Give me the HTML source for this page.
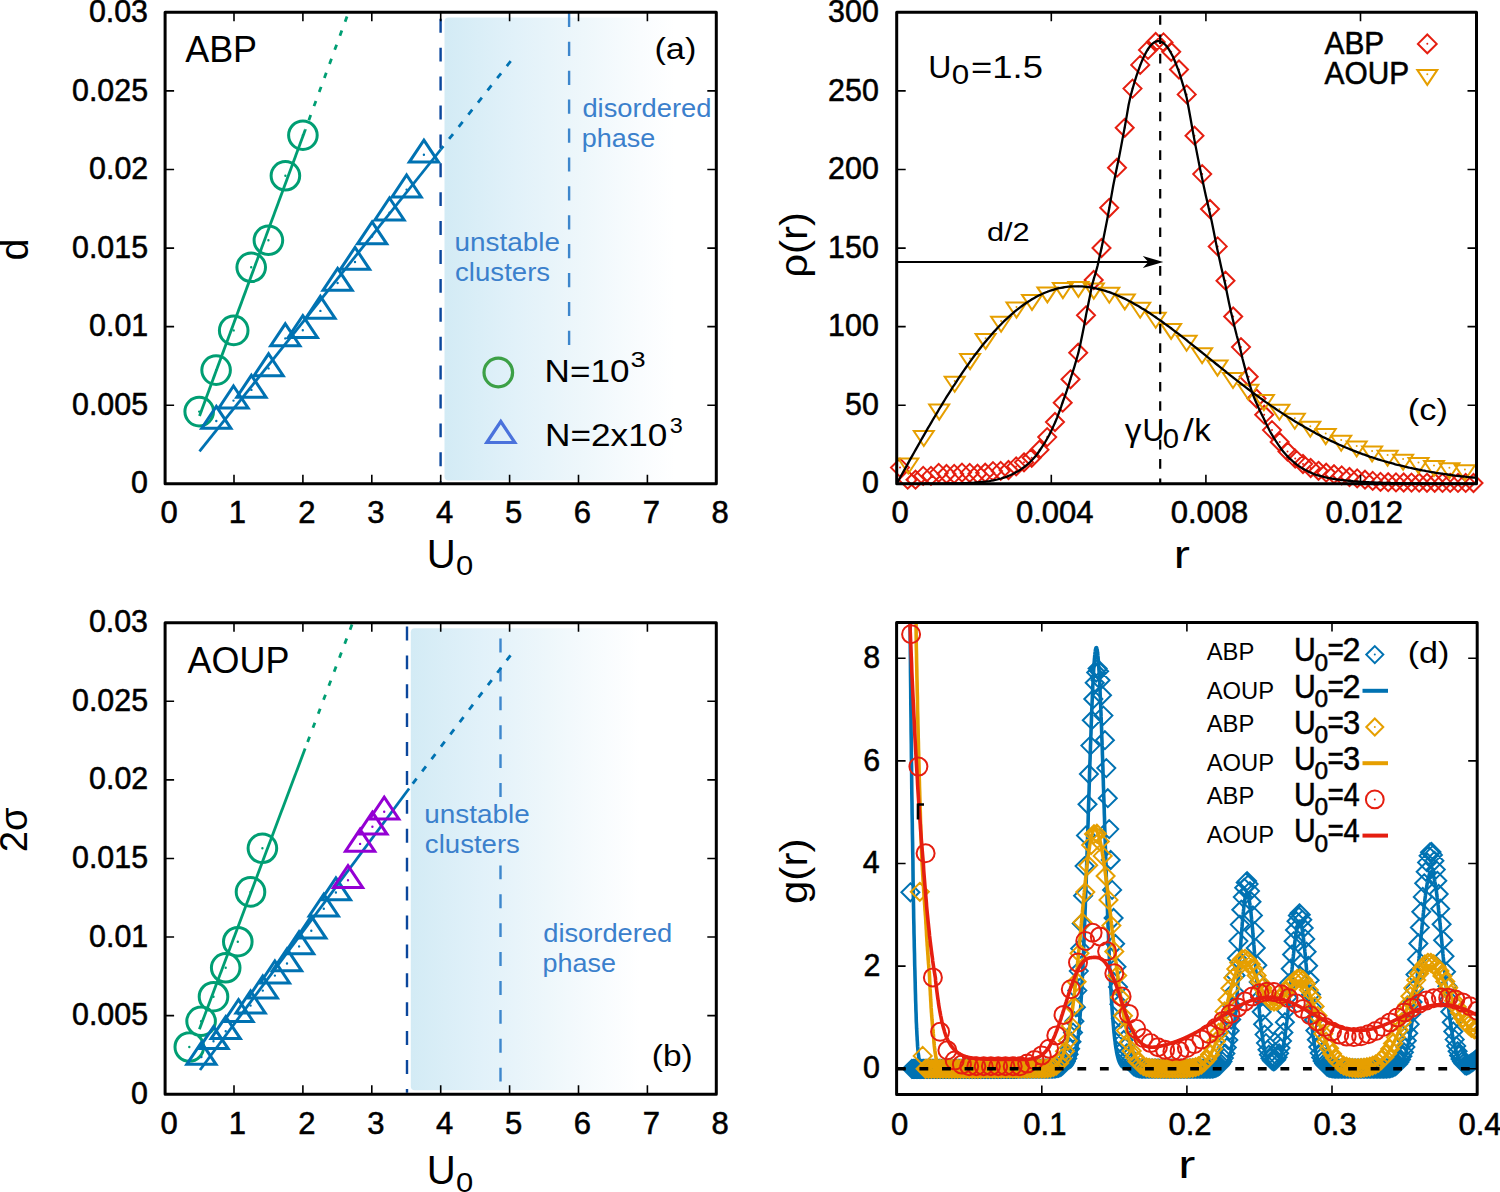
<!DOCTYPE html><html><head><meta charset="utf-8"><style>html,body{margin:0;padding:0;background:#fff;overflow:hidden;width:1500px;height:1192px;}svg{display:block;}</style></head><body><svg width="1500" height="1192" viewBox="0 0 1500 1192" font-family="'Liberation Sans', sans-serif"><defs><linearGradient id="ga" gradientUnits="userSpaceOnUse" x1="444.5" x2="675" y1="0" y2="0"><stop offset="0" stop-color="#d3ebf5"/><stop offset="0.3" stop-color="#e1f1f9"/><stop offset="0.6" stop-color="#eef7fb"/><stop offset="0.85" stop-color="#f9fcfe"/><stop offset="1" stop-color="#ffffff"/></linearGradient><linearGradient id="gb" gradientUnits="userSpaceOnUse" x1="410.8" x2="640" y1="0" y2="0"><stop offset="0" stop-color="#d3ebf5"/><stop offset="0.3" stop-color="#e1f1f9"/><stop offset="0.6" stop-color="#eef7fb"/><stop offset="0.85" stop-color="#f9fcfe"/><stop offset="1" stop-color="#ffffff"/></linearGradient><clipPath id="clipC"><rect x="896.7" y="12.2" width="579.8" height="471.6"/></clipPath><clipPath id="clipD"><rect x="896.6" y="622.4" width="580.6" height="472.0000000000001"/></clipPath><clipPath id="clipA"><rect x="165.1" y="12.3" width="551.1999999999999" height="471.5"/></clipPath><clipPath id="clipB"><rect x="165.1" y="622.7" width="551.1999999999999" height="471.5"/></clipPath></defs><rect width="1500" height="1192" fill="#fff"/><rect x="444.5" y="17.4" width="270.3" height="463.2" rx="4" fill="url(#ga)"/><path d="M440.6,18.8V482.3" stroke="#0b479c" stroke-width="2.4" stroke-dasharray="13.9 15" fill="none"/><path d="M569.1,12.9V346" stroke="#3d86cc" stroke-width="2.4" stroke-dasharray="14.2 14.7" fill="none"/><text x="454.52" y="251.30" font-size="25" font-weight="normal" fill="#3b80cc" textLength="105.43" lengthAdjust="spacingAndGlyphs" >unstable</text><text x="455.09" y="281.10" font-size="25" font-weight="normal" fill="#3b80cc" textLength="95.04" lengthAdjust="spacingAndGlyphs" >clusters</text><text x="582.41" y="117.20" font-size="25" font-weight="normal" fill="#3b80cc" textLength="129.07" lengthAdjust="spacingAndGlyphs" >disordered</text><text x="581.78" y="147.40" font-size="25" font-weight="normal" fill="#3b80cc" textLength="73.42" lengthAdjust="spacingAndGlyphs" >phase</text><path d="M199.5,416.0L305.3,129.8" stroke="#009e73" stroke-width="2.8" fill="none"/><path d="M347.0,16.5L305.3,129.8" stroke="#009e73" stroke-width="2.8" stroke-dasharray="5.5 9.5" fill="none"/><path d="M199.5,451.3L440.8,149.5" stroke="#0072b2" stroke-width="2.8" fill="none"/><path d="M510.7,61.1L440.8,149.5" stroke="#0072b2" stroke-width="2.8" stroke-dasharray="6.3 9.2" fill="none"/><path d="M184.9,411.6a14.3,14.3 0 1,0 28.6,0a14.3,14.3 0 1,0 -28.6,0ZM201.8,370.1a14.3,14.3 0 1,0 28.6,0a14.3,14.3 0 1,0 -28.6,0ZM219.4,330.4a14.3,14.3 0 1,0 28.6,0a14.3,14.3 0 1,0 -28.6,0ZM236.9,267.3a14.3,14.3 0 1,0 28.6,0a14.3,14.3 0 1,0 -28.6,0ZM254.1,240.3a14.3,14.3 0 1,0 28.6,0a14.3,14.3 0 1,0 -28.6,0ZM271.1,175.8a14.3,14.3 0 1,0 28.6,0a14.3,14.3 0 1,0 -28.6,0ZM288.6,135.2a14.3,14.3 0 1,0 28.6,0a14.3,14.3 0 1,0 -28.6,0Z" fill="none" stroke="#009e73" stroke-width="3"/><path d="M198,411.6a1.2,1.2 0 1,0 2.4,0a1.2,1.2 0 1,0 -2.4,0ZM214.9,370.1a1.2,1.2 0 1,0 2.4,0a1.2,1.2 0 1,0 -2.4,0ZM232.5,330.4a1.2,1.2 0 1,0 2.4,0a1.2,1.2 0 1,0 -2.4,0ZM250,267.3a1.2,1.2 0 1,0 2.4,0a1.2,1.2 0 1,0 -2.4,0ZM267.2,240.3a1.2,1.2 0 1,0 2.4,0a1.2,1.2 0 1,0 -2.4,0ZM284.2,175.8a1.2,1.2 0 1,0 2.4,0a1.2,1.2 0 1,0 -2.4,0ZM301.7,135.2a1.2,1.2 0 1,0 2.4,0a1.2,1.2 0 1,0 -2.4,0Z" fill="#009e73"/><path d="M216.3,406.4L230.9,428.3L201.7,428.3ZM233.5,386L248.1,407.9L218.9,407.9ZM251.4,375.3L266,397.2L236.8,397.2ZM268.6,353.8L283.2,375.7L254,375.7ZM285.3,323.8L299.9,345.7L270.7,345.7ZM302.8,315.6L317.4,337.5L288.2,337.5ZM320.4,296.3L335,318.2L305.8,318.2ZM337.6,268.4L352.2,290.3L323,290.3ZM355,247.4L369.6,269.3L340.4,269.3ZM372.1,221.9L386.7,243.8L357.5,243.8ZM389.5,198L404.1,219.9L374.9,219.9ZM406.6,175L421.2,196.9L392,196.9ZM423.9,140.2L438.5,162.1L409.3,162.1Z" fill="none" stroke="#0072b2" stroke-width="3" stroke-linejoin="miter"/><path d="M215.1,421a1.2,1.2 0 1,0 2.4,0a1.2,1.2 0 1,0 -2.4,0ZM232.3,400.6a1.2,1.2 0 1,0 2.4,0a1.2,1.2 0 1,0 -2.4,0ZM250.2,389.9a1.2,1.2 0 1,0 2.4,0a1.2,1.2 0 1,0 -2.4,0ZM267.4,368.4a1.2,1.2 0 1,0 2.4,0a1.2,1.2 0 1,0 -2.4,0ZM284.1,338.4a1.2,1.2 0 1,0 2.4,0a1.2,1.2 0 1,0 -2.4,0ZM301.6,330.2a1.2,1.2 0 1,0 2.4,0a1.2,1.2 0 1,0 -2.4,0ZM319.2,310.9a1.2,1.2 0 1,0 2.4,0a1.2,1.2 0 1,0 -2.4,0ZM336.4,283a1.2,1.2 0 1,0 2.4,0a1.2,1.2 0 1,0 -2.4,0ZM353.8,262a1.2,1.2 0 1,0 2.4,0a1.2,1.2 0 1,0 -2.4,0ZM370.9,236.5a1.2,1.2 0 1,0 2.4,0a1.2,1.2 0 1,0 -2.4,0ZM388.3,212.6a1.2,1.2 0 1,0 2.4,0a1.2,1.2 0 1,0 -2.4,0ZM405.4,189.6a1.2,1.2 0 1,0 2.4,0a1.2,1.2 0 1,0 -2.4,0ZM422.7,154.8a1.2,1.2 0 1,0 2.4,0a1.2,1.2 0 1,0 -2.4,0Z" fill="#0072b2"/><rect x="165.1" y="12.3" width="551.2" height="471.5" fill="none" stroke="#000" stroke-width="3" stroke-linejoin="round"/><path d="M234,483.8v-9M234,12.3v9M302.9,483.8v-9M302.9,12.3v9M371.8,483.8v-9M371.8,12.3v9M440.7,483.8v-9M440.7,12.3v9M509.6,483.8v-9M509.6,12.3v9M578.5,483.8v-9M578.5,12.3v9M647.4,483.8v-9M647.4,12.3v9M165.1,405.2h9M716.3,405.2h-9M165.1,326.6h9M716.3,326.6h-9M165.1,248.1h9M716.3,248.1h-9M165.1,169.5h9M716.3,169.5h-9M165.1,90.9h9M716.3,90.9h-9" stroke="#000" stroke-width="1.6" fill="none"/><text x="131.02" y="493.40" font-size="31" textLength="16.90" lengthAdjust="spacingAndGlyphs" stroke="#000" stroke-width="0.55">0</text><text x="72.02" y="414.82" font-size="31" textLength="76.02" lengthAdjust="spacingAndGlyphs" stroke="#000" stroke-width="0.55">0.005</text><text x="89.08" y="336.24" font-size="31" textLength="59.13" lengthAdjust="spacingAndGlyphs" stroke="#000" stroke-width="0.55">0.01</text><text x="72.02" y="257.66" font-size="31" textLength="76.02" lengthAdjust="spacingAndGlyphs" stroke="#000" stroke-width="0.55">0.015</text><text x="89.08" y="179.08" font-size="31" textLength="59.13" lengthAdjust="spacingAndGlyphs" stroke="#000" stroke-width="0.55">0.02</text><text x="72.02" y="100.50" font-size="31" textLength="76.02" lengthAdjust="spacingAndGlyphs" stroke="#000" stroke-width="0.55">0.025</text><text x="88.88" y="21.92" font-size="31" textLength="59.13" lengthAdjust="spacingAndGlyphs" stroke="#000" stroke-width="0.55">0.03</text><text x="160.40" y="523.30" font-size="31" font-weight="normal" fill="#000" stroke="#000" stroke-width="0.55">0</text><text x="228.85" y="523.30" font-size="31" font-weight="normal" fill="#000" stroke="#000" stroke-width="0.55">1</text><text x="298.20" y="523.30" font-size="31" font-weight="normal" fill="#000" stroke="#000" stroke-width="0.55">2</text><text x="367.15" y="523.30" font-size="31" font-weight="normal" fill="#000" stroke="#000" stroke-width="0.55">3</text><text x="436.10" y="523.30" font-size="31" font-weight="normal" fill="#000" stroke="#000" stroke-width="0.55">4</text><text x="504.90" y="523.30" font-size="31" font-weight="normal" fill="#000" stroke="#000" stroke-width="0.55">5</text><text x="573.65" y="523.30" font-size="31" font-weight="normal" fill="#000" stroke="#000" stroke-width="0.55">6</text><text x="642.65" y="523.30" font-size="31" font-weight="normal" fill="#000" stroke="#000" stroke-width="0.55">7</text><text x="711.60" y="523.30" font-size="31" font-weight="normal" fill="#000" stroke="#000" stroke-width="0.55">8</text><text x="185.20" y="61.50" font-size="36.7" font-weight="normal" fill="#000" textLength="71.89" lengthAdjust="spacingAndGlyphs" >ABP</text><text x="654.43" y="59.10" font-size="30" font-weight="normal" fill="#000" textLength="41.90" lengthAdjust="spacingAndGlyphs" >(a)</text><rect x="410.8" y="628.2" width="304" height="462" rx="4" fill="url(#gb)"/><path d="M407.0,626.5V1092.7" stroke="#0b479c" stroke-width="2.4" stroke-dasharray="13.9 15" fill="none"/><path d="M500.5,638.6V797M500.5,865.4V1082" stroke="#3d86cc" stroke-width="2.4" stroke-dasharray="13.9 15" fill="none"/><text x="424.32" y="823.10" font-size="25" font-weight="normal" fill="#3b80cc" textLength="105.43" lengthAdjust="spacingAndGlyphs" >unstable</text><text x="424.89" y="853.00" font-size="25" font-weight="normal" fill="#3b80cc" textLength="95.04" lengthAdjust="spacingAndGlyphs" >clusters</text><text x="543.21" y="942.30" font-size="25" font-weight="normal" fill="#3b80cc" textLength="129.07" lengthAdjust="spacingAndGlyphs" >disordered</text><text x="542.58" y="971.90" font-size="25" font-weight="normal" fill="#3b80cc" textLength="73.42" lengthAdjust="spacingAndGlyphs" >phase</text><path d="M199.4,1029.3L305.1,748.6" stroke="#009e73" stroke-width="2.8" fill="none"/><path d="M352.0,624.5L305.1,748.6" stroke="#009e73" stroke-width="2.8" stroke-dasharray="5.5 9.5" fill="none"/><path d="M200.0,1070.0L409.1,788.5" stroke="#0072b2" stroke-width="2.8" fill="none"/><path d="M510.5,655.4L409.1,788.5" stroke="#0072b2" stroke-width="2.8" stroke-dasharray="6.3 9.2" fill="none"/><path d="M175,1047a14.3,14.3 0 1,0 28.6,0a14.3,14.3 0 1,0 -28.6,0ZM186.8,1021.3a14.3,14.3 0 1,0 28.6,0a14.3,14.3 0 1,0 -28.6,0ZM199.2,996.7a14.3,14.3 0 1,0 28.6,0a14.3,14.3 0 1,0 -28.6,0ZM211.4,967.8a14.3,14.3 0 1,0 28.6,0a14.3,14.3 0 1,0 -28.6,0ZM223.5,941.7a14.3,14.3 0 1,0 28.6,0a14.3,14.3 0 1,0 -28.6,0ZM236.2,891.9a14.3,14.3 0 1,0 28.6,0a14.3,14.3 0 1,0 -28.6,0ZM248.1,848.3a14.3,14.3 0 1,0 28.6,0a14.3,14.3 0 1,0 -28.6,0Z" fill="none" stroke="#009e73" stroke-width="3"/><path d="M188.1,1047a1.2,1.2 0 1,0 2.4,0a1.2,1.2 0 1,0 -2.4,0ZM199.9,1021.3a1.2,1.2 0 1,0 2.4,0a1.2,1.2 0 1,0 -2.4,0ZM212.3,996.7a1.2,1.2 0 1,0 2.4,0a1.2,1.2 0 1,0 -2.4,0ZM224.5,967.8a1.2,1.2 0 1,0 2.4,0a1.2,1.2 0 1,0 -2.4,0ZM236.6,941.7a1.2,1.2 0 1,0 2.4,0a1.2,1.2 0 1,0 -2.4,0ZM249.3,891.9a1.2,1.2 0 1,0 2.4,0a1.2,1.2 0 1,0 -2.4,0ZM261.2,848.3a1.2,1.2 0 1,0 2.4,0a1.2,1.2 0 1,0 -2.4,0Z" fill="#009e73"/><path d="M201.4,1042.4L216,1064.3L186.8,1064.3ZM213.5,1026.7L228.1,1048.6L198.9,1048.6ZM225.7,1016.7L240.3,1038.6L211.1,1038.6ZM238.5,999.6L253.1,1021.5L223.9,1021.5ZM250.6,991L265.2,1012.9L236,1012.9ZM262.8,976L277.4,997.9L248.2,997.9ZM274.9,961L289.5,982.9L260.3,982.9ZM287,948.9L301.6,970.8L272.4,970.8ZM299.1,931.8L313.7,953.7L284.5,953.7ZM311.3,916.2L325.9,938.1L296.7,938.1ZM323.8,894.1L338.4,916L309.2,916ZM335.9,877.9L350.5,899.8L321.3,899.8Z" fill="none" stroke="#0072b2" stroke-width="3" stroke-linejoin="miter"/><path d="M200.2,1057a1.2,1.2 0 1,0 2.4,0a1.2,1.2 0 1,0 -2.4,0ZM212.3,1041.3a1.2,1.2 0 1,0 2.4,0a1.2,1.2 0 1,0 -2.4,0ZM224.5,1031.3a1.2,1.2 0 1,0 2.4,0a1.2,1.2 0 1,0 -2.4,0ZM237.3,1014.2a1.2,1.2 0 1,0 2.4,0a1.2,1.2 0 1,0 -2.4,0ZM249.4,1005.6a1.2,1.2 0 1,0 2.4,0a1.2,1.2 0 1,0 -2.4,0ZM261.6,990.6a1.2,1.2 0 1,0 2.4,0a1.2,1.2 0 1,0 -2.4,0ZM273.7,975.6a1.2,1.2 0 1,0 2.4,0a1.2,1.2 0 1,0 -2.4,0ZM285.8,963.5a1.2,1.2 0 1,0 2.4,0a1.2,1.2 0 1,0 -2.4,0ZM297.9,946.4a1.2,1.2 0 1,0 2.4,0a1.2,1.2 0 1,0 -2.4,0ZM310.1,930.8a1.2,1.2 0 1,0 2.4,0a1.2,1.2 0 1,0 -2.4,0ZM322.6,908.7a1.2,1.2 0 1,0 2.4,0a1.2,1.2 0 1,0 -2.4,0ZM334.7,892.5a1.2,1.2 0 1,0 2.4,0a1.2,1.2 0 1,0 -2.4,0Z" fill="#0072b2"/><path d="M348,865.6L362.6,887.5L333.4,887.5ZM360.1,829.3L374.7,851.2L345.5,851.2ZM372.4,812.2L387,834.1L357.8,834.1ZM384.2,797.1L398.8,819L369.6,819Z" fill="none" stroke="#9400d3" stroke-width="3" stroke-linejoin="miter"/><path d="M346.8,880.2a1.2,1.2 0 1,0 2.4,0a1.2,1.2 0 1,0 -2.4,0ZM358.9,843.9a1.2,1.2 0 1,0 2.4,0a1.2,1.2 0 1,0 -2.4,0ZM371.2,826.8a1.2,1.2 0 1,0 2.4,0a1.2,1.2 0 1,0 -2.4,0ZM383,811.7a1.2,1.2 0 1,0 2.4,0a1.2,1.2 0 1,0 -2.4,0Z" fill="#9400d3"/><rect x="165.1" y="622.7" width="551.2" height="471.5" fill="none" stroke="#000" stroke-width="3" stroke-linejoin="round"/><path d="M234,1094.2v-9M234,622.7v9M302.9,1094.2v-9M302.9,622.7v9M371.8,1094.2v-9M371.8,622.7v9M440.7,1094.2v-9M440.7,622.7v9M509.6,1094.2v-9M509.6,622.7v9M578.5,1094.2v-9M578.5,622.7v9M647.4,1094.2v-9M647.4,622.7v9M165.1,1015.6h9M716.3,1015.6h-9M165.1,937h9M716.3,937h-9M165.1,858.5h9M716.3,858.5h-9M165.1,779.9h9M716.3,779.9h-9M165.1,701.3h9M716.3,701.3h-9" stroke="#000" stroke-width="1.6" fill="none"/><text x="131.02" y="1103.80" font-size="31" textLength="16.90" lengthAdjust="spacingAndGlyphs" stroke="#000" stroke-width="0.55">0</text><text x="72.02" y="1025.22" font-size="31" textLength="76.02" lengthAdjust="spacingAndGlyphs" stroke="#000" stroke-width="0.55">0.005</text><text x="89.08" y="946.64" font-size="31" textLength="59.13" lengthAdjust="spacingAndGlyphs" stroke="#000" stroke-width="0.55">0.01</text><text x="72.02" y="868.06" font-size="31" textLength="76.02" lengthAdjust="spacingAndGlyphs" stroke="#000" stroke-width="0.55">0.015</text><text x="89.08" y="789.48" font-size="31" textLength="59.13" lengthAdjust="spacingAndGlyphs" stroke="#000" stroke-width="0.55">0.02</text><text x="72.02" y="710.90" font-size="31" textLength="76.02" lengthAdjust="spacingAndGlyphs" stroke="#000" stroke-width="0.55">0.025</text><text x="88.88" y="632.32" font-size="31" textLength="59.13" lengthAdjust="spacingAndGlyphs" stroke="#000" stroke-width="0.55">0.03</text><text x="160.40" y="1133.70" font-size="31" font-weight="normal" fill="#000" stroke="#000" stroke-width="0.55">0</text><text x="228.85" y="1133.70" font-size="31" font-weight="normal" fill="#000" stroke="#000" stroke-width="0.55">1</text><text x="298.20" y="1133.70" font-size="31" font-weight="normal" fill="#000" stroke="#000" stroke-width="0.55">2</text><text x="367.15" y="1133.70" font-size="31" font-weight="normal" fill="#000" stroke="#000" stroke-width="0.55">3</text><text x="436.10" y="1133.70" font-size="31" font-weight="normal" fill="#000" stroke="#000" stroke-width="0.55">4</text><text x="504.90" y="1133.70" font-size="31" font-weight="normal" fill="#000" stroke="#000" stroke-width="0.55">5</text><text x="573.65" y="1133.70" font-size="31" font-weight="normal" fill="#000" stroke="#000" stroke-width="0.55">6</text><text x="642.65" y="1133.70" font-size="31" font-weight="normal" fill="#000" stroke="#000" stroke-width="0.55">7</text><text x="711.60" y="1133.70" font-size="31" font-weight="normal" fill="#000" stroke="#000" stroke-width="0.55">8</text><text x="187.60" y="672.60" font-size="36.7" font-weight="normal" fill="#000" textLength="101.76" lengthAdjust="spacingAndGlyphs" >AOUP</text><text x="651.88" y="1066.40" font-size="30" font-weight="normal" fill="#000" textLength="40.90" lengthAdjust="spacingAndGlyphs" >(b)</text><path d="M484,372.5a14.3,14.3 0 1,0 28.6,0a14.3,14.3 0 1,0 -28.6,0Z" fill="none" stroke="#3ca046" stroke-width="3.2"/><path d="M500.8,421.5L514.8,442.5L486.8,442.5Z" fill="none" stroke="#4a72dc" stroke-width="3.2"/><text x="544.63" y="382.30" font-size="30.5" font-weight="normal" fill="#000" textLength="84.81" lengthAdjust="spacingAndGlyphs" >N=10</text><text x="630.61" y="367.30" font-size="22" font-weight="normal" fill="#000" textLength="15.15" lengthAdjust="spacingAndGlyphs" >3</text><text x="545.12" y="445.60" font-size="30.5" font-weight="normal" fill="#000" textLength="122.24" lengthAdjust="spacingAndGlyphs" >N=2x10</text><text x="669.75" y="433.20" font-size="22" font-weight="normal" fill="#000" textLength="13.05" lengthAdjust="spacingAndGlyphs" >3</text><text x="426.89" y="568.40" font-size="40" font-weight="normal" fill="#000" textLength="29.01" lengthAdjust="spacingAndGlyphs" >U</text><text x="456.00" y="575.20" font-size="28.5" font-weight="normal" fill="#000" textLength="17.25" lengthAdjust="spacingAndGlyphs" >0</text><text x="426.89" y="1184.40" font-size="40" font-weight="normal" fill="#000" textLength="29.01" lengthAdjust="spacingAndGlyphs" >U</text><text x="456.00" y="1191.50" font-size="28.5" font-weight="normal" fill="#000" textLength="17.25" lengthAdjust="spacingAndGlyphs" >0</text><text transform="translate(27.60,260.48) rotate(-90)" x="0" y="0" font-size="40" textLength="22.00" lengthAdjust="spacingAndGlyphs" >d</text><text transform="translate(27.20,852.31) rotate(-90)" x="0" y="0" font-size="38" textLength="44.80" lengthAdjust="spacingAndGlyphs" >2σ</text><path d="M900,458.6L909,467.6L900,476.6L891,467.6ZM907.7,470.7L916.7,479.7L907.7,488.7L898.7,479.7ZM915.5,470.7L924.5,479.7L915.5,488.7L906.5,479.7ZM923.2,466.9L932.2,475.9L923.2,484.9L914.2,475.9ZM931,466.9L940,475.9L931,484.9L922,475.9ZM938.7,463.9L947.7,472.9L938.7,481.9L929.7,472.9ZM946.5,465L955.5,474L946.5,483L937.5,474ZM954.2,464.9L963.2,473.9L954.2,482.9L945.2,473.9ZM962,463.6L971,472.6L962,481.6L953,472.6ZM969.7,463.9L978.7,472.9L969.7,481.9L960.7,472.9ZM977.5,464.7L986.5,473.7L977.5,482.7L968.5,473.7ZM985.2,463.7L994.2,472.7L985.2,481.7L976.2,472.7ZM993,462.1L1002,471.1L993,480.1L984,471.1ZM1000.7,461.9L1009.7,470.9L1000.7,479.9L991.7,470.9ZM1008.5,461L1017.5,470L1008.5,479L999.5,470ZM1016.2,457.4L1025.2,466.4L1016.2,475.4L1007.2,466.4ZM1024,453.3L1033,462.3L1024,471.3L1015,462.3ZM1031.7,448.8L1040.7,457.8L1031.7,466.8L1022.7,457.8ZM1039.5,440.7L1048.5,449.7L1039.5,458.7L1030.5,449.7ZM1047.2,428.1L1056.2,437.1L1047.2,446.1L1038.2,437.1ZM1055,413L1064,422L1055,431L1046,422ZM1062.7,393.7L1071.7,402.7L1062.7,411.7L1053.7,402.7ZM1070.5,370.3L1079.5,379.3L1070.5,388.3L1061.5,379.3ZM1078.2,343.7L1087.2,352.7L1078.2,361.7L1069.2,352.7ZM1086,306.3L1095,315.3L1086,324.3L1077,315.3ZM1093.7,271L1102.7,280L1093.7,289L1084.7,280ZM1101.5,239L1110.5,248L1101.5,257L1092.5,248ZM1109.2,198.8L1118.2,207.8L1109.2,216.8L1100.2,207.8ZM1117,158.7L1126,167.7L1117,176.7L1108,167.7ZM1124.7,118.8L1133.7,127.8L1124.7,136.8L1115.7,127.8ZM1132.5,79.6L1141.5,88.6L1132.5,97.6L1123.5,88.6ZM1140.2,55.9L1149.2,64.9L1140.2,73.9L1131.2,64.9ZM1148,40.9L1157,49.9L1148,58.9L1139,49.9ZM1155.7,33L1164.7,42L1155.7,51L1146.7,42ZM1163.5,33.4L1172.5,42.4L1163.5,51.4L1154.5,42.4ZM1171.2,42.8L1180.2,51.8L1171.2,60.8L1162.2,51.8ZM1179,60.5L1188,69.5L1179,78.5L1170,69.5ZM1186.7,85.4L1195.7,94.4L1186.7,103.4L1177.7,94.4ZM1194.5,126.7L1203.5,135.7L1194.5,144.7L1185.5,135.7ZM1202.2,165.1L1211.2,174.1L1202.2,183.1L1193.2,174.1ZM1210,200L1219,209L1210,218L1201,209ZM1217.7,237.4L1226.7,246.4L1217.7,255.4L1208.7,246.4ZM1225.5,271.7L1234.5,280.7L1225.5,289.7L1216.5,280.7ZM1233.2,307.5L1242.2,316.5L1233.2,325.5L1224.2,316.5ZM1241,338.1L1250,347.1L1241,356.1L1232,347.1ZM1248.7,367.7L1257.7,376.7L1248.7,385.7L1239.7,376.7ZM1256.5,389.5L1265.5,398.5L1256.5,407.5L1247.5,398.5ZM1264.2,405.7L1273.2,414.7L1264.2,423.7L1255.2,414.7ZM1272,421.1L1281,430.1L1272,439.1L1263,430.1ZM1279.7,433L1288.7,442L1279.7,451L1270.7,442ZM1287.5,442.5L1296.5,451.5L1287.5,460.5L1278.5,451.5ZM1295.2,449.6L1304.2,458.6L1295.2,467.6L1286.2,458.6ZM1303,455L1312,464L1303,473L1294,464ZM1310.7,459L1319.7,468L1310.7,477L1301.7,468ZM1318.5,461.8L1327.5,470.8L1318.5,479.8L1309.5,470.8ZM1326.2,463.7L1335.2,472.7L1326.2,481.7L1317.2,472.7ZM1334,465.2L1343,474.2L1334,483.2L1325,474.2ZM1341.7,466.4L1350.7,475.4L1341.7,484.4L1332.7,475.4ZM1349.5,468L1358.5,477L1349.5,486L1340.5,477ZM1357.2,469.4L1366.2,478.4L1357.2,487.4L1348.2,478.4ZM1365,470.7L1374,479.7L1365,488.7L1356,479.7ZM1372.7,471.9L1381.7,480.9L1372.7,489.9L1363.7,480.9ZM1380.5,472.9L1389.5,481.9L1380.5,490.9L1371.5,481.9ZM1388.2,473.2L1397.2,482.2L1388.2,491.2L1379.2,482.2ZM1396,473.4L1405,482.4L1396,491.4L1387,482.4ZM1403.7,473.5L1412.7,482.5L1403.7,491.5L1394.7,482.5ZM1411.5,473.6L1420.5,482.6L1411.5,491.6L1402.5,482.6ZM1419.2,473.7L1428.2,482.7L1419.2,491.7L1410.2,482.7ZM1427,473.8L1436,482.8L1427,491.8L1418,482.8ZM1434.7,473.8L1443.7,482.8L1434.7,491.8L1425.7,482.8ZM1442.5,473.9L1451.5,482.9L1442.5,491.9L1433.5,482.9ZM1450.2,473.9L1459.2,482.9L1450.2,491.9L1441.2,482.9ZM1458,473.9L1467,482.9L1458,491.9L1449,482.9ZM1465.7,473.9L1474.7,482.9L1465.7,491.9L1456.7,482.9ZM1473.5,474L1482.5,483L1473.5,492L1464.5,483Z" fill="none" stroke="#e51e10" stroke-width="2"/><path d="M899,467.6a1.0,1.0 0 1,0 2.0,0a1.0,1.0 0 1,0 -2.0,0ZM906.7,479.7a1.0,1.0 0 1,0 2.0,0a1.0,1.0 0 1,0 -2.0,0ZM914.5,479.7a1.0,1.0 0 1,0 2.0,0a1.0,1.0 0 1,0 -2.0,0ZM922.2,475.9a1.0,1.0 0 1,0 2.0,0a1.0,1.0 0 1,0 -2.0,0ZM930,475.9a1.0,1.0 0 1,0 2.0,0a1.0,1.0 0 1,0 -2.0,0ZM937.7,472.9a1.0,1.0 0 1,0 2.0,0a1.0,1.0 0 1,0 -2.0,0ZM945.5,474a1.0,1.0 0 1,0 2.0,0a1.0,1.0 0 1,0 -2.0,0ZM953.2,473.9a1.0,1.0 0 1,0 2.0,0a1.0,1.0 0 1,0 -2.0,0ZM961,472.6a1.0,1.0 0 1,0 2.0,0a1.0,1.0 0 1,0 -2.0,0ZM968.7,472.9a1.0,1.0 0 1,0 2.0,0a1.0,1.0 0 1,0 -2.0,0ZM976.5,473.7a1.0,1.0 0 1,0 2.0,0a1.0,1.0 0 1,0 -2.0,0ZM984.2,472.7a1.0,1.0 0 1,0 2.0,0a1.0,1.0 0 1,0 -2.0,0ZM992,471.1a1.0,1.0 0 1,0 2.0,0a1.0,1.0 0 1,0 -2.0,0ZM999.7,470.9a1.0,1.0 0 1,0 2.0,0a1.0,1.0 0 1,0 -2.0,0ZM1007.5,470a1.0,1.0 0 1,0 2.0,0a1.0,1.0 0 1,0 -2.0,0ZM1015.2,466.4a1.0,1.0 0 1,0 2.0,0a1.0,1.0 0 1,0 -2.0,0ZM1023,462.3a1.0,1.0 0 1,0 2.0,0a1.0,1.0 0 1,0 -2.0,0ZM1030.7,457.8a1.0,1.0 0 1,0 2.0,0a1.0,1.0 0 1,0 -2.0,0ZM1038.5,449.7a1.0,1.0 0 1,0 2.0,0a1.0,1.0 0 1,0 -2.0,0ZM1046.2,437.1a1.0,1.0 0 1,0 2.0,0a1.0,1.0 0 1,0 -2.0,0ZM1054,422a1.0,1.0 0 1,0 2.0,0a1.0,1.0 0 1,0 -2.0,0ZM1061.7,402.7a1.0,1.0 0 1,0 2.0,0a1.0,1.0 0 1,0 -2.0,0ZM1069.5,379.3a1.0,1.0 0 1,0 2.0,0a1.0,1.0 0 1,0 -2.0,0ZM1077.2,352.7a1.0,1.0 0 1,0 2.0,0a1.0,1.0 0 1,0 -2.0,0ZM1085,315.3a1.0,1.0 0 1,0 2.0,0a1.0,1.0 0 1,0 -2.0,0ZM1092.7,280a1.0,1.0 0 1,0 2.0,0a1.0,1.0 0 1,0 -2.0,0ZM1100.5,248a1.0,1.0 0 1,0 2.0,0a1.0,1.0 0 1,0 -2.0,0ZM1108.2,207.8a1.0,1.0 0 1,0 2.0,0a1.0,1.0 0 1,0 -2.0,0ZM1116,167.7a1.0,1.0 0 1,0 2.0,0a1.0,1.0 0 1,0 -2.0,0ZM1123.7,127.8a1.0,1.0 0 1,0 2.0,0a1.0,1.0 0 1,0 -2.0,0ZM1131.5,88.6a1.0,1.0 0 1,0 2.0,0a1.0,1.0 0 1,0 -2.0,0ZM1139.2,64.9a1.0,1.0 0 1,0 2.0,0a1.0,1.0 0 1,0 -2.0,0ZM1147,49.9a1.0,1.0 0 1,0 2.0,0a1.0,1.0 0 1,0 -2.0,0ZM1154.7,42a1.0,1.0 0 1,0 2.0,0a1.0,1.0 0 1,0 -2.0,0ZM1162.5,42.4a1.0,1.0 0 1,0 2.0,0a1.0,1.0 0 1,0 -2.0,0ZM1170.2,51.8a1.0,1.0 0 1,0 2.0,0a1.0,1.0 0 1,0 -2.0,0ZM1178,69.5a1.0,1.0 0 1,0 2.0,0a1.0,1.0 0 1,0 -2.0,0ZM1185.7,94.4a1.0,1.0 0 1,0 2.0,0a1.0,1.0 0 1,0 -2.0,0ZM1193.5,135.7a1.0,1.0 0 1,0 2.0,0a1.0,1.0 0 1,0 -2.0,0ZM1201.2,174.1a1.0,1.0 0 1,0 2.0,0a1.0,1.0 0 1,0 -2.0,0ZM1209,209a1.0,1.0 0 1,0 2.0,0a1.0,1.0 0 1,0 -2.0,0ZM1216.7,246.4a1.0,1.0 0 1,0 2.0,0a1.0,1.0 0 1,0 -2.0,0ZM1224.5,280.7a1.0,1.0 0 1,0 2.0,0a1.0,1.0 0 1,0 -2.0,0ZM1232.2,316.5a1.0,1.0 0 1,0 2.0,0a1.0,1.0 0 1,0 -2.0,0ZM1240,347.1a1.0,1.0 0 1,0 2.0,0a1.0,1.0 0 1,0 -2.0,0ZM1247.7,376.7a1.0,1.0 0 1,0 2.0,0a1.0,1.0 0 1,0 -2.0,0ZM1255.5,398.5a1.0,1.0 0 1,0 2.0,0a1.0,1.0 0 1,0 -2.0,0ZM1263.2,414.7a1.0,1.0 0 1,0 2.0,0a1.0,1.0 0 1,0 -2.0,0ZM1271,430.1a1.0,1.0 0 1,0 2.0,0a1.0,1.0 0 1,0 -2.0,0ZM1278.7,442a1.0,1.0 0 1,0 2.0,0a1.0,1.0 0 1,0 -2.0,0ZM1286.5,451.5a1.0,1.0 0 1,0 2.0,0a1.0,1.0 0 1,0 -2.0,0ZM1294.2,458.6a1.0,1.0 0 1,0 2.0,0a1.0,1.0 0 1,0 -2.0,0ZM1302,464a1.0,1.0 0 1,0 2.0,0a1.0,1.0 0 1,0 -2.0,0ZM1309.7,468a1.0,1.0 0 1,0 2.0,0a1.0,1.0 0 1,0 -2.0,0ZM1317.5,470.8a1.0,1.0 0 1,0 2.0,0a1.0,1.0 0 1,0 -2.0,0ZM1325.2,472.7a1.0,1.0 0 1,0 2.0,0a1.0,1.0 0 1,0 -2.0,0ZM1333,474.2a1.0,1.0 0 1,0 2.0,0a1.0,1.0 0 1,0 -2.0,0ZM1340.7,475.4a1.0,1.0 0 1,0 2.0,0a1.0,1.0 0 1,0 -2.0,0ZM1348.5,477a1.0,1.0 0 1,0 2.0,0a1.0,1.0 0 1,0 -2.0,0ZM1356.2,478.4a1.0,1.0 0 1,0 2.0,0a1.0,1.0 0 1,0 -2.0,0ZM1364,479.7a1.0,1.0 0 1,0 2.0,0a1.0,1.0 0 1,0 -2.0,0ZM1371.7,480.9a1.0,1.0 0 1,0 2.0,0a1.0,1.0 0 1,0 -2.0,0ZM1379.5,481.9a1.0,1.0 0 1,0 2.0,0a1.0,1.0 0 1,0 -2.0,0ZM1387.2,482.2a1.0,1.0 0 1,0 2.0,0a1.0,1.0 0 1,0 -2.0,0ZM1395,482.4a1.0,1.0 0 1,0 2.0,0a1.0,1.0 0 1,0 -2.0,0ZM1402.7,482.5a1.0,1.0 0 1,0 2.0,0a1.0,1.0 0 1,0 -2.0,0ZM1410.5,482.6a1.0,1.0 0 1,0 2.0,0a1.0,1.0 0 1,0 -2.0,0ZM1418.2,482.7a1.0,1.0 0 1,0 2.0,0a1.0,1.0 0 1,0 -2.0,0ZM1426,482.8a1.0,1.0 0 1,0 2.0,0a1.0,1.0 0 1,0 -2.0,0ZM1433.7,482.8a1.0,1.0 0 1,0 2.0,0a1.0,1.0 0 1,0 -2.0,0ZM1441.5,482.9a1.0,1.0 0 1,0 2.0,0a1.0,1.0 0 1,0 -2.0,0ZM1449.2,482.9a1.0,1.0 0 1,0 2.0,0a1.0,1.0 0 1,0 -2.0,0ZM1457,482.9a1.0,1.0 0 1,0 2.0,0a1.0,1.0 0 1,0 -2.0,0ZM1464.7,482.9a1.0,1.0 0 1,0 2.0,0a1.0,1.0 0 1,0 -2.0,0ZM1472.5,483a1.0,1.0 0 1,0 2.0,0a1.0,1.0 0 1,0 -2.0,0Z" fill="#e51e10"/><path d="M898.3,458.5L918.3,458.5L908.3,473.5ZM913.8,431L933.8,431L923.8,446ZM929.2,404.6L949.2,404.6L939.2,419.6ZM944.7,376.7L964.7,376.7L954.7,391.7ZM960.1,354.1L980.1,354.1L970.1,369.1ZM975.6,333.9L995.6,333.9L985.6,348.9ZM991.1,316.7L1011.1,316.7L1001.1,331.7ZM1006.5,302.6L1026.5,302.6L1016.5,317.6ZM1022,294.9L1042,294.9L1032,309.9ZM1037.4,287.4L1057.4,287.4L1047.4,302.4ZM1052.9,283.1L1072.9,283.1L1062.9,298.1ZM1068.4,281.9L1088.4,281.9L1078.4,296.9ZM1083.8,283.6L1103.8,283.6L1093.8,298.6ZM1099.3,287.8L1119.3,287.8L1109.3,302.8ZM1114.8,294.4L1134.8,294.4L1124.8,309.4ZM1130.2,302.8L1150.2,302.8L1140.2,317.8ZM1145.7,312.8L1165.7,312.8L1155.7,327.8ZM1161.1,323.9L1181.1,323.9L1171.1,338.9ZM1176.6,335.8L1196.6,335.8L1186.6,350.8ZM1192.1,348.2L1212.1,348.2L1202.1,363.2ZM1207.5,360.6L1227.5,360.6L1217.5,375.6ZM1223,373L1243,373L1233,388ZM1238.4,384.7L1258.4,384.7L1248.4,399.7ZM1253.9,395.1L1273.9,395.1L1263.9,410.1ZM1269.4,404.8L1289.4,404.8L1279.4,419.8ZM1284.8,413.8L1304.8,413.8L1294.8,428.8ZM1300.3,421.8L1320.3,421.8L1310.3,436.8ZM1315.7,429.1L1335.7,429.1L1325.7,444.1ZM1331.2,435.7L1351.2,435.7L1341.2,450.7ZM1346.7,441.5L1366.7,441.5L1356.7,456.5ZM1362.1,446.5L1382.1,446.5L1372.1,461.5ZM1377.6,450.7L1397.6,450.7L1387.6,465.7ZM1393.1,454.7L1413.1,454.7L1403.1,469.7ZM1408.5,458.1L1428.5,458.1L1418.5,473.1ZM1424,461L1444,461L1434,476ZM1439.4,463.3L1459.4,463.3L1449.4,478.3ZM1454.9,465.2L1474.9,465.2L1464.9,480.2Z" fill="none" stroke="#e69f00" stroke-width="2" stroke-linejoin="miter"/><path d="M907.3,462.9a1.0,1.0 0 1,0 2.0,0a1.0,1.0 0 1,0 -2.0,0ZM922.8,435.4a1.0,1.0 0 1,0 2.0,0a1.0,1.0 0 1,0 -2.0,0ZM938.2,409a1.0,1.0 0 1,0 2.0,0a1.0,1.0 0 1,0 -2.0,0ZM953.7,381.1a1.0,1.0 0 1,0 2.0,0a1.0,1.0 0 1,0 -2.0,0ZM969.1,358.5a1.0,1.0 0 1,0 2.0,0a1.0,1.0 0 1,0 -2.0,0ZM984.6,338.3a1.0,1.0 0 1,0 2.0,0a1.0,1.0 0 1,0 -2.0,0ZM1000.1,321.1a1.0,1.0 0 1,0 2.0,0a1.0,1.0 0 1,0 -2.0,0ZM1015.5,307a1.0,1.0 0 1,0 2.0,0a1.0,1.0 0 1,0 -2.0,0ZM1031,299.3a1.0,1.0 0 1,0 2.0,0a1.0,1.0 0 1,0 -2.0,0ZM1046.4,291.8a1.0,1.0 0 1,0 2.0,0a1.0,1.0 0 1,0 -2.0,0ZM1061.9,287.5a1.0,1.0 0 1,0 2.0,0a1.0,1.0 0 1,0 -2.0,0ZM1077.4,286.3a1.0,1.0 0 1,0 2.0,0a1.0,1.0 0 1,0 -2.0,0ZM1092.8,288a1.0,1.0 0 1,0 2.0,0a1.0,1.0 0 1,0 -2.0,0ZM1108.3,292.2a1.0,1.0 0 1,0 2.0,0a1.0,1.0 0 1,0 -2.0,0ZM1123.8,298.8a1.0,1.0 0 1,0 2.0,0a1.0,1.0 0 1,0 -2.0,0ZM1139.2,307.2a1.0,1.0 0 1,0 2.0,0a1.0,1.0 0 1,0 -2.0,0ZM1154.7,317.2a1.0,1.0 0 1,0 2.0,0a1.0,1.0 0 1,0 -2.0,0ZM1170.1,328.3a1.0,1.0 0 1,0 2.0,0a1.0,1.0 0 1,0 -2.0,0ZM1185.6,340.2a1.0,1.0 0 1,0 2.0,0a1.0,1.0 0 1,0 -2.0,0ZM1201.1,352.6a1.0,1.0 0 1,0 2.0,0a1.0,1.0 0 1,0 -2.0,0ZM1216.5,365a1.0,1.0 0 1,0 2.0,0a1.0,1.0 0 1,0 -2.0,0ZM1232,377.4a1.0,1.0 0 1,0 2.0,0a1.0,1.0 0 1,0 -2.0,0ZM1247.4,389.1a1.0,1.0 0 1,0 2.0,0a1.0,1.0 0 1,0 -2.0,0ZM1262.9,399.5a1.0,1.0 0 1,0 2.0,0a1.0,1.0 0 1,0 -2.0,0ZM1278.4,409.2a1.0,1.0 0 1,0 2.0,0a1.0,1.0 0 1,0 -2.0,0ZM1293.8,418.2a1.0,1.0 0 1,0 2.0,0a1.0,1.0 0 1,0 -2.0,0ZM1309.3,426.2a1.0,1.0 0 1,0 2.0,0a1.0,1.0 0 1,0 -2.0,0ZM1324.7,433.5a1.0,1.0 0 1,0 2.0,0a1.0,1.0 0 1,0 -2.0,0ZM1340.2,440.1a1.0,1.0 0 1,0 2.0,0a1.0,1.0 0 1,0 -2.0,0ZM1355.7,445.9a1.0,1.0 0 1,0 2.0,0a1.0,1.0 0 1,0 -2.0,0ZM1371.1,450.9a1.0,1.0 0 1,0 2.0,0a1.0,1.0 0 1,0 -2.0,0ZM1386.6,455.1a1.0,1.0 0 1,0 2.0,0a1.0,1.0 0 1,0 -2.0,0ZM1402.1,459.1a1.0,1.0 0 1,0 2.0,0a1.0,1.0 0 1,0 -2.0,0ZM1417.5,462.5a1.0,1.0 0 1,0 2.0,0a1.0,1.0 0 1,0 -2.0,0ZM1433,465.4a1.0,1.0 0 1,0 2.0,0a1.0,1.0 0 1,0 -2.0,0ZM1448.4,467.7a1.0,1.0 0 1,0 2.0,0a1.0,1.0 0 1,0 -2.0,0ZM1463.9,469.6a1.0,1.0 0 1,0 2.0,0a1.0,1.0 0 1,0 -2.0,0Z" fill="#e69f00"/><g clip-path="url(#clipC)"><path d="M896.7,483.8L898.6,483.8L900.6,483.8L902.5,483.8L904.4,483.8L906.4,483.8L908.3,483.8L910.2,483.8L912.2,483.8L914.1,483.8L916,483.8L918,483.8L919.9,483.8L921.8,483.7L923.8,483.7L925.7,483.7L927.6,483.7L929.6,483.7L931.5,483.7L933.4,483.7L935.4,483.7L937.3,483.7L939.2,483.6L941.2,483.6L943.1,483.6L945,483.6L946.9,483.6L948.9,483.5L950.8,483.5L952.7,483.5L954.7,483.4L956.6,483.4L958.5,483.3L960.5,483.3L962.4,483.2L964.3,483.2L966.3,483.1L968.2,483L970.1,482.9L972.1,482.8L974,482.7L975.9,482.5L977.9,482.4L979.8,482.2L981.7,482L983.7,481.8L985.6,481.6L987.5,481.3L989.5,481.1L991.4,480.7L993.3,480.4L995.3,480L997.2,479.5L999.1,479L1001.1,478.5L1003,477.9L1004.9,477.3L1006.9,476.6L1008.8,475.8L1010.7,475L1012.7,474.1L1014.6,473L1016.5,472L1018.5,470.9L1020.4,469.7L1022.3,468.4L1024.3,467L1026.2,465.5L1028.1,463.8L1030.1,462L1032,460L1033.9,457.9L1035.9,455.7L1037.8,453.2L1039.7,450.5L1041.6,447.6L1043.6,444.5L1045.5,441.5L1047.4,438.2L1049.4,434.6L1051.3,430.8L1053.2,426.6L1055.2,422.3L1057.1,417.6L1059,412.5L1061,407.1L1062.9,401.5L1064.8,396.3L1066.8,390.7L1068.7,384.8L1070.6,378.5L1072.6,372.4L1074.5,366.3L1076.4,359.7L1078.4,352.8L1080.3,344.5L1082.2,335.2L1084.2,325.2L1086.1,314.6L1088,305.5L1090,295.8L1091.9,285.7L1093.8,278.8L1095.8,272.4L1097.7,265.3L1099.6,256.6L1101.6,247.7L1103.5,238.3L1105.4,228.6L1107.4,218.5L1109.3,208L1111.2,197.1L1113.2,185.8L1115.1,176.3L1117,167L1119,157.4L1120.9,147.6L1122.8,137.4L1124.8,126.9L1126.7,116.1L1128.6,105L1130.6,96L1132.5,89L1134.4,82.5L1136.3,76.3L1138.3,70.6L1140.2,65.4L1142.1,60.6L1144.1,56.3L1146,52.5L1147.9,49.2L1149.9,46.5L1151.8,44.3L1153.7,42.7L1155.7,41.6L1157.6,41.1L1159.5,41.2L1161.5,41.8L1163.4,43L1165.3,44.7L1167.3,47L1169.2,49.9L1171.1,53.2L1173.1,57.1L1175,61.5L1176.9,66.4L1178.9,71.7L1180.8,77.5L1182.7,83.8L1184.7,90.4L1186.6,97.4L1188.5,107.2L1190.5,118.3L1192.4,129L1194.3,139.4L1196.3,149.6L1198.2,159.4L1200.1,168.9L1202.1,178.2L1204,187.2L1205.9,196L1207.9,204.6L1209.8,213L1211.7,221.2L1213.7,231.3L1215.6,241L1217.5,250.3L1219.5,259.2L1221.4,267.9L1223.3,276.1L1225.3,284.4L1227.2,294L1229.1,303.2L1231,312L1233,320.3L1234.9,328.2L1236.8,335.8L1238.8,342.9L1240.7,350.8L1242.6,359L1244.6,366.6L1246.5,373.8L1248.4,380.5L1250.4,386.9L1252.3,392.8L1254.2,397.9L1256.2,402.5L1258.1,406.9L1260,411.1L1262,415L1263.9,418.7L1265.8,423L1267.8,427L1269.7,430.7L1271.6,434.2L1273.6,437.5L1275.5,440.5L1277.4,443.4L1279.4,446.3L1281.3,449L1283.2,451.4L1285.2,453.7L1287.1,455.9L1289,457.9L1291,459.7L1292.9,461.4L1294.8,463L1296.8,464.6L1298.7,466L1300.6,467.3L1302.6,468.5L1304.5,469.6L1306.4,470.6L1308.4,471.6L1310.3,472.5L1312.2,473.3L1314.2,474.1L1316.1,474.8L1318,475.4L1320,475.9L1321.9,476.4L1323.8,476.9L1325.7,477.3L1327.7,477.8L1329.6,478.1L1331.5,478.5L1333.5,478.8L1335.4,479.2L1337.3,479.5L1339.3,479.7L1341.2,480L1343.1,480.2L1345.1,480.4L1347,480.6L1348.9,480.8L1350.9,481L1352.8,481.2L1354.7,481.3L1356.7,481.5L1358.6,481.6L1360.5,481.8L1362.5,481.9L1364.4,482L1366.3,482.1L1368.3,482.2L1370.2,482.3L1372.1,482.4L1374.1,482.5L1376,482.6L1377.9,482.6L1379.9,482.7L1381.8,482.8L1383.7,482.8L1385.7,482.9L1387.6,483L1389.5,483L1391.5,483.1L1393.4,483.1L1395.3,483.1L1397.3,483.2L1399.2,483.2L1401.1,483.3L1403.1,483.3L1405,483.3L1406.9,483.4L1408.9,483.4L1410.8,483.4L1412.7,483.4L1414.7,483.5L1416.6,483.5L1418.5,483.5L1420.4,483.5L1422.4,483.5L1424.3,483.5L1426.2,483.6L1428.2,483.6L1430.1,483.6L1432,483.6L1434,483.6L1435.9,483.6L1437.8,483.6L1439.8,483.6L1441.7,483.7L1443.6,483.7L1445.6,483.7L1447.5,483.7L1449.4,483.7L1451.4,483.7L1453.3,483.7L1455.2,483.7L1457.2,483.7L1459.1,483.7L1461,483.7L1463,483.7L1464.9,483.7L1466.8,483.7L1468.8,483.7L1470.7,483.7L1472.6,483.7L1474.6,483.8L1476.5,483.8" fill="none" stroke="#000" stroke-width="2.3"/><path d="M896.7,483.8L898.6,480.3L900.6,476.8L902.5,473.3L904.4,469.8L906.4,466.4L908.3,462.9L910.2,459.4L912.2,455.9L914.1,452.5L916,449.1L918,445.6L919.9,442.2L921.8,438.8L923.8,435.4L925.7,432.1L927.6,428.7L929.6,425.4L931.5,422.1L933.4,418.8L935.4,415.5L937.3,412.3L939.2,409L941.2,405.8L943.1,402.7L945,399.5L946.9,396.4L948.9,393.3L950.8,390.3L952.7,387.2L954.7,384.3L956.6,381.3L958.5,378.4L960.5,375.5L962.4,372.6L964.3,369.8L966.3,367L968.2,364.3L970.1,361.6L972.1,358.9L974,356.3L975.9,353.7L977.9,351.2L979.8,348.7L981.7,346.2L983.7,343.8L985.6,341.5L987.5,339.2L989.5,336.9L991.4,334.7L993.3,332.5L995.3,330.4L997.2,328.3L999.1,326.2L1001.1,324.2L1003,322.3L1004.9,320.4L1006.9,318.6L1008.8,316.8L1010.7,315.1L1012.7,313.4L1014.6,311.7L1016.5,310.1L1018.5,308.6L1020.4,307.1L1022.3,305.7L1024.3,304.3L1026.2,303L1028.1,301.7L1030.1,300.5L1032,299.3L1033.9,298.2L1035.9,297.1L1037.8,296.1L1039.7,295.1L1041.6,294.2L1043.6,293.3L1045.5,292.5L1047.4,291.8L1049.4,291L1051.3,290.4L1053.2,289.8L1055.2,289.2L1057.1,288.7L1059,288.2L1061,287.8L1062.9,287.5L1064.8,287.1L1066.8,286.9L1068.7,286.7L1070.6,286.5L1072.6,286.4L1074.5,286.3L1076.4,286.3L1078.4,286.3L1080.3,286.3L1082.2,286.4L1084.2,286.6L1086.1,286.8L1088,287L1090,287.3L1091.9,287.6L1093.8,288L1095.8,288.4L1097.7,288.8L1099.6,289.3L1101.6,289.8L1103.5,290.3L1105.4,290.9L1107.4,291.6L1109.3,292.2L1111.2,292.9L1113.2,293.7L1115.1,294.4L1117,295.2L1119,296.1L1120.9,297L1122.8,297.9L1124.8,298.8L1126.7,299.7L1128.6,300.7L1130.6,301.8L1132.5,302.8L1134.4,303.9L1136.3,305L1138.3,306.1L1140.2,307.2L1142.1,308.4L1144.1,309.6L1146,310.8L1147.9,312.1L1149.9,313.3L1151.8,314.6L1153.7,315.9L1155.7,317.2L1157.6,318.6L1159.5,319.9L1161.5,321.3L1163.4,322.7L1165.3,324.1L1167.3,325.5L1169.2,326.9L1171.1,328.3L1173.1,329.8L1175,331.3L1176.9,332.7L1178.9,334.2L1180.8,335.7L1182.7,337.2L1184.7,338.7L1186.6,340.2L1188.5,341.8L1190.5,343.3L1192.4,344.8L1194.3,346.4L1196.3,347.9L1198.2,349.5L1200.1,351L1202.1,352.6L1204,354.1L1205.9,355.7L1207.9,357.3L1209.8,358.8L1211.7,360.4L1213.7,361.9L1215.6,363.5L1217.5,365L1219.5,366.6L1221.4,368.1L1223.3,369.7L1225.3,371.2L1227.2,372.8L1229.1,374.3L1231,375.8L1233,377.4L1234.9,378.9L1236.8,380.4L1238.8,381.9L1240.7,383.4L1242.6,384.9L1244.6,386.4L1246.5,387.8L1248.4,389.3L1250.4,390.8L1252.3,392.2L1254.2,393.6L1256.2,395.1L1258.1,396.5L1260,397.9L1262,399.3L1263.9,400.7L1265.8,402.1L1267.8,403.4L1269.7,404.8L1271.6,406.1L1273.6,407.4L1275.5,408.8L1277.4,410.1L1279.4,411.4L1281.3,412.6L1283.2,413.9L1285.2,415.2L1287.1,416.4L1289,417.6L1291,418.8L1292.9,420L1294.8,421.2L1296.8,422.4L1298.7,423.6L1300.6,424.7L1302.6,425.8L1304.5,427L1306.4,428.1L1308.4,429.1L1310.3,430.2L1312.2,431.3L1314.2,432.3L1316.1,433.4L1318,434.4L1320,435.4L1321.9,436.4L1323.8,437.4L1325.7,438.3L1327.7,439.3L1329.6,440.2L1331.5,441.1L1333.5,442L1335.4,442.9L1337.3,443.8L1339.3,444.7L1341.2,445.5L1343.1,446.4L1345.1,447.2L1347,448L1348.9,448.8L1350.9,449.6L1352.8,450.4L1354.7,451.1L1356.7,451.9L1358.6,452.6L1360.5,453.3L1362.5,454.1L1364.4,454.7L1366.3,455.4L1368.3,456.1L1370.2,456.8L1372.1,457.4L1374.1,458L1376,458.7L1377.9,459.3L1379.9,459.9L1381.8,460.5L1383.7,461L1385.7,461.6L1387.6,462.2L1389.5,462.7L1391.5,463.2L1393.4,463.7L1395.3,464.3L1397.3,464.8L1399.2,465.2L1401.1,465.7L1403.1,466.2L1405,466.7L1406.9,467.1L1408.9,467.5L1410.8,468L1412.7,468.4L1414.7,468.8L1416.6,469.2L1418.5,469.6L1420.4,470L1422.4,470.4L1424.3,470.7L1426.2,471.1L1428.2,471.4L1430.1,471.8L1432,472.1L1434,472.4L1435.9,472.8L1437.8,473.1L1439.8,473.4L1441.7,473.7L1443.6,474L1445.6,474.2L1447.5,474.5L1449.4,474.8L1451.4,475L1453.3,475.3L1455.2,475.6L1457.2,475.8L1459.1,476L1461,476.3L1463,476.5L1464.9,476.7L1466.8,476.9L1468.8,477.1L1470.7,477.3L1472.6,477.5L1474.6,477.7L1476.5,477.9" fill="none" stroke="#000" stroke-width="2.3"/></g><path d="M1160.2,15.2V483" stroke="#000" stroke-width="2.2" stroke-dasharray="9.6 9.7" fill="none"/><path d="M897,261.9H1150" stroke="#000" stroke-width="2"/><path d="M1163.3,261.9L1142.8,255.9L1148.3,261.9L1142.8,267.9Z" fill="#000"/><rect x="896.7" y="12.2" width="579.8" height="471.6" fill="none" stroke="#000" stroke-width="3" stroke-linejoin="round"/><path d="M1051.3,483.8v-9M1051.3,12.2v9M1205.9,483.8v-9M1205.9,12.2v9M1360.5,483.8v-9M1360.5,12.2v9M896.7,405.2h9M1476.5,405.2h-9M896.7,326.6h9M1476.5,326.6h-9M896.7,248.1h9M1476.5,248.1h-9M896.7,169.5h9M1476.5,169.5h-9M896.7,90.9h9M1476.5,90.9h-9" stroke="#000" stroke-width="1.6" fill="none"/><text x="861.92" y="493.40" font-size="31" textLength="16.90" lengthAdjust="spacingAndGlyphs" stroke="#000" stroke-width="0.55">0</text><text x="845.06" y="414.82" font-size="31" textLength="33.79" lengthAdjust="spacingAndGlyphs" stroke="#000" stroke-width="0.55">50</text><text x="828.11" y="336.24" font-size="31" textLength="50.69" lengthAdjust="spacingAndGlyphs" stroke="#000" stroke-width="0.55">100</text><text x="828.11" y="257.66" font-size="31" textLength="50.69" lengthAdjust="spacingAndGlyphs" stroke="#000" stroke-width="0.55">150</text><text x="828.11" y="179.08" font-size="31" textLength="50.69" lengthAdjust="spacingAndGlyphs" stroke="#000" stroke-width="0.55">200</text><text x="828.11" y="100.50" font-size="31" textLength="50.69" lengthAdjust="spacingAndGlyphs" stroke="#000" stroke-width="0.55">250</text><text x="828.11" y="21.92" font-size="31" textLength="50.69" lengthAdjust="spacingAndGlyphs" stroke="#000" stroke-width="0.55">300</text><text x="891.60" y="523.20" font-size="31" font-weight="normal" fill="#000" stroke="#000" stroke-width="0.55">0</text><text x="1015.91" y="523.20" font-size="31" font-weight="normal" fill="#000" stroke="#000" stroke-width="0.55">0.004</text><text x="1170.72" y="523.20" font-size="31" font-weight="normal" fill="#000" stroke="#000" stroke-width="0.55">0.008</text><text x="1325.44" y="523.20" font-size="31" font-weight="normal" fill="#000" stroke="#000" stroke-width="0.55">0.012</text><text x="928.26" y="78.30" font-size="31.5" font-weight="normal" fill="#000" textLength="23.13" lengthAdjust="spacingAndGlyphs" >U</text><text x="951.87" y="84.40" font-size="28" font-weight="normal" fill="#000" textLength="17.43" lengthAdjust="spacingAndGlyphs" >0</text><text x="971.07" y="78.30" font-size="31.5" font-weight="normal" fill="#000" textLength="71.82" lengthAdjust="spacingAndGlyphs" >=1.5</text><text x="986.90" y="240.80" font-size="26" font-weight="normal" fill="#000" textLength="42.77" lengthAdjust="spacingAndGlyphs" >d/2</text><text x="1124.69" y="441.00" font-size="31.5" font-weight="normal" fill="#000" textLength="16.66" lengthAdjust="spacingAndGlyphs" >γ</text><text x="1142.49" y="441.20" font-size="31.5" font-weight="normal" fill="#000" textLength="21.86" lengthAdjust="spacingAndGlyphs" >U</text><text x="1162.85" y="447.60" font-size="28" font-weight="normal" fill="#000" textLength="16.27" lengthAdjust="spacingAndGlyphs" >0</text><text x="1183.20" y="441.20" font-size="31.5" font-weight="normal" fill="#000" textLength="10.46" lengthAdjust="spacingAndGlyphs" >/</text><text x="1194.19" y="441.20" font-size="31.5" font-weight="normal" fill="#000" textLength="16.55" lengthAdjust="spacingAndGlyphs" >k</text><text x="1407.83" y="419.70" font-size="30" font-weight="normal" fill="#000" textLength="40.03" lengthAdjust="spacingAndGlyphs" >(c)</text><text x="1324.61" y="53.80" font-size="31.5" font-weight="normal" fill="#000" textLength="59.64" lengthAdjust="spacingAndGlyphs" stroke="#000" stroke-width="0.55">ABP</text><text x="1324.61" y="83.90" font-size="31.5" font-weight="normal" fill="#000" textLength="84.58" lengthAdjust="spacingAndGlyphs" stroke="#000" stroke-width="0.55">AOUP</text><path d="M1427.3,34.5L1436.7,43.9L1427.3,53.3L1417.9,43.9Z" fill="none" stroke="#e51e10" stroke-width="2"/><path d="M1417.3,69.9L1437.3,69.9L1427.3,84.9Z" fill="none" stroke="#e69f00" stroke-width="2"/><path d="M1426.3,43.7a1.0,1.0 0 1,0 2.0,0a1.0,1.0 0 1,0 -2.0,0Z" fill="#e51e10"/><path d="M1426.3,74.3a1.0,1.0 0 1,0 2.0,0a1.0,1.0 0 1,0 -2.0,0Z" fill="#e69f00"/><text transform="translate(806.80,277.85) rotate(-90)" x="0" y="0" font-size="38" textLength="65.78" lengthAdjust="spacingAndGlyphs" >ρ(r)</text><text x="1173.82" y="567.60" font-size="38" font-weight="normal" fill="#000" textLength="16.12" lengthAdjust="spacingAndGlyphs" >r</text><g clip-path="url(#clipD)"><path d="M910.4,883.3L919.4,892.3L910.4,901.3L901.4,892.3ZM911.8,1059.8L920.8,1068.8L911.8,1077.8L902.8,1068.8ZM913.3,1059.8L922.3,1068.8L913.3,1077.8L904.3,1068.8ZM914.7,1059.8L923.7,1068.8L914.7,1077.8L905.7,1068.8ZM916.2,1059.8L925.2,1068.8L916.2,1077.8L907.2,1068.8ZM917.6,1059.8L926.6,1068.8L917.6,1077.8L908.6,1068.8ZM919.1,1059.8L928.1,1068.8L919.1,1077.8L910.1,1068.8ZM920.5,1059.8L929.5,1068.8L920.5,1077.8L911.5,1068.8ZM922,1059.8L931,1068.8L922,1077.8L913,1068.8ZM923.5,1059.8L932.5,1068.8L923.5,1077.8L914.5,1068.8ZM924.9,1059.8L933.9,1068.8L924.9,1077.8L915.9,1068.8ZM926.4,1059.8L935.4,1068.8L926.4,1077.8L917.4,1068.8ZM927.8,1059.8L936.8,1068.8L927.8,1077.8L918.8,1068.8ZM929.3,1059.8L938.3,1068.8L929.3,1077.8L920.3,1068.8ZM930.7,1059.8L939.7,1068.8L930.7,1077.8L921.7,1068.8ZM932.2,1059.8L941.2,1068.8L932.2,1077.8L923.2,1068.8ZM933.6,1059.8L942.6,1068.8L933.6,1077.8L924.6,1068.8ZM935.1,1059.8L944.1,1068.8L935.1,1077.8L926.1,1068.8ZM936.5,1059.8L945.5,1068.8L936.5,1077.8L927.5,1068.8ZM938,1059.8L947,1068.8L938,1077.8L929,1068.8ZM939.4,1059.8L948.4,1068.8L939.4,1077.8L930.4,1068.8ZM940.9,1059.8L949.9,1068.8L940.9,1077.8L931.9,1068.8ZM942.3,1059.8L951.3,1068.8L942.3,1077.8L933.3,1068.8ZM943.8,1059.8L952.8,1068.8L943.8,1077.8L934.8,1068.8ZM945.2,1059.8L954.2,1068.8L945.2,1077.8L936.2,1068.8ZM946.7,1059.8L955.7,1068.8L946.7,1077.8L937.7,1068.8ZM948.1,1059.8L957.1,1068.8L948.1,1077.8L939.1,1068.8ZM949.6,1059.8L958.6,1068.8L949.6,1077.8L940.6,1068.8ZM951,1059.8L960,1068.8L951,1077.8L942,1068.8ZM952.5,1059.8L961.5,1068.8L952.5,1077.8L943.5,1068.8ZM953.9,1059.8L962.9,1068.8L953.9,1077.8L944.9,1068.8ZM955.4,1059.8L964.4,1068.8L955.4,1077.8L946.4,1068.8ZM956.8,1059.8L965.8,1068.8L956.8,1077.8L947.8,1068.8ZM958.3,1059.8L967.3,1068.8L958.3,1077.8L949.3,1068.8ZM959.7,1059.8L968.7,1068.8L959.7,1077.8L950.7,1068.8ZM961.2,1059.8L970.2,1068.8L961.2,1077.8L952.2,1068.8ZM962.6,1059.8L971.6,1068.8L962.6,1077.8L953.6,1068.8ZM964.1,1059.8L973.1,1068.8L964.1,1077.8L955.1,1068.8ZM965.5,1059.8L974.5,1068.8L965.5,1077.8L956.5,1068.8ZM967,1059.8L976,1068.8L967,1077.8L958,1068.8ZM968.4,1059.8L977.4,1068.8L968.4,1077.8L959.4,1068.8ZM969.9,1059.8L978.9,1068.8L969.9,1077.8L960.9,1068.8ZM971.4,1059.8L980.4,1068.8L971.4,1077.8L962.4,1068.8ZM972.8,1059.8L981.8,1068.8L972.8,1077.8L963.8,1068.8ZM974.3,1059.8L983.3,1068.8L974.3,1077.8L965.3,1068.8ZM975.7,1059.8L984.7,1068.8L975.7,1077.8L966.7,1068.8ZM977.2,1059.8L986.2,1068.8L977.2,1077.8L968.2,1068.8ZM978.6,1059.8L987.6,1068.8L978.6,1077.8L969.6,1068.8ZM980.1,1059.8L989.1,1068.8L980.1,1077.8L971.1,1068.8ZM981.5,1059.8L990.5,1068.8L981.5,1077.8L972.5,1068.8ZM983,1059.8L992,1068.8L983,1077.8L974,1068.8ZM984.4,1059.8L993.4,1068.8L984.4,1077.8L975.4,1068.8ZM985.9,1059.8L994.9,1068.8L985.9,1077.8L976.9,1068.8ZM987.3,1059.8L996.3,1068.8L987.3,1077.8L978.3,1068.8ZM988.8,1059.8L997.8,1068.8L988.8,1077.8L979.8,1068.8ZM990.2,1059.8L999.2,1068.8L990.2,1077.8L981.2,1068.8ZM991.7,1059.8L1000.7,1068.8L991.7,1077.8L982.7,1068.8ZM993.1,1059.8L1002.1,1068.8L993.1,1077.8L984.1,1068.8ZM994.6,1059.8L1003.6,1068.8L994.6,1077.8L985.6,1068.8ZM996,1059.8L1005,1068.8L996,1077.8L987,1068.8ZM997.5,1059.8L1006.5,1068.8L997.5,1077.8L988.5,1068.8ZM998.9,1059.8L1007.9,1068.8L998.9,1077.8L989.9,1068.8ZM1000.4,1059.8L1009.4,1068.8L1000.4,1077.8L991.4,1068.8ZM1001.8,1059.8L1010.8,1068.8L1001.8,1077.8L992.8,1068.8ZM1003.3,1059.7L1012.3,1068.7L1003.3,1077.7L994.3,1068.7ZM1004.7,1059.7L1013.7,1068.7L1004.7,1077.7L995.7,1068.7ZM1006.2,1059.7L1015.2,1068.7L1006.2,1077.7L997.2,1068.7ZM1007.6,1059.7L1016.6,1068.7L1007.6,1077.7L998.6,1068.7ZM1009.1,1059.7L1018.1,1068.7L1009.1,1077.7L1000.1,1068.7ZM1010.5,1059.7L1019.5,1068.7L1010.5,1077.7L1001.5,1068.7ZM1012,1059.7L1021,1068.7L1012,1077.7L1003,1068.7ZM1013.4,1059.7L1022.4,1068.7L1013.4,1077.7L1004.4,1068.7ZM1014.9,1059.7L1023.9,1068.7L1014.9,1077.7L1005.9,1068.7ZM1016.3,1059.7L1025.3,1068.7L1016.3,1077.7L1007.3,1068.7ZM1017.8,1059.7L1026.8,1068.7L1017.8,1077.7L1008.8,1068.7ZM1019.3,1059.7L1028.3,1068.7L1019.3,1077.7L1010.3,1068.7ZM1020.7,1059.7L1029.7,1068.7L1020.7,1077.7L1011.7,1068.7ZM1022.2,1059.7L1031.2,1068.7L1022.2,1077.7L1013.2,1068.7ZM1023.6,1059.7L1032.6,1068.7L1023.6,1077.7L1014.6,1068.7ZM1025.1,1059.7L1034.1,1068.7L1025.1,1077.7L1016.1,1068.7ZM1026.5,1059.7L1035.5,1068.7L1026.5,1077.7L1017.5,1068.7ZM1028,1059.7L1037,1068.7L1028,1077.7L1019,1068.7ZM1029.4,1059.7L1038.4,1068.7L1029.4,1077.7L1020.4,1068.7ZM1030.9,1059.7L1039.9,1068.7L1030.9,1077.7L1021.9,1068.7ZM1032.3,1059.7L1041.3,1068.7L1032.3,1077.7L1023.3,1068.7ZM1033.8,1059.7L1042.8,1068.7L1033.8,1077.7L1024.8,1068.7ZM1035.2,1059.7L1044.2,1068.7L1035.2,1077.7L1026.2,1068.7ZM1036.7,1059.7L1045.7,1068.7L1036.7,1077.7L1027.7,1068.7ZM1038.1,1059.7L1047.1,1068.7L1038.1,1077.7L1029.1,1068.7ZM1039.6,1059.7L1048.6,1068.7L1039.6,1077.7L1030.6,1068.7ZM1041,1059.7L1050,1068.7L1041,1077.7L1032,1068.7ZM1042.5,1059.7L1051.5,1068.7L1042.5,1077.7L1033.5,1068.7ZM1043.9,1059.7L1052.9,1068.7L1043.9,1077.7L1034.9,1068.7ZM1045.4,1059.7L1054.4,1068.7L1045.4,1077.7L1036.4,1068.7ZM1046.8,1059.7L1055.8,1068.7L1046.8,1077.7L1037.8,1068.7ZM1048.3,1059.7L1057.3,1068.7L1048.3,1077.7L1039.3,1068.7ZM1049.7,1059.7L1058.7,1068.7L1049.7,1077.7L1040.7,1068.7ZM1051.2,1059.7L1060.2,1068.7L1051.2,1077.7L1042.2,1068.7ZM1052.6,1059.6L1061.6,1068.6L1052.6,1077.6L1043.6,1068.6ZM1054.1,1059.5L1063.1,1068.5L1054.1,1077.5L1045.1,1068.5ZM1055.5,1059.4L1064.5,1068.4L1055.5,1077.4L1046.5,1068.4ZM1057,1059.1L1066,1068.1L1057,1077.1L1048,1068.1ZM1058.4,1058.8L1067.4,1067.8L1058.4,1076.8L1049.4,1067.8ZM1059.9,1058.3L1068.9,1067.3L1059.9,1076.3L1050.9,1067.3ZM1061.3,1057.5L1070.3,1066.5L1061.3,1075.5L1052.3,1066.5ZM1062.8,1056.4L1071.8,1065.4L1062.8,1074.4L1053.8,1065.4ZM1064.2,1054.8L1073.2,1063.8L1064.2,1072.8L1055.2,1063.8ZM1065.7,1052.5L1074.7,1061.5L1065.7,1070.5L1056.7,1061.5ZM1067.2,1049.4L1076.2,1058.4L1067.2,1067.4L1058.2,1058.4ZM1068.6,1045.3L1077.6,1054.3L1068.6,1063.3L1059.6,1054.3ZM1070.1,1039.8L1079.1,1048.8L1070.1,1057.8L1061.1,1048.8ZM1071.5,1032.7L1080.5,1041.7L1071.5,1050.7L1062.5,1041.7ZM1073,1023.6L1082,1032.6L1073,1041.6L1064,1032.6ZM1074.4,1012.2L1083.4,1021.2L1074.4,1030.2L1065.4,1021.2ZM1075.9,998.3L1084.9,1007.3L1075.9,1016.3L1066.9,1007.3ZM1077.3,981.6L1086.3,990.6L1077.3,999.6L1068.3,990.6ZM1078.8,962.1L1087.8,971.1L1078.8,980.1L1069.8,971.1ZM1080.2,939.6L1089.2,948.6L1080.2,957.6L1071.2,948.6ZM1081.7,914.4L1090.7,923.4L1081.7,932.4L1072.7,923.4ZM1083.1,886.7L1092.1,895.7L1083.1,904.7L1074.1,895.7ZM1084.6,857.1L1093.6,866.1L1084.6,875.1L1075.6,866.1ZM1086,826.4L1095,835.4L1086,844.4L1077,835.4ZM1087.5,795.3L1096.5,804.3L1087.5,813.3L1078.5,804.3ZM1088.9,765L1097.9,774L1088.9,783L1079.9,774ZM1090.4,736.6L1099.4,745.6L1090.4,754.6L1081.4,745.6ZM1091.8,711.2L1100.8,720.2L1091.8,729.2L1082.8,720.2ZM1093.3,690L1102.3,699L1093.3,708L1084.3,699ZM1094.7,673.8L1103.7,682.8L1094.7,691.8L1085.7,682.8ZM1096.2,663.5L1105.2,672.5L1096.2,681.5L1087.2,672.5ZM1097.6,659.6L1106.6,668.6L1097.6,677.6L1088.6,668.6ZM1099.1,662.2L1108.1,671.2L1099.1,680.2L1090.1,671.2ZM1100.5,671.3L1109.5,680.3L1100.5,689.3L1091.5,680.3ZM1102,686.3L1111,695.3L1102,704.3L1093,695.3ZM1103.4,706.6L1112.4,715.6L1103.4,724.6L1094.4,715.6ZM1104.9,731.2L1113.9,740.2L1104.9,749.2L1095.9,740.2ZM1106.3,759.1L1115.3,768.1L1106.3,777.1L1097.3,768.1ZM1107.8,789.2L1116.8,798.2L1107.8,807.2L1098.8,798.2ZM1109.2,820.1L1118.2,829.1L1109.2,838.1L1100.2,829.1ZM1110.7,851L1119.7,860L1110.7,869L1101.7,860ZM1112.1,880.9L1121.1,889.9L1112.1,898.9L1103.1,889.9ZM1113.6,909L1122.6,918L1113.6,927L1104.6,918ZM1115.1,934.8L1124.1,943.8L1115.1,952.8L1106.1,943.8ZM1116.5,957.8L1125.5,966.8L1116.5,975.8L1107.5,966.8ZM1118,978L1127,987L1118,996L1109,987ZM1119.4,995.2L1128.4,1004.2L1119.4,1013.2L1110.4,1004.2ZM1120.9,1009.6L1129.9,1018.6L1120.9,1027.6L1111.9,1018.6ZM1122.3,1021.5L1131.3,1030.5L1122.3,1039.5L1113.3,1030.5ZM1123.8,1031L1132.8,1040L1123.8,1049L1114.8,1040ZM1125.2,1038.5L1134.2,1047.5L1125.2,1056.5L1116.2,1047.5ZM1126.7,1044.3L1135.7,1053.3L1126.7,1062.3L1117.7,1053.3ZM1128.1,1048.7L1137.1,1057.7L1128.1,1066.7L1119.1,1057.7ZM1129.6,1052L1138.6,1061L1129.6,1070L1120.6,1061ZM1131,1054.4L1140,1063.4L1131,1072.4L1122,1063.4ZM1132.5,1056.1L1141.5,1065.1L1132.5,1074.1L1123.5,1065.1ZM1133.9,1057.3L1142.9,1066.3L1133.9,1075.3L1124.9,1066.3ZM1135.4,1058.1L1144.4,1067.1L1135.4,1076.1L1126.4,1067.1ZM1136.8,1058.7L1145.8,1067.7L1136.8,1076.7L1127.8,1067.7ZM1138.3,1059.1L1147.3,1068.1L1138.3,1077.1L1129.3,1068.1ZM1139.7,1059.3L1148.7,1068.3L1139.7,1077.3L1130.7,1068.3ZM1141.2,1059.5L1150.2,1068.5L1141.2,1077.5L1132.2,1068.5ZM1142.6,1059.6L1151.6,1068.6L1142.6,1077.6L1133.6,1068.6ZM1144.1,1059.7L1153.1,1068.7L1144.1,1077.7L1135.1,1068.7ZM1145.5,1059.7L1154.5,1068.7L1145.5,1077.7L1136.5,1068.7ZM1147,1059.7L1156,1068.7L1147,1077.7L1138,1068.7ZM1148.4,1059.7L1157.4,1068.7L1148.4,1077.7L1139.4,1068.7ZM1149.9,1059.7L1158.9,1068.7L1149.9,1077.7L1140.9,1068.7ZM1151.3,1059.7L1160.3,1068.7L1151.3,1077.7L1142.3,1068.7ZM1152.8,1059.7L1161.8,1068.7L1152.8,1077.7L1143.8,1068.7ZM1154.2,1059.7L1163.2,1068.7L1154.2,1077.7L1145.2,1068.7ZM1155.7,1059.7L1164.7,1068.7L1155.7,1077.7L1146.7,1068.7ZM1157.1,1059.7L1166.1,1068.7L1157.1,1077.7L1148.1,1068.7ZM1158.6,1059.7L1167.6,1068.7L1158.6,1077.7L1149.6,1068.7ZM1160,1059.7L1169,1068.7L1160,1077.7L1151,1068.7ZM1161.5,1059.7L1170.5,1068.7L1161.5,1077.7L1152.5,1068.7ZM1163,1059.7L1172,1068.7L1163,1077.7L1154,1068.7ZM1164.4,1059.7L1173.4,1068.7L1164.4,1077.7L1155.4,1068.7ZM1165.9,1059.7L1174.9,1068.7L1165.9,1077.7L1156.9,1068.7ZM1167.3,1059.7L1176.3,1068.7L1167.3,1077.7L1158.3,1068.7ZM1168.8,1059.7L1177.8,1068.7L1168.8,1077.7L1159.8,1068.7ZM1170.2,1059.7L1179.2,1068.7L1170.2,1077.7L1161.2,1068.7ZM1171.7,1059.7L1180.7,1068.7L1171.7,1077.7L1162.7,1068.7ZM1173.1,1059.7L1182.1,1068.7L1173.1,1077.7L1164.1,1068.7ZM1174.6,1059.7L1183.6,1068.7L1174.6,1077.7L1165.6,1068.7ZM1176,1059.7L1185,1068.7L1176,1077.7L1167,1068.7ZM1177.5,1059.7L1186.5,1068.7L1177.5,1077.7L1168.5,1068.7ZM1178.9,1059.7L1187.9,1068.7L1178.9,1077.7L1169.9,1068.7ZM1180.4,1059.7L1189.4,1068.7L1180.4,1077.7L1171.4,1068.7ZM1181.8,1059.7L1190.8,1068.7L1181.8,1077.7L1172.8,1068.7ZM1183.3,1059.7L1192.3,1068.7L1183.3,1077.7L1174.3,1068.7ZM1184.7,1059.7L1193.7,1068.7L1184.7,1077.7L1175.7,1068.7ZM1186.2,1059.7L1195.2,1068.7L1186.2,1077.7L1177.2,1068.7ZM1187.6,1059.7L1196.6,1068.7L1187.6,1077.7L1178.6,1068.7ZM1189.1,1059.7L1198.1,1068.7L1189.1,1077.7L1180.1,1068.7ZM1190.5,1059.7L1199.5,1068.7L1190.5,1077.7L1181.5,1068.7ZM1192,1059.7L1201,1068.7L1192,1077.7L1183,1068.7ZM1193.4,1059.7L1202.4,1068.7L1193.4,1077.7L1184.4,1068.7ZM1194.9,1059.7L1203.9,1068.7L1194.9,1077.7L1185.9,1068.7ZM1196.3,1059.7L1205.3,1068.7L1196.3,1077.7L1187.3,1068.7ZM1197.8,1059.7L1206.8,1068.7L1197.8,1077.7L1188.8,1068.7ZM1199.2,1059.7L1208.2,1068.7L1199.2,1077.7L1190.2,1068.7ZM1200.7,1059.7L1209.7,1068.7L1200.7,1077.7L1191.7,1068.7ZM1202.1,1059.7L1211.1,1068.7L1202.1,1077.7L1193.1,1068.7ZM1203.6,1059.7L1212.6,1068.7L1203.6,1077.7L1194.6,1068.7ZM1205,1059.7L1214,1068.7L1205,1077.7L1196,1068.7ZM1206.5,1059.7L1215.5,1068.7L1206.5,1077.7L1197.5,1068.7ZM1207.9,1059.7L1216.9,1068.7L1207.9,1077.7L1198.9,1068.7ZM1209.4,1059.7L1218.4,1068.7L1209.4,1077.7L1200.4,1068.7ZM1210.8,1059.6L1219.8,1068.6L1210.8,1077.6L1201.8,1068.6ZM1212.3,1059.5L1221.3,1068.5L1212.3,1077.5L1203.3,1068.5ZM1213.8,1059.3L1222.8,1068.3L1213.8,1077.3L1204.8,1068.3ZM1215.2,1058.9L1224.2,1067.9L1215.2,1076.9L1206.2,1067.9ZM1216.7,1058.4L1225.7,1067.4L1216.7,1076.4L1207.7,1067.4ZM1218.1,1057.7L1227.1,1066.7L1218.1,1075.7L1209.1,1066.7ZM1219.6,1056.5L1228.6,1065.5L1219.6,1074.5L1210.6,1065.5ZM1221,1054.8L1230,1063.8L1221,1072.8L1212,1063.8ZM1222.5,1052.4L1231.5,1061.4L1222.5,1070.4L1213.5,1061.4ZM1223.9,1049.1L1232.9,1058.1L1223.9,1067.1L1214.9,1058.1ZM1225.4,1044.6L1234.4,1053.6L1225.4,1062.6L1216.4,1053.6ZM1226.8,1038.6L1235.8,1047.6L1226.8,1056.6L1217.8,1047.6ZM1228.3,1031.1L1237.3,1040.1L1228.3,1049.1L1219.3,1040.1ZM1229.7,1021.8L1238.7,1030.8L1229.7,1039.8L1220.7,1030.8ZM1231.2,1010.5L1240.2,1019.5L1231.2,1028.5L1222.2,1019.5ZM1232.6,997.4L1241.6,1006.4L1232.6,1015.4L1223.6,1006.4ZM1234.1,982.6L1243.1,991.6L1234.1,1000.6L1225.1,991.6ZM1235.5,966.4L1244.5,975.4L1235.5,984.4L1226.5,975.4ZM1237,949.3L1246,958.3L1237,967.3L1228,958.3ZM1238.4,932.1L1247.4,941.1L1238.4,950.1L1229.4,941.1ZM1239.9,915.6L1248.9,924.6L1239.9,933.6L1230.9,924.6ZM1241.3,900.7L1250.3,909.7L1241.3,918.7L1232.3,909.7ZM1242.8,888.1L1251.8,897.1L1242.8,906.1L1233.8,897.1ZM1244.2,878.8L1253.2,887.8L1244.2,896.8L1235.2,887.8ZM1245.7,873.4L1254.7,882.4L1245.7,891.4L1236.7,882.4ZM1247.1,872.1L1256.1,881.1L1247.1,890.1L1238.1,881.1ZM1248.6,875.1L1257.6,884.1L1248.6,893.1L1239.6,884.1ZM1250,882.1L1259,891.1L1250,900.1L1241,891.1ZM1251.5,892.8L1260.5,901.8L1251.5,910.8L1242.5,901.8ZM1252.9,906.4L1261.9,915.4L1252.9,924.4L1243.9,915.4ZM1254.4,922.1L1263.4,931.1L1254.4,940.1L1245.4,931.1ZM1255.8,939L1264.8,948L1255.8,957L1246.8,948ZM1257.3,956.2L1266.3,965.2L1257.3,974.2L1248.3,965.2ZM1258.7,973L1267.7,982L1258.7,991L1249.7,982ZM1260.2,988.7L1269.2,997.7L1260.2,1006.7L1251.2,997.7ZM1261.7,1002.8L1270.7,1011.8L1261.7,1020.8L1252.7,1011.8ZM1263.1,1015.2L1272.1,1024.2L1263.1,1033.2L1254.1,1024.2ZM1264.6,1025.6L1273.6,1034.6L1264.6,1043.6L1255.6,1034.6ZM1266,1034.1L1275,1043.1L1266,1052.1L1257,1043.1ZM1267.5,1040.7L1276.5,1049.7L1267.5,1058.7L1258.5,1049.7ZM1268.9,1045.7L1277.9,1054.7L1268.9,1063.7L1259.9,1054.7ZM1270.4,1049.2L1279.4,1058.2L1270.4,1067.2L1261.4,1058.2ZM1271.8,1051.4L1280.8,1060.4L1271.8,1069.4L1262.8,1060.4ZM1273.3,1052.3L1282.3,1061.3L1273.3,1070.3L1264.3,1061.3ZM1274.7,1052.1L1283.7,1061.1L1274.7,1070.1L1265.7,1061.1ZM1276.2,1050.8L1285.2,1059.8L1276.2,1068.8L1267.2,1059.8ZM1277.6,1048.2L1286.6,1057.2L1277.6,1066.2L1268.6,1057.2ZM1279.1,1044.3L1288.1,1053.3L1279.1,1062.3L1270.1,1053.3ZM1280.5,1039L1289.5,1048L1280.5,1057L1271.5,1048ZM1282,1032L1291,1041L1282,1050L1273,1041ZM1283.4,1023.5L1292.4,1032.5L1283.4,1041.5L1274.4,1032.5ZM1284.9,1013.2L1293.9,1022.2L1284.9,1031.2L1275.9,1022.2ZM1286.3,1001.4L1295.3,1010.4L1286.3,1019.4L1277.3,1010.4ZM1287.8,988.2L1296.8,997.2L1287.8,1006.2L1278.8,997.2ZM1289.2,974.1L1298.2,983.1L1289.2,992.1L1280.2,983.1ZM1290.7,959.7L1299.7,968.7L1290.7,977.7L1281.7,968.7ZM1292.1,945.5L1301.1,954.5L1292.1,963.5L1283.1,954.5ZM1293.6,932.3L1302.6,941.3L1293.6,950.3L1284.6,941.3ZM1295,921L1304,930L1295,939L1286,930ZM1296.5,912.2L1305.5,921.2L1296.5,930.2L1287.5,921.2ZM1297.9,906.5L1306.9,915.5L1297.9,924.5L1288.9,915.5ZM1299.4,904.3L1308.4,913.3L1299.4,922.3L1290.4,913.3ZM1300.8,905.8L1309.8,914.8L1300.8,923.8L1291.8,914.8ZM1302.3,910.8L1311.3,919.8L1302.3,928.8L1293.3,919.8ZM1303.7,919L1312.7,928L1303.7,937L1294.7,928ZM1305.2,929.9L1314.2,938.9L1305.2,947.9L1296.2,938.9ZM1306.6,942.7L1315.6,951.7L1306.6,960.7L1297.6,951.7ZM1308.1,956.8L1317.1,965.8L1308.1,974.8L1299.1,965.8ZM1309.6,971.3L1318.6,980.3L1309.6,989.3L1300.6,980.3ZM1311,985.5L1320,994.5L1311,1003.5L1302,994.5ZM1312.5,998.9L1321.5,1007.9L1312.5,1016.9L1303.5,1007.9ZM1313.9,1011L1322.9,1020L1313.9,1029L1304.9,1020ZM1315.4,1021.6L1324.4,1030.6L1315.4,1039.6L1306.4,1030.6ZM1316.8,1030.7L1325.8,1039.7L1316.8,1048.7L1307.8,1039.7ZM1318.3,1038.1L1327.3,1047.1L1318.3,1056.1L1309.3,1047.1ZM1319.7,1044L1328.7,1053L1319.7,1062L1310.7,1053ZM1321.2,1048.5L1330.2,1057.5L1321.2,1066.5L1312.2,1057.5ZM1322.6,1051.9L1331.6,1060.9L1322.6,1069.9L1313.6,1060.9ZM1324.1,1054.5L1333.1,1063.5L1324.1,1072.5L1315.1,1063.5ZM1325.5,1056.2L1334.5,1065.2L1325.5,1074.2L1316.5,1065.2ZM1327,1057.5L1336,1066.5L1327,1075.5L1318,1066.5ZM1328.4,1058.3L1337.4,1067.3L1328.4,1076.3L1319.4,1067.3ZM1329.9,1058.9L1338.9,1067.9L1329.9,1076.9L1320.9,1067.9ZM1331.3,1059.2L1340.3,1068.2L1331.3,1077.2L1322.3,1068.2ZM1332.8,1059.4L1341.8,1068.4L1332.8,1077.4L1323.8,1068.4ZM1334.2,1059.6L1343.2,1068.6L1334.2,1077.6L1325.2,1068.6ZM1335.7,1059.6L1344.7,1068.6L1335.7,1077.6L1326.7,1068.6ZM1337.1,1059.7L1346.1,1068.7L1337.1,1077.7L1328.1,1068.7ZM1338.6,1059.7L1347.6,1068.7L1338.6,1077.7L1329.6,1068.7ZM1340,1059.7L1349,1068.7L1340,1077.7L1331,1068.7ZM1341.5,1059.7L1350.5,1068.7L1341.5,1077.7L1332.5,1068.7ZM1342.9,1059.7L1351.9,1068.7L1342.9,1077.7L1333.9,1068.7ZM1344.4,1059.7L1353.4,1068.7L1344.4,1077.7L1335.4,1068.7ZM1345.8,1059.7L1354.8,1068.7L1345.8,1077.7L1336.8,1068.7ZM1347.3,1059.7L1356.3,1068.7L1347.3,1077.7L1338.3,1068.7ZM1348.7,1059.7L1357.7,1068.7L1348.7,1077.7L1339.7,1068.7ZM1350.2,1059.7L1359.2,1068.7L1350.2,1077.7L1341.2,1068.7ZM1351.6,1059.7L1360.6,1068.7L1351.6,1077.7L1342.6,1068.7ZM1353.1,1059.7L1362.1,1068.7L1353.1,1077.7L1344.1,1068.7ZM1354.5,1059.7L1363.5,1068.7L1354.5,1077.7L1345.5,1068.7ZM1356,1059.7L1365,1068.7L1356,1077.7L1347,1068.7ZM1357.5,1059.7L1366.5,1068.7L1357.5,1077.7L1348.5,1068.7ZM1358.9,1059.7L1367.9,1068.7L1358.9,1077.7L1349.9,1068.7ZM1360.4,1059.7L1369.4,1068.7L1360.4,1077.7L1351.4,1068.7ZM1361.8,1059.7L1370.8,1068.7L1361.8,1077.7L1352.8,1068.7ZM1363.3,1059.7L1372.3,1068.7L1363.3,1077.7L1354.3,1068.7ZM1364.7,1059.7L1373.7,1068.7L1364.7,1077.7L1355.7,1068.7ZM1366.2,1059.7L1375.2,1068.7L1366.2,1077.7L1357.2,1068.7ZM1367.6,1059.7L1376.6,1068.7L1367.6,1077.7L1358.6,1068.7ZM1369.1,1059.7L1378.1,1068.7L1369.1,1077.7L1360.1,1068.7ZM1370.5,1059.7L1379.5,1068.7L1370.5,1077.7L1361.5,1068.7ZM1372,1059.7L1381,1068.7L1372,1077.7L1363,1068.7ZM1373.4,1059.7L1382.4,1068.7L1373.4,1077.7L1364.4,1068.7ZM1374.9,1059.7L1383.9,1068.7L1374.9,1077.7L1365.9,1068.7ZM1376.3,1059.7L1385.3,1068.7L1376.3,1077.7L1367.3,1068.7ZM1377.8,1059.7L1386.8,1068.7L1377.8,1077.7L1368.8,1068.7ZM1379.2,1059.7L1388.2,1068.7L1379.2,1077.7L1370.2,1068.7ZM1380.7,1059.7L1389.7,1068.7L1380.7,1077.7L1371.7,1068.7ZM1382.1,1059.7L1391.1,1068.7L1382.1,1077.7L1373.1,1068.7ZM1383.6,1059.7L1392.6,1068.7L1383.6,1077.7L1374.6,1068.7ZM1385,1059.6L1394,1068.6L1385,1077.6L1376,1068.6ZM1386.5,1059.5L1395.5,1068.5L1386.5,1077.5L1377.5,1068.5ZM1387.9,1059.4L1396.9,1068.4L1387.9,1077.4L1378.9,1068.4ZM1389.4,1059.3L1398.4,1068.3L1389.4,1077.3L1380.4,1068.3ZM1390.8,1059L1399.8,1068L1390.8,1077L1381.8,1068ZM1392.3,1058.6L1401.3,1067.6L1392.3,1076.6L1383.3,1067.6ZM1393.7,1058.1L1402.7,1067.1L1393.7,1076.1L1384.7,1067.1ZM1395.2,1057.3L1404.2,1066.3L1395.2,1075.3L1386.2,1066.3ZM1396.6,1056.3L1405.6,1065.3L1396.6,1074.3L1387.6,1065.3ZM1398.1,1054.9L1407.1,1063.9L1398.1,1072.9L1389.1,1063.9ZM1399.5,1053L1408.5,1062L1399.5,1071L1390.5,1062ZM1401,1050.5L1410,1059.5L1401,1068.5L1392,1059.5ZM1402.4,1047.3L1411.4,1056.3L1402.4,1065.3L1393.4,1056.3ZM1403.9,1043.2L1412.9,1052.2L1403.9,1061.2L1394.9,1052.2ZM1405.4,1038.1L1414.4,1047.1L1405.4,1056.1L1396.4,1047.1ZM1406.8,1031.8L1415.8,1040.8L1406.8,1049.8L1397.8,1040.8ZM1408.3,1024.2L1417.3,1033.2L1408.3,1042.2L1399.3,1033.2ZM1409.7,1015.3L1418.7,1024.3L1409.7,1033.3L1400.7,1024.3ZM1411.2,1004.9L1420.2,1013.9L1411.2,1022.9L1402.2,1013.9ZM1412.6,993.1L1421.6,1002.1L1412.6,1011.1L1403.6,1002.1ZM1414.1,980L1423.1,989L1414.1,998L1405.1,989ZM1415.5,965.6L1424.5,974.6L1415.5,983.6L1406.5,974.6ZM1417,950.4L1426,959.4L1417,968.4L1408,959.4ZM1418.4,934.5L1427.4,943.5L1418.4,952.5L1409.4,943.5ZM1419.9,918.5L1428.9,927.5L1419.9,936.5L1410.9,927.5ZM1421.3,902.8L1430.3,911.8L1421.3,920.8L1412.3,911.8ZM1422.8,887.9L1431.8,896.9L1422.8,905.9L1413.8,896.9ZM1424.2,874.3L1433.2,883.3L1424.2,892.3L1415.2,883.3ZM1425.7,862.7L1434.7,871.7L1425.7,880.7L1416.7,871.7ZM1427.1,853.4L1436.1,862.4L1427.1,871.4L1418.1,862.4ZM1428.6,846.8L1437.6,855.8L1428.6,864.8L1419.6,855.8ZM1430,843.3L1439,852.3L1430,861.3L1421,852.3ZM1431.5,843L1440.5,852L1431.5,861L1422.5,852ZM1432.9,845.9L1441.9,854.9L1432.9,863.9L1423.9,854.9ZM1434.4,851.8L1443.4,860.8L1434.4,869.8L1425.4,860.8ZM1435.8,860.6L1444.8,869.6L1435.8,878.6L1426.8,869.6ZM1437.3,871.8L1446.3,880.8L1437.3,889.8L1428.3,880.8ZM1438.7,885L1447.7,894L1438.7,903L1429.7,894ZM1440.2,899.7L1449.2,908.7L1440.2,917.7L1431.2,908.7ZM1441.6,915.3L1450.6,924.3L1441.6,933.3L1432.6,924.3ZM1443.1,931.3L1452.1,940.3L1443.1,949.3L1434.1,940.3ZM1444.5,947.3L1453.5,956.3L1444.5,965.3L1435.5,956.3ZM1446,962.7L1455,971.7L1446,980.7L1437,971.7ZM1447.4,977.2L1456.4,986.2L1447.4,995.2L1438.4,986.2ZM1448.9,990.6L1457.9,999.6L1448.9,1008.6L1439.9,999.6ZM1450.3,1002.7L1459.3,1011.7L1450.3,1020.7L1441.3,1011.7ZM1451.8,1013.3L1460.8,1022.3L1451.8,1031.3L1442.8,1022.3ZM1453.3,1022.5L1462.3,1031.5L1453.3,1040.5L1444.3,1031.5ZM1454.7,1030.4L1463.7,1039.4L1454.7,1048.4L1445.7,1039.4ZM1456.2,1036.9L1465.2,1045.9L1456.2,1054.9L1447.2,1045.9ZM1457.6,1042.2L1466.6,1051.2L1457.6,1060.2L1448.6,1051.2ZM1459.1,1046.5L1468.1,1055.5L1459.1,1064.5L1450.1,1055.5ZM1460.5,1049.9L1469.5,1058.9L1460.5,1067.9L1451.5,1058.9ZM1462,1052.5L1471,1061.5L1462,1070.5L1453,1061.5ZM1463.4,1054.5L1472.4,1063.5L1463.4,1072.5L1454.4,1063.5ZM1464.9,1056.1L1473.9,1065.1L1464.9,1074.1L1455.9,1065.1ZM1466.3,1056.5L1475.3,1065.5L1466.3,1074.5L1457.3,1065.5ZM1467.8,1056L1476.8,1065L1467.8,1074L1458.8,1065ZM1469.2,1055.3L1478.2,1064.3L1469.2,1073.3L1460.2,1064.3ZM1470.7,1054.4L1479.7,1063.4L1470.7,1072.4L1461.7,1063.4ZM1472.1,1053.4L1481.1,1062.4L1472.1,1071.4L1463.1,1062.4ZM1473.6,1052.3L1482.6,1061.3L1473.6,1070.3L1464.6,1061.3ZM1475,1051.2L1484,1060.2L1475,1069.2L1466,1060.2ZM1476.5,1050L1485.5,1059L1476.5,1068L1467.5,1059Z" fill="none" stroke="#0072b2" stroke-width="2"/><path d="M908.9,42.7L909.1,42.7L909.2,42.7L909.4,42.7L909.5,42.7L909.7,42.7L909.8,42.7L910,42.7L910.1,42.7L910.2,639.9L910.4,656.7L910.5,672.9L910.7,688.4L910.8,703.3L911,717.6L911.1,731.4L911.3,744.6L911.4,757.3L911.6,769.5L911.7,781.2L911.8,792.5L912,803.3L912.1,813.7L912.3,823.7L912.4,833.3L912.6,842.6L912.7,851.4L912.9,859.9L913,870.9L913.1,881.3L913.3,891.2L913.4,900.5L913.6,909.4L913.7,917.7L913.9,925.7L914,933.2L914.2,940.3L914.3,947.1L914.5,953.5L914.6,959.6L914.7,965.3L914.9,970.7L915,975.9L915.2,982.6L915.3,988.9L915.5,994.7L915.6,1000L915.8,1005L915.9,1009.6L916.1,1013.9L916.2,1017.9L916.3,1021.6L916.5,1025L916.6,1028.2L916.8,1031.1L916.9,1033.9L917.1,1036.8L917.2,1039.5L917.4,1041.9L917.5,1044.2L917.6,1046.2L917.8,1048.1L917.9,1049.8L918.1,1051.4L918.2,1052.9L918.4,1054.2L918.5,1055.4L918.7,1056.5L918.8,1057.6L919,1058.5L919.1,1059.5L919.2,1060.4L919.4,1061.2L919.5,1061.9L919.7,1062.5L919.8,1063.1L920,1063.7L920.1,1064.2L920.3,1064.6L920.4,1065L920.5,1065.4L920.7,1065.7L920.8,1066L921,1066.2L921.1,1066.5L921.3,1066.7L921.4,1066.9L921.6,1067.1L921.7,1067.2L921.9,1067.4L922,1067.5L922.1,1067.6L922.3,1067.7L922.4,1067.8L922.6,1067.9L922.7,1068L922.9,1068.1L923,1068.1L923.2,1068.2L923.3,1068.2L923.5,1068.3L923.6,1068.3L923.7,1068.4L923.9,1068.4L924,1068.4L924.2,1068.5L924.3,1068.5L924.5,1068.5L924.6,1068.5L924.8,1068.6L924.9,1068.6L925,1068.6L925.2,1068.6L925.3,1068.6L925.5,1068.6L925.6,1068.6L925.8,1068.7L925.9,1068.7L926.1,1068.7L926.2,1068.7L926.4,1068.7L926.5,1068.7L926.6,1068.7L926.8,1068.7L926.9,1068.7L927.1,1068.7L927.2,1068.7L927.4,1068.7L927.5,1068.7L927.7,1068.7L927.8,1068.7L928,1068.7L928.1,1068.7L928.2,1068.7L928.4,1068.7L928.5,1068.7L928.7,1068.7L928.8,1068.7L929,1068.7L929.1,1068.7L929.3,1068.7L929.4,1068.7L929.5,1068.7L929.7,1068.7L929.8,1068.7L930,1068.7L930.1,1068.7L930.3,1068.7L930.4,1068.7L930.6,1068.7L930.7,1068.7L930.9,1068.7L931,1068.7L931.1,1068.7L931.3,1068.7L931.4,1068.7L931.6,1068.7L931.7,1068.7L931.9,1068.7L932,1068.7L932.2,1068.7L932.3,1068.7L932.5,1068.7L932.6,1068.7L932.7,1068.7L932.9,1068.7L933,1068.7L933.2,1068.7L933.3,1068.7L933.5,1068.7L933.6,1068.7L933.8,1068.7L933.9,1068.7L934,1068.7L934.2,1068.7L934.3,1068.7L934.5,1068.7L934.6,1068.7L934.8,1068.7L934.9,1068.7L935.1,1068.7L935.2,1068.7L935.4,1068.7L935.5,1068.7L935.6,1068.7L935.8,1068.7L935.9,1068.7L936.1,1068.7L936.2,1068.7L936.4,1068.7L936.5,1068.7L936.7,1068.7L936.8,1068.7L937,1068.7L937.1,1068.7L937.2,1068.7L937.4,1068.7L937.5,1068.7L937.7,1068.7L937.8,1068.7L938,1068.7L938.1,1068.7L938.3,1068.7L938.4,1068.7L938.5,1068.7L938.7,1068.7L938.8,1068.7L939,1068.7L939.1,1068.7L939.3,1068.7L939.4,1068.7L939.6,1068.7L939.7,1068.7L939.9,1068.7L940,1068.7L940.1,1068.7L940.3,1068.7L940.4,1068.7L940.6,1068.7L940.7,1068.7L940.9,1068.7L941,1068.7L941.2,1068.7L941.3,1068.7L941.5,1068.7L941.6,1068.7L941.7,1068.7L941.9,1068.7L942,1068.7L942.2,1068.7L942.3,1068.7L942.5,1068.7L942.6,1068.7L942.8,1068.7L942.9,1068.7L943,1068.7L943.2,1068.7L943.3,1068.7L943.5,1068.7L943.6,1068.7L943.8,1068.7L943.9,1068.7L944.1,1068.7L944.2,1068.7L944.4,1068.7L944.5,1068.7L944.6,1068.7L944.8,1068.7L944.9,1068.7L945.1,1068.7L945.2,1068.7L945.4,1068.7L945.5,1068.7L945.7,1068.7L945.8,1068.7L946,1068.7L946.1,1068.7L946.2,1068.7L946.4,1068.7L946.5,1068.7L946.7,1068.7L946.8,1068.7L947,1068.7L947.1,1068.7L947.3,1068.7L947.4,1068.7L947.5,1068.7L947.7,1068.7L947.8,1068.7L948,1068.7L948.1,1068.7L948.3,1068.7L948.4,1068.7L948.6,1068.7L948.7,1068.7L948.9,1068.7L949,1068.7L949.1,1068.7L949.3,1068.7L949.4,1068.7L949.6,1068.7L949.7,1068.7L949.9,1068.7L950,1068.7L950.2,1068.7L950.3,1068.7L950.5,1068.7L950.6,1068.7L950.7,1068.7L950.9,1068.7L951,1068.7L951.2,1068.7L951.3,1068.7L951.5,1068.7L951.6,1068.7L951.8,1068.7L951.9,1068.7L952,1068.7L952.2,1068.7L952.3,1068.7L952.5,1068.7L952.6,1068.7L952.8,1068.7L952.9,1068.7L953.1,1068.7L953.2,1068.7L953.4,1068.7L953.5,1068.7L953.6,1068.7L953.8,1068.7L953.9,1068.7L954.1,1068.7L954.2,1068.7L954.4,1068.7L954.5,1068.7L954.7,1068.7L954.8,1068.7L955,1068.7L955.1,1068.7L955.2,1068.7L955.4,1068.7L955.5,1068.7L955.7,1068.7L955.8,1068.7L956,1068.7L956.1,1068.7L956.3,1068.7L956.4,1068.7L956.5,1068.7L956.7,1068.7L956.8,1068.7L957,1068.7L957.1,1068.7L957.3,1068.7L957.4,1068.7L957.6,1068.7L957.7,1068.7L957.9,1068.7L958,1068.7L958.1,1068.7L958.3,1068.7L958.4,1068.7L958.6,1068.7L958.7,1068.7L958.9,1068.7L959,1068.7L959.2,1068.7L959.3,1068.7L959.4,1068.7L959.6,1068.7L959.7,1068.7L959.9,1068.7L960,1068.7L960.2,1068.7L960.3,1068.7L960.5,1068.7L960.6,1068.7L960.8,1068.7L960.9,1068.7L961,1068.7L961.2,1068.7L961.3,1068.7L961.5,1068.7L961.6,1068.7L961.8,1068.7L961.9,1068.7L962.1,1068.7L962.2,1068.7L962.4,1068.7L962.5,1068.7L962.6,1068.7L962.8,1068.7L962.9,1068.7L963.1,1068.7L963.2,1068.7L963.4,1068.7L963.5,1068.7L963.7,1068.7L963.8,1068.7L963.9,1068.7L964.1,1068.7L964.2,1068.7L964.4,1068.7L964.5,1068.7L964.7,1068.7L964.8,1068.7L965,1068.7L965.1,1068.7L965.3,1068.7L965.4,1068.8L965.5,1068.8L965.7,1068.8L965.8,1068.8L966,1068.8L966.1,1068.8L966.3,1068.8L966.4,1068.8L966.6,1068.8L966.7,1068.8L966.9,1068.8L967,1068.8L967.1,1068.8L967.3,1068.8L967.4,1068.8L967.6,1068.8L967.7,1068.8L967.9,1068.8L968,1068.8L968.2,1068.8L968.3,1068.8L968.4,1068.8L968.6,1068.8L968.7,1068.8L968.9,1068.8L969,1068.8L969.2,1068.8L969.3,1068.8L969.5,1068.8L969.6,1068.8L969.8,1068.8L969.9,1068.8L970,1068.8L970.2,1068.8L970.3,1068.8L970.5,1068.8L970.6,1068.8L970.8,1068.8L970.9,1068.8L971.1,1068.8L971.2,1068.8L971.4,1068.8L971.5,1068.8L971.6,1068.8L971.8,1068.8L971.9,1068.8L972.1,1068.8L972.2,1068.8L972.4,1068.8L972.5,1068.8L972.7,1068.8L972.8,1068.8L972.9,1068.8L973.1,1068.8L973.2,1068.8L973.4,1068.8L973.5,1068.8L973.7,1068.8L973.8,1068.8L974,1068.8L974.1,1068.8L974.3,1068.8L974.4,1068.8L974.5,1068.8L974.7,1068.8L974.8,1068.8L975,1068.8L975.1,1068.8L975.3,1068.8L975.4,1068.8L975.6,1068.8L975.7,1068.8L975.9,1068.8L976,1068.8L976.1,1068.8L976.3,1068.8L976.4,1068.8L976.6,1068.8L976.7,1068.8L976.9,1068.8L977,1068.8L977.2,1068.8L977.3,1068.8L977.4,1068.8L977.6,1068.8L977.7,1068.8L977.9,1068.8L978,1068.8L978.2,1068.8L978.3,1068.8L978.5,1068.8L978.6,1068.8L978.8,1068.8L978.9,1068.8L979,1068.8L979.2,1068.8L979.3,1068.8L979.5,1068.8L979.6,1068.8L979.8,1068.8L979.9,1068.8L980.1,1068.8L980.2,1068.8L980.4,1068.8L980.5,1068.8L980.6,1068.8L980.8,1068.8L980.9,1068.8L981.1,1068.8L981.2,1068.8L981.4,1068.8L981.5,1068.8L981.7,1068.8L981.8,1068.8L981.9,1068.8L982.1,1068.8L982.2,1068.8L982.4,1068.8L982.5,1068.8L982.7,1068.8L982.8,1068.8L983,1068.8L983.1,1068.8L983.3,1068.8L983.4,1068.8L983.5,1068.8L983.7,1068.8L983.8,1068.8L984,1068.8L984.1,1068.8L984.3,1068.8L984.4,1068.8L984.6,1068.8L984.7,1068.8L984.9,1068.8L985,1068.8L985.1,1068.8L985.3,1068.8L985.4,1068.8L985.6,1068.8L985.7,1068.8L985.9,1068.8L986,1068.8L986.2,1068.8L986.3,1068.8L986.4,1068.8L986.6,1068.8L986.7,1068.8L986.9,1068.8L987,1068.8L987.2,1068.8L987.3,1068.8L987.5,1068.8L987.6,1068.8L987.8,1068.8L987.9,1068.8L988,1068.8L988.2,1068.8L988.3,1068.8L988.5,1068.8L988.6,1068.8L988.8,1068.8L988.9,1068.8L989.1,1068.8L989.2,1068.8L989.4,1068.8L989.5,1068.8L989.6,1068.8L989.8,1068.8L989.9,1068.8L990.1,1068.8L990.2,1068.8L990.4,1068.8L990.5,1068.8L990.7,1068.8L990.8,1068.8L990.9,1068.8L991.1,1068.8L991.2,1068.8L991.4,1068.8L991.5,1068.8L991.7,1068.8L991.8,1068.8L992,1068.8L992.1,1068.8L992.3,1068.8L992.4,1068.8L992.5,1068.8L992.7,1068.8L992.8,1068.8L993,1068.8L993.1,1068.8L993.3,1068.8L993.4,1068.8L993.6,1068.8L993.7,1068.8L993.9,1068.8L994,1068.8L994.1,1068.8L994.3,1068.8L994.4,1068.8L994.6,1068.8L994.7,1068.8L994.9,1068.8L995,1068.8L995.2,1068.8L995.3,1068.8L995.4,1068.8L995.6,1068.8L995.7,1068.8L995.9,1068.8L996,1068.8L996.2,1068.8L996.3,1068.8L996.5,1068.8L996.6,1068.8L996.8,1068.8L996.9,1068.8L997,1068.8L997.2,1068.8L997.3,1068.8L997.5,1068.8L997.6,1068.8L997.8,1068.8L997.9,1068.8L998.1,1068.8L998.2,1068.8L998.4,1068.8L998.5,1068.8L998.6,1068.8L998.8,1068.8L998.9,1068.8L999.1,1068.8L999.2,1068.8L999.4,1068.8L999.5,1068.8L999.7,1068.8L999.8,1068.8L999.9,1068.8L1000.1,1068.8L1000.2,1068.8L1000.4,1068.8L1000.5,1068.8L1000.7,1068.8L1000.8,1068.8L1001,1068.8L1001.1,1068.8L1001.3,1068.8L1001.4,1068.8L1001.5,1068.8L1001.7,1068.8L1001.8,1068.8L1002,1068.8L1002.1,1068.8L1002.3,1068.8L1002.4,1068.8L1002.6,1068.8L1002.7,1068.8L1002.8,1068.8L1003,1068.8L1003.1,1068.8L1003.3,1068.8L1003.4,1068.8L1003.6,1068.8L1003.7,1068.8L1003.9,1068.8L1004,1068.8L1004.2,1068.8L1004.3,1068.8L1004.4,1068.8L1004.6,1068.8L1004.7,1068.8L1004.9,1068.8L1005,1068.8L1005.2,1068.8L1005.3,1068.8L1005.5,1068.8L1005.6,1068.8L1005.8,1068.8L1005.9,1068.8L1006,1068.8L1006.2,1068.8L1006.3,1068.8L1006.5,1068.8L1006.6,1068.8L1006.8,1068.8L1006.9,1068.8L1007.1,1068.8L1007.2,1068.8L1007.3,1068.8L1007.5,1068.8L1007.6,1068.8L1007.8,1068.8L1007.9,1068.8L1008.1,1068.8L1008.2,1068.8L1008.4,1068.8L1008.5,1068.8L1008.7,1068.8L1008.8,1068.8L1008.9,1068.8L1009.1,1068.8L1009.2,1068.8L1009.4,1068.8L1009.5,1068.8L1009.7,1068.8L1009.8,1068.8L1010,1068.8L1010.1,1068.8L1010.3,1068.8L1010.4,1068.8L1010.5,1068.8L1010.7,1068.8L1010.8,1068.8L1011,1068.8L1011.1,1068.8L1011.3,1068.8L1011.4,1068.8L1011.6,1068.8L1011.7,1068.8L1011.8,1068.8L1012,1068.8L1012.1,1068.8L1012.3,1068.8L1012.4,1068.8L1012.6,1068.8L1012.7,1068.8L1012.9,1068.8L1013,1068.8L1013.2,1068.8L1013.3,1068.8L1013.4,1068.8L1013.6,1068.8L1013.7,1068.8L1013.9,1068.8L1014,1068.8L1014.2,1068.8L1014.3,1068.8L1014.5,1068.8L1014.6,1068.8L1014.8,1068.8L1014.9,1068.8L1015,1068.8L1015.2,1068.8L1015.3,1068.8L1015.5,1068.8L1015.6,1068.8L1015.8,1068.8L1015.9,1068.8L1016.1,1068.8L1016.2,1068.8L1016.3,1068.8L1016.5,1068.8L1016.6,1068.8L1016.8,1068.8L1016.9,1068.8L1017.1,1068.8L1017.2,1068.8L1017.4,1068.8L1017.5,1068.8L1017.7,1068.8L1017.8,1068.8L1017.9,1068.8L1018.1,1068.8L1018.2,1068.8L1018.4,1068.8L1018.5,1068.8L1018.7,1068.8L1018.8,1068.8L1019,1068.8L1019.1,1068.8L1019.3,1068.8L1019.4,1068.8L1019.5,1068.8L1019.7,1068.8L1019.8,1068.8L1020,1068.8L1020.1,1068.8L1020.3,1068.8L1020.4,1068.8L1020.6,1068.8L1020.7,1068.8L1020.8,1068.8L1021,1068.8L1021.1,1068.8L1021.3,1068.8L1021.4,1068.8L1021.6,1068.8L1021.7,1068.8L1021.9,1068.8L1022,1068.8L1022.2,1068.8L1022.3,1068.8L1022.4,1068.8L1022.6,1068.8L1022.7,1068.8L1022.9,1068.8L1023,1068.8L1023.2,1068.8L1023.3,1068.8L1023.5,1068.8L1023.6,1068.8L1023.8,1068.8L1023.9,1068.8L1024,1068.8L1024.2,1068.8L1024.3,1068.8L1024.5,1068.8L1024.6,1068.8L1024.8,1068.8L1024.9,1068.8L1025.1,1068.8L1025.2,1068.8L1025.3,1068.8L1025.5,1068.8L1025.6,1068.8L1025.8,1068.8L1025.9,1068.8L1026.1,1068.8L1026.2,1068.8L1026.4,1068.8L1026.5,1068.8L1026.7,1068.8L1026.8,1068.8L1026.9,1068.8L1027.1,1068.8L1027.2,1068.8L1027.4,1068.8L1027.5,1068.8L1027.7,1068.8L1027.8,1068.8L1028,1068.8L1028.1,1068.8L1028.3,1068.8L1028.4,1068.8L1028.5,1068.8L1028.7,1068.8L1028.8,1068.7L1029,1068.7L1029.1,1068.7L1029.3,1068.7L1029.4,1068.7L1029.6,1068.7L1029.7,1068.7L1029.8,1068.7L1030,1068.7L1030.1,1068.7L1030.3,1068.7L1030.4,1068.7L1030.6,1068.7L1030.7,1068.7L1030.9,1068.7L1031,1068.7L1031.2,1068.7L1031.3,1068.7L1031.4,1068.7L1031.6,1068.7L1031.7,1068.7L1031.9,1068.7L1032,1068.7L1032.2,1068.7L1032.3,1068.7L1032.5,1068.7L1032.6,1068.7L1032.8,1068.7L1032.9,1068.7L1033,1068.7L1033.2,1068.7L1033.3,1068.7L1033.5,1068.7L1033.6,1068.7L1033.8,1068.7L1033.9,1068.7L1034.1,1068.7L1034.2,1068.7L1034.3,1068.7L1034.5,1068.7L1034.6,1068.7L1034.8,1068.7L1034.9,1068.7L1035.1,1068.7L1035.2,1068.7L1035.4,1068.7L1035.5,1068.7L1035.7,1068.7L1035.8,1068.7L1035.9,1068.7L1036.1,1068.7L1036.2,1068.7L1036.4,1068.7L1036.5,1068.7L1036.7,1068.7L1036.8,1068.7L1037,1068.7L1037.1,1068.7L1037.3,1068.7L1037.4,1068.7L1037.5,1068.7L1037.7,1068.7L1037.8,1068.7L1038,1068.7L1038.1,1068.7L1038.3,1068.7L1038.4,1068.7L1038.6,1068.7L1038.7,1068.7L1038.8,1068.7L1039,1068.7L1039.1,1068.7L1039.3,1068.7L1039.4,1068.7L1039.6,1068.7L1039.7,1068.7L1039.9,1068.7L1040,1068.7L1040.2,1068.7L1040.3,1068.7L1040.4,1068.7L1040.6,1068.7L1040.7,1068.7L1040.9,1068.7L1041,1068.7L1041.2,1068.7L1041.3,1068.7L1041.5,1068.7L1041.6,1068.7L1041.8,1068.7L1041.9,1068.7L1042,1068.7L1042.2,1068.7L1042.3,1068.7L1042.5,1068.7L1042.6,1068.7L1042.8,1068.7L1042.9,1068.7L1043.1,1068.7L1043.2,1068.7L1043.3,1068.7L1043.5,1068.7L1043.6,1068.7L1043.8,1068.7L1043.9,1068.7L1044.1,1068.7L1044.2,1068.7L1044.4,1068.7L1044.5,1068.7L1044.7,1068.7L1044.8,1068.7L1044.9,1068.7L1045.1,1068.7L1045.2,1068.7L1045.4,1068.7L1045.5,1068.7L1045.7,1068.7L1045.8,1068.7L1046,1068.7L1046.1,1068.7L1046.2,1068.7L1046.4,1068.7L1046.5,1068.7L1046.7,1068.7L1046.8,1068.7L1047,1068.7L1047.1,1068.7L1047.3,1068.7L1047.4,1068.7L1047.6,1068.7L1047.7,1068.7L1047.8,1068.7L1048,1068.7L1048.1,1068.7L1048.3,1068.7L1048.4,1068.7L1048.6,1068.7L1048.7,1068.7L1048.9,1068.7L1049,1068.7L1049.2,1068.7L1049.3,1068.7L1049.4,1068.7L1049.6,1068.7L1049.7,1068.7L1049.9,1068.7L1050,1068.7L1050.2,1068.7L1050.3,1068.7L1050.5,1068.7L1050.6,1068.7L1050.7,1068.7L1050.9,1068.7L1051,1068.7L1051.2,1068.7L1051.3,1068.7L1051.5,1068.7L1051.6,1068.7L1051.8,1068.7L1051.9,1068.7L1052.1,1068.7L1052.2,1068.7L1052.3,1068.7L1052.5,1068.7L1052.6,1068.7L1052.8,1068.7L1052.9,1068.7L1053.1,1068.7L1053.2,1068.7L1053.4,1068.7L1053.5,1068.7L1053.7,1068.7L1053.8,1068.7L1053.9,1068.7L1054.1,1068.7L1054.2,1068.7L1054.4,1068.7L1054.5,1068.7L1054.7,1068.7L1054.8,1068.7L1055,1068.7L1055.1,1068.7L1055.2,1068.7L1055.4,1068.7L1055.5,1068.7L1055.7,1068.7L1055.8,1068.7L1056,1068.7L1056.1,1068.7L1056.3,1068.7L1056.4,1068.7L1056.6,1068.7L1056.7,1068.7L1056.8,1068.7L1057,1068.7L1057.1,1068.7L1057.3,1068.7L1057.4,1068.7L1057.6,1068.7L1057.7,1068.7L1057.9,1068.7L1058,1068.7L1058.2,1068.7L1058.3,1068.7L1058.4,1068.7L1058.6,1068.7L1058.7,1068.7L1058.9,1068.7L1059,1068.7L1059.2,1068.7L1059.3,1068.7L1059.5,1068.7L1059.6,1068.7L1059.7,1068.7L1059.9,1068.7L1060,1068.7L1060.2,1068.7L1060.3,1068.7L1060.5,1068.7L1060.6,1068.7L1060.8,1068.7L1060.9,1068.7L1061.1,1068.7L1061.2,1068.7L1061.3,1068.7L1061.5,1068.7L1061.6,1068.7L1061.8,1068.7L1061.9,1068.7L1062.1,1068.7L1062.2,1068.7L1062.4,1068.7L1062.5,1068.7L1062.7,1068.7L1062.8,1068.7L1062.9,1068.7L1063.1,1068.7L1063.2,1068.7L1063.4,1068.7L1063.5,1068.7L1063.7,1068.7L1063.8,1068.6L1064,1068.6L1064.1,1068.6L1064.2,1068.6L1064.4,1068.6L1064.5,1068.6L1064.7,1068.6L1064.8,1068.6L1065,1068.6L1065.1,1068.5L1065.3,1068.5L1065.4,1068.5L1065.6,1068.5L1065.7,1068.5L1065.8,1068.5L1066,1068.4L1066.1,1068.4L1066.3,1068.4L1066.4,1068.4L1066.6,1068.3L1066.7,1068.3L1066.9,1068.3L1067,1068.3L1067.2,1068.2L1067.3,1068.2L1067.4,1068.1L1067.6,1068.1L1067.7,1068.1L1067.9,1068L1068,1068L1068.2,1067.9L1068.3,1067.9L1068.5,1067.8L1068.6,1067.7L1068.7,1067.7L1068.9,1067.6L1069,1067.5L1069.2,1067.4L1069.3,1067.4L1069.5,1067.3L1069.6,1067.2L1069.8,1067.1L1069.9,1067L1070.1,1066.9L1070.2,1066.8L1070.3,1066.6L1070.5,1066.5L1070.6,1066.4L1070.8,1066.2L1070.9,1066.1L1071.1,1065.9L1071.2,1065.8L1071.4,1065.6L1071.5,1065.4L1071.7,1065.2L1071.8,1065L1071.9,1064.8L1072.1,1064.6L1072.2,1064.3L1072.4,1064.1L1072.5,1063.8L1072.7,1063.5L1072.8,1063.2L1073,1062.9L1073.1,1062.6L1073.2,1062.3L1073.4,1062L1073.5,1061.6L1073.7,1061.2L1073.8,1060.8L1074,1060.4L1074.1,1060L1074.3,1059.5L1074.4,1059L1074.6,1058.5L1074.7,1058L1074.8,1057.5L1075,1056.9L1075.1,1056.3L1075.3,1055.7L1075.4,1055.1L1075.6,1054.4L1075.7,1053.7L1075.9,1053L1076,1052.2L1076.2,1051.5L1076.3,1050.7L1076.4,1049.8L1076.6,1048.9L1076.7,1048L1076.9,1047.1L1077,1046.1L1077.2,1045.1L1077.3,1044.1L1077.5,1043L1077.6,1041.8L1077.7,1040.7L1077.9,1039.5L1078,1038.2L1078.2,1036.9L1078.3,1035.6L1078.5,1034.2L1078.6,1032.8L1078.8,1031.3L1078.9,1029.8L1079.1,1028.2L1079.2,1026.6L1079.3,1024.9L1079.5,1023.2L1079.6,1021.4L1079.8,1019.6L1079.9,1017.7L1080.1,1015.8L1080.2,1013.8L1080.4,1011.7L1080.5,1009.6L1080.7,1007.5L1080.8,1005.3L1080.9,1003L1081.1,1000.7L1081.2,998.3L1081.4,995.8L1081.5,993.3L1081.7,990.7L1081.8,988.1L1082,985.4L1082.1,982.6L1082.2,979.8L1082.4,976.9L1082.5,974L1082.7,971L1082.8,967.9L1083,964.8L1083.1,961.6L1083.3,958.3L1083.4,955L1083.6,951.6L1083.7,948.2L1083.8,944.7L1084,941.1L1084.1,937.5L1084.3,933.9L1084.4,930.1L1084.6,926.3L1084.7,922.5L1084.9,918.6L1085,914.7L1085.1,910.7L1085.3,906.6L1085.4,902.5L1085.6,898.4L1085.7,894.2L1085.9,890L1086,885.7L1086.2,881.4L1086.3,877L1086.5,872.6L1086.6,868.2L1086.7,863.7L1086.9,859.2L1087,854.7L1087.2,850.2L1087.3,845.6L1087.5,841L1087.6,836.4L1087.8,831.8L1087.9,827.2L1088.1,822.6L1088.2,817.9L1088.3,813.3L1088.5,808.6L1088.6,804L1088.8,799.4L1088.9,794.7L1089.1,790.1L1089.2,785.5L1089.4,780.9L1089.5,776.4L1089.6,771.9L1089.8,767.4L1089.9,762.9L1090.1,758.5L1090.2,754.1L1090.4,749.7L1090.5,745.4L1090.7,741.2L1090.8,737L1091,732.8L1091.1,728.8L1091.2,724.7L1091.4,720.8L1091.5,716.9L1091.7,713.1L1091.8,709.4L1092,705.8L1092.1,702.2L1092.3,698.7L1092.4,695.4L1092.6,692.1L1092.7,688.9L1092.8,685.8L1093,682.8L1093.1,679.9L1093.3,677.2L1093.4,674.5L1093.6,671.9L1093.7,669.5L1093.9,667.2L1094,665L1094.1,662.9L1094.3,661L1094.4,659.1L1094.6,657.5L1094.7,655.9L1094.9,654.4L1095,653.1L1095.2,652L1095.3,650.9L1095.5,650L1095.6,649.3L1095.7,648.7L1095.9,648.2L1096,647.8L1096.2,647.6L1096.3,647.5L1096.5,647.6L1096.6,647.8L1096.8,648.2L1096.9,648.7L1097.1,649.3L1097.2,650L1097.3,650.9L1097.5,652L1097.6,653.1L1097.8,654.4L1097.9,655.9L1098.1,657.5L1098.2,659.1L1098.4,661L1098.5,662.9L1098.6,665L1098.8,667.2L1098.9,669.5L1099.1,671.9L1099.2,674.5L1099.4,677.2L1099.5,679.9L1099.7,682.8L1099.8,685.8L1100,688.9L1100.1,692.1L1100.2,695.4L1100.4,698.7L1100.5,702.2L1100.7,705.8L1100.8,709.4L1101,713.1L1101.1,716.9L1101.3,720.8L1101.4,724.7L1101.6,728.8L1101.7,732.8L1101.8,737L1102,741.2L1102.1,745.4L1102.3,749.7L1102.4,754.1L1102.6,758.5L1102.7,762.9L1102.9,767.4L1103,771.9L1103.1,776.4L1103.3,780.9L1103.4,785.5L1103.6,790.1L1103.7,794.7L1103.9,799.4L1104,804L1104.2,808.6L1104.3,813.3L1104.5,817.9L1104.6,822.6L1104.7,827.2L1104.9,831.8L1105,836.4L1105.2,841L1105.3,845.6L1105.5,850.2L1105.6,854.7L1105.8,859.2L1105.9,863.7L1106.1,868.2L1106.2,872.6L1106.3,877L1106.5,881.4L1106.6,885.7L1106.8,890L1106.9,894.2L1107.1,898.4L1107.2,902.5L1107.4,906.6L1107.5,910.7L1107.6,914.7L1107.8,918.6L1107.9,922.5L1108.1,926.3L1108.2,930.1L1108.4,933.9L1108.5,937.5L1108.7,941.1L1108.8,944.7L1109,948.2L1109.1,951.6L1109.2,955L1109.4,958.3L1109.5,961.6L1109.7,964.8L1109.8,967.9L1110,971L1110.1,974L1110.3,976.9L1110.4,979.8L1110.6,982.6L1110.7,985.4L1110.8,988.1L1111,990.7L1111.1,993.3L1111.3,995.8L1111.4,998.3L1111.6,1000.7L1111.7,1003L1111.9,1005.3L1112,1007.5L1112.1,1009.6L1112.3,1011.7L1112.4,1013.8L1112.6,1015.8L1112.7,1017.7L1112.9,1019.6L1113,1021.4L1113.2,1023.2L1113.3,1024.9L1113.5,1026.6L1113.6,1028.2L1113.7,1029.8L1113.9,1031.3L1114,1032.8L1114.2,1034.2L1114.3,1035.6L1114.5,1036.9L1114.6,1038.2L1114.8,1039.5L1114.9,1040.7L1115.1,1041.8L1115.2,1043L1115.3,1044.1L1115.5,1045.1L1115.6,1046.1L1115.8,1047.1L1115.9,1048L1116.1,1048.9L1116.2,1049.8L1116.4,1050.7L1116.5,1051.5L1116.6,1052.2L1116.8,1053L1116.9,1053.7L1117.1,1054.4L1117.2,1055.1L1117.4,1055.7L1117.5,1056.3L1117.7,1056.9L1117.8,1057.5L1118,1058L1118.1,1058.5L1118.2,1059L1118.4,1059.5L1118.5,1060L1118.7,1060.4L1118.8,1060.8L1119,1061.2L1119.1,1061.6L1119.3,1062L1119.4,1062.3L1119.6,1062.6L1119.7,1062.9L1119.8,1063.2L1120,1063.5L1120.1,1063.8L1120.3,1064.1L1120.4,1064.3L1120.6,1064.6L1120.7,1064.8L1120.9,1065L1121,1065.2L1121.1,1065.4L1121.3,1065.6L1121.4,1065.8L1121.6,1065.9L1121.7,1066.1L1121.9,1066.2L1122,1066.4L1122.2,1066.5L1122.3,1066.6L1122.5,1066.8L1122.6,1066.9L1122.7,1067L1122.9,1067.1L1123,1067.2L1123.2,1067.3L1123.3,1067.4L1123.5,1067.4L1123.6,1067.5L1123.8,1067.6L1123.9,1067.7L1124.1,1067.7L1124.2,1067.8L1124.3,1067.9L1124.5,1067.9L1124.6,1068L1124.8,1068L1124.9,1068.1L1125.1,1068.1L1125.2,1068.1L1125.4,1068.2L1125.5,1068.2L1125.6,1068.3L1125.8,1068.3L1125.9,1068.3L1126.1,1068.3L1126.2,1068.4L1126.4,1068.4L1126.5,1068.4L1126.7,1068.4L1126.8,1068.5L1127,1068.5L1127.1,1068.5L1127.2,1068.5L1127.4,1068.5L1127.5,1068.5L1127.7,1068.6L1127.8,1068.6L1128,1068.6L1128.1,1068.6L1128.3,1068.6L1128.4,1068.6L1128.5,1068.6L1128.7,1068.6L1128.8,1068.6L1129,1068.7L1129.1,1068.7L1129.3,1068.7L1129.4,1068.7L1129.6,1068.7L1129.7,1068.7L1129.9,1068.7L1130,1068.7L1130.1,1068.7L1130.3,1068.7L1130.4,1068.7L1130.6,1068.7L1130.7,1068.7L1130.9,1068.7L1131,1068.7L1131.2,1068.7L1131.3,1068.7L1131.5,1068.7L1131.6,1068.7L1131.7,1068.7L1131.9,1068.7L1132,1068.7L1132.2,1068.7L1132.3,1068.7L1132.5,1068.7L1132.6,1068.7L1132.8,1068.7L1132.9,1068.7L1133,1068.7L1133.2,1068.7L1133.3,1068.7L1133.5,1068.7L1133.6,1068.7L1133.8,1068.7L1133.9,1068.7L1134.1,1068.7L1134.2,1068.7L1134.4,1068.7L1134.5,1068.7L1134.6,1068.7L1134.8,1068.7L1134.9,1068.7L1135.1,1068.7L1135.2,1068.7L1135.4,1068.7L1135.5,1068.7L1135.7,1068.7L1135.8,1068.7L1136,1068.7L1136.1,1068.7L1136.2,1068.7L1136.4,1068.7L1136.5,1068.7L1136.7,1068.7L1136.8,1068.7L1137,1068.7L1137.1,1068.7L1137.3,1068.7L1137.4,1068.7L1137.5,1068.7L1137.7,1068.7L1137.8,1068.7L1138,1068.7L1138.1,1068.7L1138.3,1068.7L1138.4,1068.7L1138.6,1068.7L1138.7,1068.7L1138.9,1068.7L1139,1068.7L1139.1,1068.7L1139.3,1068.7L1139.4,1068.7L1139.6,1068.7L1139.7,1068.7L1139.9,1068.7L1140,1068.7L1140.2,1068.7L1140.3,1068.7L1140.5,1068.7L1140.6,1068.7L1140.7,1068.7L1140.9,1068.7L1141,1068.7L1141.2,1068.7L1141.3,1068.7L1141.5,1068.7L1141.6,1068.7L1141.8,1068.7L1141.9,1068.7L1142,1068.7L1142.2,1068.7L1142.3,1068.7L1142.5,1068.7L1142.6,1068.7L1142.8,1068.7L1142.9,1068.7L1143.1,1068.7L1143.2,1068.7L1143.4,1068.7L1143.5,1068.7L1143.6,1068.7L1143.8,1068.7L1143.9,1068.7L1144.1,1068.7L1144.2,1068.7L1144.4,1068.7L1144.5,1068.7L1144.7,1068.7L1144.8,1068.7L1145,1068.7L1145.1,1068.7L1145.2,1068.7L1145.4,1068.7L1145.5,1068.7L1145.7,1068.7L1145.8,1068.7L1146,1068.7L1146.1,1068.7L1146.3,1068.7L1146.4,1068.7L1146.5,1068.7L1146.7,1068.7L1146.8,1068.7L1147,1068.7L1147.1,1068.7L1147.3,1068.7L1147.4,1068.7L1147.6,1068.7L1147.7,1068.7L1147.9,1068.7L1148,1068.7L1148.1,1068.7L1148.3,1068.7L1148.4,1068.7L1148.6,1068.7L1148.7,1068.7L1148.9,1068.7L1149,1068.7L1149.2,1068.7L1149.3,1068.7L1149.5,1068.7L1149.6,1068.7L1149.7,1068.7L1149.9,1068.7L1150,1068.7L1150.2,1068.7L1150.3,1068.7L1150.5,1068.7L1150.6,1068.7L1150.8,1068.7L1150.9,1068.7L1151,1068.7L1151.2,1068.7L1151.3,1068.7L1151.5,1068.7L1151.6,1068.7L1151.8,1068.7L1151.9,1068.7L1152.1,1068.7L1152.2,1068.7L1152.4,1068.7L1152.5,1068.7L1152.6,1068.7L1152.8,1068.7L1152.9,1068.7L1153.1,1068.7L1153.2,1068.7L1153.4,1068.7L1153.5,1068.7L1153.7,1068.7L1153.8,1068.7L1154,1068.7L1154.1,1068.7L1154.2,1068.7L1154.4,1068.7L1154.5,1068.7L1154.7,1068.7L1154.8,1068.7L1155,1068.7L1155.1,1068.7L1155.3,1068.7L1155.4,1068.7L1155.5,1068.7L1155.7,1068.7L1155.8,1068.7L1156,1068.7L1156.1,1068.7L1156.3,1068.7L1156.4,1068.7L1156.6,1068.7L1156.7,1068.7L1156.9,1068.7L1157,1068.7L1157.1,1068.7L1157.3,1068.7L1157.4,1068.7L1157.6,1068.7L1157.7,1068.7L1157.9,1068.7L1158,1068.7L1158.2,1068.7L1158.3,1068.7L1158.5,1068.7L1158.6,1068.7L1158.7,1068.7L1158.9,1068.7L1159,1068.7L1159.2,1068.7L1159.3,1068.7L1159.5,1068.7L1159.6,1068.7L1159.8,1068.7L1159.9,1068.7L1160,1068.7L1160.2,1068.7L1160.3,1068.7L1160.5,1068.7L1160.6,1068.7L1160.8,1068.7L1160.9,1068.7L1161.1,1068.7L1161.2,1068.7L1161.4,1068.7L1161.5,1068.7L1161.6,1068.7L1161.8,1068.7L1161.9,1068.7L1162.1,1068.7L1162.2,1068.7L1162.4,1068.7L1162.5,1068.7L1162.7,1068.7L1162.8,1068.7L1163,1068.7L1163.1,1068.7L1163.2,1068.7L1163.4,1068.7L1163.5,1068.7L1163.7,1068.7L1163.8,1068.7L1164,1068.8L1164.1,1068.8L1164.3,1068.8L1164.4,1068.8L1164.5,1068.8L1164.7,1068.8L1164.8,1068.8L1165,1068.8L1165.1,1068.8L1165.3,1068.8L1165.4,1068.8L1165.6,1068.8L1165.7,1068.8L1165.9,1068.8L1166,1068.8L1166.1,1068.8L1166.3,1068.8L1166.4,1068.8L1166.6,1068.8L1166.7,1068.8L1166.9,1068.8L1167,1068.8L1167.2,1068.8L1167.3,1068.8L1167.4,1068.8L1167.6,1068.8L1167.7,1068.8L1167.9,1068.8L1168,1068.8L1168.2,1068.8L1168.3,1068.8L1168.5,1068.8L1168.6,1068.8L1168.8,1068.8L1168.9,1068.8L1169,1068.8L1169.2,1068.8L1169.3,1068.8L1169.5,1068.8L1169.6,1068.8L1169.8,1068.8L1169.9,1068.8L1170.1,1068.8L1170.2,1068.8L1170.4,1068.8L1170.5,1068.8L1170.6,1068.8L1170.8,1068.8L1170.9,1068.8L1171.1,1068.8L1171.2,1068.8L1171.4,1068.8L1171.5,1068.8L1171.7,1068.8L1171.8,1068.8L1171.9,1068.8L1172.1,1068.8L1172.2,1068.8L1172.4,1068.8L1172.5,1068.8L1172.7,1068.8L1172.8,1068.8L1173,1068.8L1173.1,1068.8L1173.3,1068.8L1173.4,1068.8L1173.5,1068.8L1173.7,1068.8L1173.8,1068.8L1174,1068.8L1174.1,1068.8L1174.3,1068.8L1174.4,1068.8L1174.6,1068.8L1174.7,1068.8L1174.9,1068.8L1175,1068.8L1175.1,1068.8L1175.3,1068.8L1175.4,1068.8L1175.6,1068.8L1175.7,1068.8L1175.9,1068.8L1176,1068.8L1176.2,1068.8L1176.3,1068.8L1176.4,1068.8L1176.6,1068.8L1176.7,1068.8L1176.9,1068.8L1177,1068.8L1177.2,1068.8L1177.3,1068.8L1177.5,1068.8L1177.6,1068.8L1177.8,1068.8L1177.9,1068.8L1178,1068.8L1178.2,1068.8L1178.3,1068.8L1178.5,1068.8L1178.6,1068.8L1178.8,1068.8L1178.9,1068.8L1179.1,1068.8L1179.2,1068.8L1179.4,1068.8L1179.5,1068.8L1179.6,1068.8L1179.8,1068.8L1179.9,1068.8L1180.1,1068.8L1180.2,1068.8L1180.4,1068.8L1180.5,1068.8L1180.7,1068.8L1180.8,1068.8L1180.9,1068.8L1181.1,1068.8L1181.2,1068.8L1181.4,1068.8L1181.5,1068.8L1181.7,1068.8L1181.8,1068.8L1182,1068.8L1182.1,1068.8L1182.3,1068.8L1182.4,1068.8L1182.5,1068.8L1182.7,1068.8L1182.8,1068.8L1183,1068.8L1183.1,1068.8L1183.3,1068.8L1183.4,1068.8L1183.6,1068.8L1183.7,1068.8L1183.9,1068.8L1184,1068.8L1184.1,1068.8L1184.3,1068.8L1184.4,1068.8L1184.6,1068.8L1184.7,1068.8L1184.9,1068.8L1185,1068.7L1185.2,1068.7L1185.3,1068.7L1185.4,1068.7L1185.6,1068.7L1185.7,1068.7L1185.9,1068.7L1186,1068.7L1186.2,1068.7L1186.3,1068.7L1186.5,1068.7L1186.6,1068.7L1186.8,1068.7L1186.9,1068.7L1187,1068.7L1187.2,1068.7L1187.3,1068.7L1187.5,1068.7L1187.6,1068.7L1187.8,1068.7L1187.9,1068.7L1188.1,1068.7L1188.2,1068.7L1188.4,1068.7L1188.5,1068.7L1188.6,1068.7L1188.8,1068.7L1188.9,1068.7L1189.1,1068.7L1189.2,1068.7L1189.4,1068.7L1189.5,1068.7L1189.7,1068.7L1189.8,1068.7L1189.9,1068.7L1190.1,1068.7L1190.2,1068.7L1190.4,1068.7L1190.5,1068.7L1190.7,1068.7L1190.8,1068.7L1191,1068.7L1191.1,1068.7L1191.3,1068.7L1191.4,1068.7L1191.5,1068.7L1191.7,1068.7L1191.8,1068.7L1192,1068.7L1192.1,1068.7L1192.3,1068.7L1192.4,1068.7L1192.6,1068.7L1192.7,1068.7L1192.9,1068.7L1193,1068.7L1193.1,1068.7L1193.3,1068.7L1193.4,1068.7L1193.6,1068.7L1193.7,1068.7L1193.9,1068.7L1194,1068.7L1194.2,1068.7L1194.3,1068.7L1194.4,1068.7L1194.6,1068.7L1194.7,1068.7L1194.9,1068.7L1195,1068.7L1195.2,1068.7L1195.3,1068.7L1195.5,1068.7L1195.6,1068.7L1195.8,1068.7L1195.9,1068.7L1196,1068.7L1196.2,1068.7L1196.3,1068.7L1196.5,1068.7L1196.6,1068.7L1196.8,1068.7L1196.9,1068.7L1197.1,1068.7L1197.2,1068.7L1197.4,1068.7L1197.5,1068.7L1197.6,1068.7L1197.8,1068.7L1197.9,1068.7L1198.1,1068.7L1198.2,1068.7L1198.4,1068.7L1198.5,1068.7L1198.7,1068.7L1198.8,1068.7L1198.9,1068.7L1199.1,1068.7L1199.2,1068.7L1199.4,1068.7L1199.5,1068.7L1199.7,1068.7L1199.8,1068.7L1200,1068.7L1200.1,1068.7L1200.3,1068.7L1200.4,1068.7L1200.5,1068.7L1200.7,1068.7L1200.8,1068.7L1201,1068.7L1201.1,1068.7L1201.3,1068.7L1201.4,1068.7L1201.6,1068.7L1201.7,1068.7L1201.9,1068.7L1202,1068.7L1202.1,1068.7L1202.3,1068.7L1202.4,1068.7L1202.6,1068.7L1202.7,1068.7L1202.9,1068.7L1203,1068.7L1203.2,1068.7L1203.3,1068.7L1203.4,1068.7L1203.6,1068.7L1203.7,1068.7L1203.9,1068.7L1204,1068.7L1204.2,1068.7L1204.3,1068.7L1204.5,1068.7L1204.6,1068.7L1204.8,1068.7L1204.9,1068.7L1205,1068.7L1205.2,1068.7L1205.3,1068.7L1205.5,1068.7L1205.6,1068.7L1205.8,1068.7L1205.9,1068.7L1206.1,1068.7L1206.2,1068.7L1206.4,1068.7L1206.5,1068.7L1206.6,1068.7L1206.8,1068.7L1206.9,1068.7L1207.1,1068.7L1207.2,1068.7L1207.4,1068.7L1207.5,1068.7L1207.7,1068.7L1207.8,1068.7L1207.9,1068.7L1208.1,1068.7L1208.2,1068.7L1208.4,1068.7L1208.5,1068.7L1208.7,1068.7L1208.8,1068.7L1209,1068.7L1209.1,1068.7L1209.3,1068.7L1209.4,1068.7L1209.5,1068.7L1209.7,1068.7L1209.8,1068.7L1210,1068.7L1210.1,1068.7L1210.3,1068.7L1210.4,1068.7L1210.6,1068.7L1210.7,1068.7L1210.8,1068.7L1211,1068.7L1211.1,1068.7L1211.3,1068.7L1211.4,1068.7L1211.6,1068.7L1211.7,1068.7L1211.9,1068.7L1212,1068.7L1212.2,1068.7L1212.3,1068.7L1212.4,1068.7L1212.6,1068.7L1212.7,1068.7L1212.9,1068.7L1213,1068.7L1213.2,1068.7L1213.3,1068.7L1213.5,1068.7L1213.6,1068.7L1213.8,1068.7L1213.9,1068.7L1214,1068.7L1214.2,1068.7L1214.3,1068.7L1214.5,1068.7L1214.6,1068.7L1214.8,1068.7L1214.9,1068.7L1215.1,1068.7L1215.2,1068.7L1215.3,1068.7L1215.5,1068.7L1215.6,1068.7L1215.8,1068.7L1215.9,1068.7L1216.1,1068.7L1216.2,1068.7L1216.4,1068.7L1216.5,1068.7L1216.7,1068.7L1216.8,1068.7L1216.9,1068.7L1217.1,1068.7L1217.2,1068.7L1217.4,1068.7L1217.5,1068.7L1217.7,1068.7L1217.8,1068.7L1218,1068.7L1218.1,1068.7L1218.3,1068.6L1218.4,1068.6L1218.5,1068.6L1218.7,1068.6L1218.8,1068.6L1219,1068.6L1219.1,1068.6L1219.3,1068.6L1219.4,1068.6L1219.6,1068.6L1219.7,1068.5L1219.8,1068.5L1220,1068.5L1220.1,1068.5L1220.3,1068.5L1220.4,1068.4L1220.6,1068.4L1220.7,1068.4L1220.9,1068.4L1221,1068.4L1221.2,1068.3L1221.3,1068.3L1221.4,1068.3L1221.6,1068.2L1221.7,1068.2L1221.9,1068.2L1222,1068.1L1222.2,1068.1L1222.3,1068L1222.5,1068L1222.6,1067.9L1222.8,1067.9L1222.9,1067.8L1223,1067.8L1223.2,1067.7L1223.3,1067.6L1223.5,1067.5L1223.6,1067.5L1223.8,1067.4L1223.9,1067.3L1224.1,1067.2L1224.2,1067.1L1224.3,1067L1224.5,1066.9L1224.6,1066.8L1224.8,1066.7L1224.9,1066.6L1225.1,1066.4L1225.2,1066.3L1225.4,1066.1L1225.5,1066L1225.7,1065.8L1225.8,1065.7L1225.9,1065.5L1226.1,1065.3L1226.2,1065.1L1226.4,1064.9L1226.5,1064.7L1226.7,1064.5L1226.8,1064.2L1227,1064L1227.1,1063.7L1227.3,1063.5L1227.4,1063.2L1227.5,1062.9L1227.7,1062.6L1227.8,1062.3L1228,1061.9L1228.1,1061.6L1228.3,1061.2L1228.4,1060.8L1228.6,1060.5L1228.7,1060L1228.8,1059.6L1229,1059.2L1229.1,1058.7L1229.3,1058.2L1229.4,1057.7L1229.6,1057.2L1229.7,1056.7L1229.9,1056.1L1230,1055.5L1230.2,1054.9L1230.3,1054.3L1230.4,1053.7L1230.6,1053L1230.7,1052.3L1230.9,1051.6L1231,1050.9L1231.2,1050.1L1231.3,1049.3L1231.5,1048.5L1231.6,1047.7L1231.8,1046.8L1231.9,1045.9L1232,1045L1232.2,1044.1L1232.3,1043.1L1232.5,1042.1L1232.6,1041.1L1232.8,1040L1232.9,1038.9L1233.1,1037.8L1233.2,1036.7L1233.3,1035.5L1233.5,1034.3L1233.6,1033L1233.8,1031.8L1233.9,1030.5L1234.1,1029.2L1234.2,1027.8L1234.4,1026.4L1234.5,1025L1234.7,1023.6L1234.8,1022.1L1234.9,1020.6L1235.1,1019L1235.2,1017.5L1235.4,1015.9L1235.5,1014.3L1235.7,1012.6L1235.8,1010.9L1236,1009.2L1236.1,1007.5L1236.3,1005.8L1236.4,1004L1236.5,1002.2L1236.7,1000.3L1236.8,998.5L1237,996.6L1237.1,994.7L1237.3,992.8L1237.4,990.9L1237.6,988.9L1237.7,986.9L1237.8,984.9L1238,982.9L1238.1,980.9L1238.3,978.9L1238.4,976.8L1238.6,974.8L1238.7,972.7L1238.9,970.7L1239,968.6L1239.2,966.5L1239.3,964.4L1239.4,962.3L1239.6,960.2L1239.7,958.2L1239.9,956.1L1240,954L1240.2,951.9L1240.3,949.9L1240.5,947.8L1240.6,945.8L1240.8,943.8L1240.9,941.7L1241,939.7L1241.2,937.8L1241.3,935.8L1241.5,933.9L1241.6,932L1241.8,930.1L1241.9,928.3L1242.1,926.4L1242.2,924.6L1242.3,922.9L1242.5,921.2L1242.6,919.5L1242.8,917.8L1242.9,916.2L1243.1,914.7L1243.2,913.2L1243.4,911.7L1243.5,910.3L1243.7,908.9L1243.8,907.6L1243.9,906.3L1244.1,905.1L1244.2,903.9L1244.4,902.8L1244.5,901.7L1244.7,900.7L1244.8,899.8L1245,898.9L1245.1,898.1L1245.3,897.3L1245.4,896.6L1245.5,896L1245.7,895.4L1245.8,894.9L1246,894.5L1246.1,894.1L1246.3,893.8L1246.4,893.6L1246.6,893.4L1246.7,893.3L1246.8,893.3L1247,893.3L1247.1,893.4L1247.3,893.5L1247.4,893.7L1247.6,893.9L1247.7,894.2L1247.9,894.6L1248,895L1248.2,895.4L1248.3,895.9L1248.4,896.4L1248.6,897L1248.7,897.6L1248.9,898.3L1249,899.1L1249.2,899.8L1249.3,900.7L1249.5,901.5L1249.6,902.5L1249.7,903.4L1249.9,904.4L1250,905.5L1250.2,906.6L1250.3,907.7L1250.5,908.9L1250.6,910.1L1250.8,911.3L1250.9,912.6L1251.1,913.9L1251.2,915.3L1251.3,916.6L1251.5,918.1L1251.6,919.5L1251.8,921L1251.9,922.5L1252.1,924L1252.2,925.6L1252.4,927.2L1252.5,928.8L1252.7,930.4L1252.8,932.1L1252.9,933.8L1253.1,935.5L1253.2,937.2L1253.4,938.9L1253.5,940.6L1253.7,942.4L1253.8,944.2L1254,946L1254.1,947.7L1254.2,949.5L1254.4,951.4L1254.5,953.2L1254.7,955L1254.8,956.8L1255,958.7L1255.1,960.5L1255.3,962.3L1255.4,964.2L1255.6,966L1255.7,967.8L1255.8,969.7L1256,971.5L1256.1,973.3L1256.3,975.1L1256.4,976.9L1256.6,978.7L1256.7,980.5L1256.9,982.3L1257,984.1L1257.2,985.8L1257.3,987.6L1257.4,989.3L1257.6,991L1257.7,992.7L1257.9,994.4L1258,996.1L1258.2,997.7L1258.3,999.4L1258.5,1001L1258.6,1002.6L1258.7,1004.2L1258.9,1005.7L1259,1007.3L1259.2,1008.8L1259.3,1010.3L1259.5,1011.8L1259.6,1013.2L1259.8,1014.7L1259.9,1016.1L1260.1,1017.5L1260.2,1018.9L1260.3,1020.2L1260.5,1021.6L1260.6,1022.9L1260.8,1024.2L1260.9,1025.4L1261.1,1026.7L1261.2,1027.9L1261.4,1029.1L1261.5,1030.2L1261.7,1031.4L1261.8,1032.5L1261.9,1033.6L1262.1,1034.7L1262.2,1035.7L1262.4,1036.7L1262.5,1037.7L1262.7,1038.7L1262.8,1039.7L1263,1040.6L1263.1,1041.5L1263.2,1042.4L1263.4,1043.3L1263.5,1044.2L1263.7,1045L1263.8,1045.8L1264,1046.6L1264.1,1047.3L1264.3,1048.1L1264.4,1048.8L1264.6,1049.5L1264.7,1050.2L1264.8,1050.9L1265,1051.5L1265.1,1052.1L1265.3,1052.8L1265.4,1053.3L1265.6,1053.9L1265.7,1054.5L1265.9,1055L1266,1055.5L1266.2,1056L1266.3,1056.5L1266.4,1057L1266.6,1057.5L1266.7,1057.9L1266.9,1058.3L1267,1058.7L1267.2,1059.1L1267.3,1059.5L1267.5,1059.9L1267.6,1060.2L1267.7,1060.6L1267.9,1060.9L1268,1061.2L1268.2,1061.5L1268.3,1061.8L1268.5,1062.1L1268.6,1062.4L1268.8,1062.6L1268.9,1062.9L1269.1,1063.1L1269.2,1063.4L1269.3,1063.6L1269.5,1063.8L1269.6,1064L1269.8,1064.2L1269.9,1064.4L1270.1,1064.5L1270.2,1064.7L1270.4,1064.8L1270.5,1065L1270.7,1065.1L1270.8,1065.2L1270.9,1065.4L1271.1,1065.5L1271.2,1065.6L1271.4,1065.7L1271.5,1065.8L1271.7,1065.9L1271.8,1065.9L1272,1066L1272.1,1066.1L1272.2,1066.1L1272.4,1066.2L1272.5,1066.2L1272.7,1066.3L1272.8,1066.3L1273,1066.3L1273.1,1066.3L1273.3,1066.3L1273.4,1066.3L1273.6,1066.3L1273.7,1066.3L1273.8,1066.3L1274,1066.3L1274.1,1066.3L1274.3,1066.2L1274.4,1066.2L1274.6,1066.2L1274.7,1066.1L1274.9,1066L1275,1066L1275.2,1065.9L1275.3,1065.8L1275.4,1065.7L1275.6,1065.6L1275.7,1065.5L1275.9,1065.4L1276,1065.3L1276.2,1065.2L1276.3,1065.1L1276.5,1064.9L1276.6,1064.8L1276.7,1064.6L1276.9,1064.5L1277,1064.3L1277.2,1064.1L1277.3,1063.9L1277.5,1063.7L1277.6,1063.5L1277.8,1063.3L1277.9,1063.1L1278.1,1062.9L1278.2,1062.6L1278.3,1062.4L1278.5,1062.1L1278.6,1061.8L1278.8,1061.5L1278.9,1061.2L1279.1,1060.9L1279.2,1060.6L1279.4,1060.3L1279.5,1059.9L1279.7,1059.6L1279.8,1059.2L1279.9,1058.8L1280.1,1058.4L1280.2,1058L1280.4,1057.6L1280.5,1057.2L1280.7,1056.7L1280.8,1056.2L1281,1055.8L1281.1,1055.3L1281.2,1054.8L1281.4,1054.2L1281.5,1053.7L1281.7,1053.1L1281.8,1052.5L1282,1052L1282.1,1051.3L1282.3,1050.7L1282.4,1050.1L1282.6,1049.4L1282.7,1048.7L1282.8,1048L1283,1047.3L1283.1,1046.6L1283.3,1045.8L1283.4,1045.1L1283.6,1044.3L1283.7,1043.5L1283.9,1042.6L1284,1041.8L1284.2,1040.9L1284.3,1040L1284.4,1039.1L1284.6,1038.2L1284.7,1037.3L1284.9,1036.3L1285,1035.3L1285.2,1034.3L1285.3,1033.3L1285.5,1032.3L1285.6,1031.2L1285.7,1030.1L1285.9,1029L1286,1027.9L1286.2,1026.8L1286.3,1025.6L1286.5,1024.4L1286.6,1023.2L1286.8,1022L1286.9,1020.8L1287.1,1019.5L1287.2,1018.3L1287.3,1017L1287.5,1015.7L1287.6,1014.4L1287.8,1013L1287.9,1011.7L1288.1,1010.3L1288.2,1008.9L1288.4,1007.5L1288.5,1006.1L1288.7,1004.7L1288.8,1003.3L1288.9,1001.8L1289.1,1000.4L1289.2,998.9L1289.4,997.4L1289.5,995.9L1289.7,994.4L1289.8,992.9L1290,991.4L1290.1,989.9L1290.2,988.4L1290.4,986.8L1290.5,985.3L1290.7,983.8L1290.8,982.2L1291,980.7L1291.1,979.1L1291.3,977.6L1291.4,976L1291.6,974.5L1291.7,973L1291.8,971.4L1292,969.9L1292.1,968.4L1292.3,966.9L1292.4,965.3L1292.6,963.8L1292.7,962.3L1292.9,960.9L1293,959.4L1293.1,957.9L1293.3,956.5L1293.4,955.1L1293.6,953.7L1293.7,952.3L1293.9,950.9L1294,949.5L1294.2,948.2L1294.3,946.9L1294.5,945.6L1294.6,944.3L1294.7,943.1L1294.9,941.9L1295,940.7L1295.2,939.5L1295.3,938.4L1295.5,937.2L1295.6,936.2L1295.8,935.1L1295.9,934.1L1296.1,933.1L1296.2,932.2L1296.3,931.3L1296.5,930.4L1296.6,929.5L1296.8,928.7L1296.9,927.9L1297.1,927.2L1297.2,926.5L1297.4,925.9L1297.5,925.2L1297.6,924.7L1297.8,924.1L1297.9,923.6L1298.1,923.2L1298.2,922.8L1298.4,922.4L1298.5,922.1L1298.7,921.8L1298.8,921.5L1299,921.3L1299.1,921.2L1299.2,921.1L1299.4,921L1299.5,921L1299.7,921L1299.8,921.1L1300,921.2L1300.1,921.4L1300.3,921.6L1300.4,921.9L1300.6,922.2L1300.7,922.6L1300.8,923L1301,923.5L1301.1,924L1301.3,924.6L1301.4,925.2L1301.6,925.9L1301.7,926.6L1301.9,927.3L1302,928.1L1302.1,929L1302.3,929.9L1302.4,930.8L1302.6,931.8L1302.7,932.8L1302.9,933.8L1303,934.9L1303.2,936L1303.3,937.2L1303.5,938.4L1303.6,939.6L1303.7,940.8L1303.9,942.1L1304,943.4L1304.2,944.8L1304.3,946.2L1304.5,947.6L1304.6,949L1304.8,950.4L1304.9,951.9L1305.1,953.4L1305.2,954.9L1305.3,956.4L1305.5,958L1305.6,959.6L1305.8,961.1L1305.9,962.7L1306.1,964.3L1306.2,966L1306.4,967.6L1306.5,969.2L1306.6,970.9L1306.8,972.5L1306.9,974.2L1307.1,975.8L1307.2,977.5L1307.4,979.1L1307.5,980.8L1307.7,982.4L1307.8,984.1L1308,985.8L1308.1,987.4L1308.2,989L1308.4,990.7L1308.5,992.3L1308.7,993.9L1308.8,995.5L1309,997.1L1309.1,998.7L1309.3,1000.3L1309.4,1001.9L1309.6,1003.4L1309.7,1005L1309.8,1006.5L1310,1008L1310.1,1009.5L1310.3,1011L1310.4,1012.4L1310.6,1013.9L1310.7,1015.3L1310.9,1016.7L1311,1018.1L1311.1,1019.4L1311.3,1020.8L1311.4,1022.1L1311.6,1023.4L1311.7,1024.7L1311.9,1025.9L1312,1027.2L1312.2,1028.4L1312.3,1029.6L1312.5,1030.8L1312.6,1031.9L1312.7,1033L1312.9,1034.1L1313,1035.2L1313.2,1036.3L1313.3,1037.3L1313.5,1038.3L1313.6,1039.3L1313.8,1040.3L1313.9,1041.2L1314.1,1042.2L1314.2,1043.1L1314.3,1043.9L1314.5,1044.8L1314.6,1045.6L1314.8,1046.4L1314.9,1047.2L1315.1,1048L1315.2,1048.8L1315.4,1049.5L1315.5,1050.2L1315.6,1050.9L1315.8,1051.6L1315.9,1052.2L1316.1,1052.8L1316.2,1053.4L1316.4,1054L1316.5,1054.6L1316.7,1055.2L1316.8,1055.7L1317,1056.2L1317.1,1056.7L1317.2,1057.2L1317.4,1057.7L1317.5,1058.2L1317.7,1058.6L1317.8,1059L1318,1059.5L1318.1,1059.8L1318.3,1060.2L1318.4,1060.6L1318.6,1061L1318.7,1061.3L1318.8,1061.6L1319,1062L1319.1,1062.3L1319.3,1062.6L1319.4,1062.8L1319.6,1063.1L1319.7,1063.4L1319.9,1063.6L1320,1063.9L1320.1,1064.1L1320.3,1064.3L1320.4,1064.5L1320.6,1064.7L1320.7,1064.9L1320.9,1065.1L1321,1065.3L1321.2,1065.5L1321.3,1065.6L1321.5,1065.8L1321.6,1065.9L1321.7,1066.1L1321.9,1066.2L1322,1066.3L1322.2,1066.5L1322.3,1066.6L1322.5,1066.7L1322.6,1066.8L1322.8,1066.9L1322.9,1067L1323.1,1067.1L1323.2,1067.2L1323.3,1067.3L1323.5,1067.4L1323.6,1067.4L1323.8,1067.5L1323.9,1067.6L1324.1,1067.6L1324.2,1067.7L1324.4,1067.8L1324.5,1067.8L1324.6,1067.9L1324.8,1067.9L1324.9,1068L1325.1,1068L1325.2,1068.1L1325.4,1068.1L1325.5,1068.1L1325.7,1068.2L1325.8,1068.2L1326,1068.2L1326.1,1068.3L1326.2,1068.3L1326.4,1068.3L1326.5,1068.4L1326.7,1068.4L1326.8,1068.4L1327,1068.4L1327.1,1068.4L1327.3,1068.5L1327.4,1068.5L1327.6,1068.5L1327.7,1068.5L1327.8,1068.5L1328,1068.5L1328.1,1068.6L1328.3,1068.6L1328.4,1068.6L1328.6,1068.6L1328.7,1068.6L1328.9,1068.6L1329,1068.6L1329.1,1068.6L1329.3,1068.6L1329.4,1068.6L1329.6,1068.7L1329.7,1068.7L1329.9,1068.7L1330,1068.7L1330.2,1068.7L1330.3,1068.7L1330.5,1068.7L1330.6,1068.7L1330.7,1068.7L1330.9,1068.7L1331,1068.7L1331.2,1068.7L1331.3,1068.7L1331.5,1068.7L1331.6,1068.7L1331.8,1068.7L1331.9,1068.7L1332,1068.7L1332.2,1068.7L1332.3,1068.7L1332.5,1068.7L1332.6,1068.7L1332.8,1068.7L1332.9,1068.7L1333.1,1068.7L1333.2,1068.7L1333.4,1068.7L1333.5,1068.7L1333.6,1068.7L1333.8,1068.7L1333.9,1068.7L1334.1,1068.7L1334.2,1068.7L1334.4,1068.7L1334.5,1068.7L1334.7,1068.7L1334.8,1068.7L1335,1068.7L1335.1,1068.7L1335.2,1068.7L1335.4,1068.7L1335.5,1068.7L1335.7,1068.7L1335.8,1068.7L1336,1068.7L1336.1,1068.7L1336.3,1068.7L1336.4,1068.7L1336.5,1068.7L1336.7,1068.7L1336.8,1068.7L1337,1068.7L1337.1,1068.7L1337.3,1068.7L1337.4,1068.7L1337.6,1068.7L1337.7,1068.7L1337.9,1068.7L1338,1068.7L1338.1,1068.7L1338.3,1068.7L1338.4,1068.7L1338.6,1068.7L1338.7,1068.7L1338.9,1068.7L1339,1068.7L1339.2,1068.7L1339.3,1068.7L1339.5,1068.7L1339.6,1068.7L1339.7,1068.7L1339.9,1068.7L1340,1068.7L1340.2,1068.7L1340.3,1068.7L1340.5,1068.7L1340.6,1068.7L1340.8,1068.7L1340.9,1068.7L1341,1068.7L1341.2,1068.7L1341.3,1068.7L1341.5,1068.7L1341.6,1068.7L1341.8,1068.7L1341.9,1068.7L1342.1,1068.7L1342.2,1068.7L1342.4,1068.7L1342.5,1068.7L1342.6,1068.7L1342.8,1068.7L1342.9,1068.7L1343.1,1068.7L1343.2,1068.7L1343.4,1068.7L1343.5,1068.7L1343.7,1068.7L1343.8,1068.7L1344,1068.7L1344.1,1068.7L1344.2,1068.7L1344.4,1068.7L1344.5,1068.7L1344.7,1068.7L1344.8,1068.7L1345,1068.7L1345.1,1068.7L1345.3,1068.7L1345.4,1068.7L1345.5,1068.7L1345.7,1068.7L1345.8,1068.7L1346,1068.7L1346.1,1068.7L1346.3,1068.7L1346.4,1068.7L1346.6,1068.7L1346.7,1068.7L1346.9,1068.7L1347,1068.7L1347.1,1068.7L1347.3,1068.7L1347.4,1068.7L1347.6,1068.7L1347.7,1068.7L1347.9,1068.7L1348,1068.7L1348.2,1068.7L1348.3,1068.7L1348.5,1068.7L1348.6,1068.7L1348.7,1068.7L1348.9,1068.7L1349,1068.7L1349.2,1068.7L1349.3,1068.7L1349.5,1068.7L1349.6,1068.7L1349.8,1068.7L1349.9,1068.7L1350,1068.7L1350.2,1068.7L1350.3,1068.7L1350.5,1068.7L1350.6,1068.7L1350.8,1068.7L1350.9,1068.7L1351.1,1068.7L1351.2,1068.7L1351.4,1068.7L1351.5,1068.7L1351.6,1068.7L1351.8,1068.7L1351.9,1068.7L1352.1,1068.7L1352.2,1068.7L1352.4,1068.7L1352.5,1068.7L1352.7,1068.7L1352.8,1068.7L1353,1068.7L1353.1,1068.7L1353.2,1068.7L1353.4,1068.7L1353.5,1068.7L1353.7,1068.7L1353.8,1068.7L1354,1068.7L1354.1,1068.7L1354.3,1068.7L1354.4,1068.7L1354.5,1068.7L1354.7,1068.7L1354.8,1068.7L1355,1068.7L1355.1,1068.7L1355.3,1068.7L1355.4,1068.7L1355.6,1068.7L1355.7,1068.7L1355.9,1068.7L1356,1068.7L1356.1,1068.7L1356.3,1068.7L1356.4,1068.7L1356.6,1068.7L1356.7,1068.7L1356.9,1068.7L1357,1068.7L1357.2,1068.7L1357.3,1068.7L1357.5,1068.7L1357.6,1068.7L1357.7,1068.7L1357.9,1068.7L1358,1068.7L1358.2,1068.7L1358.3,1068.7L1358.5,1068.7L1358.6,1068.7L1358.8,1068.7L1358.9,1068.7L1359,1068.7L1359.2,1068.7L1359.3,1068.7L1359.5,1068.7L1359.6,1068.7L1359.8,1068.7L1359.9,1068.7L1360.1,1068.7L1360.2,1068.7L1360.4,1068.7L1360.5,1068.7L1360.6,1068.7L1360.8,1068.7L1360.9,1068.7L1361.1,1068.7L1361.2,1068.7L1361.4,1068.7L1361.5,1068.7L1361.7,1068.7L1361.8,1068.7L1362,1068.7L1362.1,1068.7L1362.2,1068.7L1362.4,1068.7L1362.5,1068.7L1362.7,1068.7L1362.8,1068.7L1363,1068.7L1363.1,1068.7L1363.3,1068.7L1363.4,1068.7L1363.5,1068.7L1363.7,1068.7L1363.8,1068.7L1364,1068.7L1364.1,1068.7L1364.3,1068.7L1364.4,1068.7L1364.6,1068.7L1364.7,1068.7L1364.9,1068.7L1365,1068.7L1365.1,1068.7L1365.3,1068.7L1365.4,1068.7L1365.6,1068.7L1365.7,1068.7L1365.9,1068.7L1366,1068.7L1366.2,1068.7L1366.3,1068.7L1366.5,1068.7L1366.6,1068.7L1366.7,1068.7L1366.9,1068.7L1367,1068.7L1367.2,1068.7L1367.3,1068.7L1367.5,1068.7L1367.6,1068.7L1367.8,1068.7L1367.9,1068.7L1368,1068.7L1368.2,1068.7L1368.3,1068.7L1368.5,1068.7L1368.6,1068.7L1368.8,1068.7L1368.9,1068.7L1369.1,1068.7L1369.2,1068.7L1369.4,1068.7L1369.5,1068.7L1369.6,1068.7L1369.8,1068.7L1369.9,1068.7L1370.1,1068.7L1370.2,1068.7L1370.4,1068.7L1370.5,1068.7L1370.7,1068.7L1370.8,1068.7L1371,1068.7L1371.1,1068.7L1371.2,1068.7L1371.4,1068.7L1371.5,1068.7L1371.7,1068.7L1371.8,1068.7L1372,1068.7L1372.1,1068.7L1372.3,1068.7L1372.4,1068.7L1372.5,1068.7L1372.7,1068.7L1372.8,1068.7L1373,1068.7L1373.1,1068.7L1373.3,1068.7L1373.4,1068.7L1373.6,1068.7L1373.7,1068.7L1373.9,1068.7L1374,1068.7L1374.1,1068.7L1374.3,1068.7L1374.4,1068.7L1374.6,1068.7L1374.7,1068.7L1374.9,1068.7L1375,1068.7L1375.2,1068.7L1375.3,1068.7L1375.4,1068.7L1375.6,1068.7L1375.7,1068.7L1375.9,1068.7L1376,1068.7L1376.2,1068.7L1376.3,1068.7L1376.5,1068.7L1376.6,1068.7L1376.8,1068.7L1376.9,1068.7L1377,1068.7L1377.2,1068.7L1377.3,1068.7L1377.5,1068.7L1377.6,1068.7L1377.8,1068.7L1377.9,1068.7L1378.1,1068.7L1378.2,1068.7L1378.4,1068.7L1378.5,1068.7L1378.6,1068.7L1378.8,1068.7L1378.9,1068.7L1379.1,1068.7L1379.2,1068.7L1379.4,1068.7L1379.5,1068.7L1379.7,1068.7L1379.8,1068.7L1379.9,1068.7L1380.1,1068.7L1380.2,1068.7L1380.4,1068.7L1380.5,1068.7L1380.7,1068.7L1380.8,1068.7L1381,1068.7L1381.1,1068.7L1381.3,1068.7L1381.4,1068.7L1381.5,1068.7L1381.7,1068.7L1381.8,1068.7L1382,1068.7L1382.1,1068.7L1382.3,1068.7L1382.4,1068.7L1382.6,1068.7L1382.7,1068.7L1382.9,1068.7L1383,1068.7L1383.1,1068.7L1383.3,1068.7L1383.4,1068.7L1383.6,1068.7L1383.7,1068.7L1383.9,1068.7L1384,1068.7L1384.2,1068.7L1384.3,1068.7L1384.4,1068.7L1384.6,1068.7L1384.7,1068.7L1384.9,1068.7L1385,1068.7L1385.2,1068.7L1385.3,1068.7L1385.5,1068.7L1385.6,1068.7L1385.8,1068.7L1385.9,1068.7L1386,1068.7L1386.2,1068.7L1386.3,1068.7L1386.5,1068.7L1386.6,1068.7L1386.8,1068.7L1386.9,1068.7L1387.1,1068.7L1387.2,1068.6L1387.4,1068.6L1387.5,1068.6L1387.6,1068.6L1387.8,1068.6L1387.9,1068.6L1388.1,1068.6L1388.2,1068.6L1388.4,1068.6L1388.5,1068.6L1388.7,1068.6L1388.8,1068.6L1388.9,1068.6L1389.1,1068.6L1389.2,1068.5L1389.4,1068.5L1389.5,1068.5L1389.7,1068.5L1389.8,1068.5L1390,1068.5L1390.1,1068.5L1390.3,1068.5L1390.4,1068.5L1390.5,1068.4L1390.7,1068.4L1390.8,1068.4L1391,1068.4L1391.1,1068.4L1391.3,1068.4L1391.4,1068.3L1391.6,1068.3L1391.7,1068.3L1391.9,1068.3L1392,1068.3L1392.1,1068.2L1392.3,1068.2L1392.4,1068.2L1392.6,1068.2L1392.7,1068.1L1392.9,1068.1L1393,1068.1L1393.2,1068.1L1393.3,1068L1393.4,1068L1393.6,1068L1393.7,1067.9L1393.9,1067.9L1394,1067.8L1394.2,1067.8L1394.3,1067.8L1394.5,1067.7L1394.6,1067.7L1394.8,1067.6L1394.9,1067.6L1395,1067.5L1395.2,1067.5L1395.3,1067.4L1395.5,1067.4L1395.6,1067.3L1395.8,1067.3L1395.9,1067.2L1396.1,1067.1L1396.2,1067.1L1396.4,1067L1396.5,1066.9L1396.6,1066.9L1396.8,1066.8L1396.9,1066.7L1397.1,1066.6L1397.2,1066.6L1397.4,1066.5L1397.5,1066.4L1397.7,1066.3L1397.8,1066.2L1397.9,1066.1L1398.1,1066L1398.2,1065.9L1398.4,1065.8L1398.5,1065.7L1398.7,1065.6L1398.8,1065.4L1399,1065.3L1399.1,1065.2L1399.3,1065.1L1399.4,1064.9L1399.5,1064.8L1399.7,1064.6L1399.8,1064.5L1400,1064.3L1400.1,1064.2L1400.3,1064L1400.4,1063.8L1400.6,1063.7L1400.7,1063.5L1400.9,1063.3L1401,1063.1L1401.1,1062.9L1401.3,1062.7L1401.4,1062.5L1401.6,1062.3L1401.7,1062.1L1401.9,1061.9L1402,1061.6L1402.2,1061.4L1402.3,1061.1L1402.4,1060.9L1402.6,1060.6L1402.7,1060.4L1402.9,1060.1L1403,1059.8L1403.2,1059.5L1403.3,1059.2L1403.5,1058.9L1403.6,1058.6L1403.8,1058.3L1403.9,1058L1404,1057.6L1404.2,1057.3L1404.3,1056.9L1404.5,1056.6L1404.6,1056.2L1404.8,1055.8L1404.9,1055.4L1405.1,1055L1405.2,1054.6L1405.4,1054.2L1405.5,1053.7L1405.6,1053.3L1405.8,1052.8L1405.9,1052.4L1406.1,1051.9L1406.2,1051.4L1406.4,1050.9L1406.5,1050.4L1406.7,1049.9L1406.8,1049.4L1406.9,1048.8L1407.1,1048.3L1407.2,1047.7L1407.4,1047.1L1407.5,1046.6L1407.7,1046L1407.8,1045.3L1408,1044.7L1408.1,1044.1L1408.3,1043.4L1408.4,1042.8L1408.5,1042.1L1408.7,1041.4L1408.8,1040.7L1409,1040L1409.1,1039.2L1409.3,1038.5L1409.4,1037.7L1409.6,1037L1409.7,1036.2L1409.9,1035.4L1410,1034.6L1410.1,1033.7L1410.3,1032.9L1410.4,1032.1L1410.6,1031.2L1410.7,1030.3L1410.9,1029.4L1411,1028.5L1411.2,1027.6L1411.3,1026.6L1411.4,1025.7L1411.6,1024.7L1411.7,1023.7L1411.9,1022.7L1412,1021.7L1412.2,1020.7L1412.3,1019.6L1412.5,1018.6L1412.6,1017.5L1412.8,1016.4L1412.9,1015.3L1413,1014.2L1413.2,1013.1L1413.3,1011.9L1413.5,1010.8L1413.6,1009.6L1413.8,1008.4L1413.9,1007.2L1414.1,1006L1414.2,1004.8L1414.4,1003.6L1414.5,1002.3L1414.6,1001L1414.8,999.8L1414.9,998.5L1415.1,997.2L1415.2,995.9L1415.4,994.5L1415.5,993.2L1415.7,991.9L1415.8,990.5L1415.9,989.1L1416.1,987.8L1416.2,986.4L1416.4,985L1416.5,983.6L1416.7,982.1L1416.8,980.7L1417,979.3L1417.1,977.8L1417.3,976.4L1417.4,974.9L1417.5,973.4L1417.7,972L1417.8,970.5L1418,969L1418.1,967.5L1418.3,966L1418.4,964.5L1418.6,963L1418.7,961.5L1418.8,960L1419,958.4L1419.1,956.9L1419.3,955.4L1419.4,953.9L1419.6,952.3L1419.7,950.8L1419.9,949.3L1420,947.7L1420.2,946.2L1420.3,944.7L1420.4,943.1L1420.6,941.6L1420.7,940.1L1420.9,938.6L1421,937L1421.2,935.5L1421.3,934L1421.5,932.5L1421.6,931L1421.8,929.5L1421.9,928.1L1422,926.6L1422.2,925.1L1422.3,923.6L1422.5,922.2L1422.6,920.8L1422.8,919.3L1422.9,917.9L1423.1,916.5L1423.2,915.1L1423.3,913.7L1423.5,912.4L1423.6,911L1423.8,909.7L1423.9,908.3L1424.1,907L1424.2,905.7L1424.4,904.4L1424.5,903.2L1424.7,901.9L1424.8,900.7L1424.9,899.5L1425.1,898.3L1425.2,897.2L1425.4,896L1425.5,894.9L1425.7,893.8L1425.8,892.7L1426,891.6L1426.1,890.6L1426.3,889.6L1426.4,888.6L1426.5,887.6L1426.7,886.7L1426.8,885.8L1427,884.9L1427.1,884L1427.3,883.2L1427.4,882.4L1427.6,881.6L1427.7,880.9L1427.8,880.1L1428,879.4L1428.1,878.8L1428.3,878.1L1428.4,877.5L1428.6,876.9L1428.7,876.4L1428.9,875.8L1429,875.4L1429.2,874.9L1429.3,874.5L1429.4,874.1L1429.6,873.7L1429.7,873.4L1429.9,873L1430,872.8L1430.2,872.5L1430.3,872.3L1430.5,872.1L1430.6,872L1430.8,871.9L1430.9,871.8L1431,871.8L1431.2,871.7L1431.3,871.8L1431.5,871.8L1431.6,871.9L1431.8,872L1431.9,872.1L1432.1,872.3L1432.2,872.5L1432.3,872.8L1432.5,873L1432.6,873.4L1432.8,873.7L1432.9,874.1L1433.1,874.5L1433.2,874.9L1433.4,875.4L1433.5,875.8L1433.7,876.4L1433.8,876.9L1433.9,877.5L1434.1,878.1L1434.2,878.8L1434.4,879.4L1434.5,880.1L1434.7,880.9L1434.8,881.6L1435,882.4L1435.1,883.2L1435.3,884L1435.4,884.9L1435.5,885.8L1435.7,886.7L1435.8,887.6L1436,888.6L1436.1,889.6L1436.3,890.6L1436.4,891.6L1436.6,892.7L1436.7,893.8L1436.8,894.9L1437,896L1437.1,897.2L1437.3,898.3L1437.4,899.5L1437.6,900.7L1437.7,901.9L1437.9,903.2L1438,904.4L1438.2,905.7L1438.3,907L1438.4,908.3L1438.6,909.7L1438.7,911L1438.9,912.4L1439,913.7L1439.2,915.1L1439.3,916.5L1439.5,917.9L1439.6,919.3L1439.8,920.8L1439.9,922.2L1440,923.6L1440.2,925.1L1440.3,926.6L1440.5,928.1L1440.6,929.5L1440.8,931L1440.9,932.5L1441.1,934L1441.2,935.5L1441.3,937L1441.5,938.6L1441.6,940.1L1441.8,941.6L1441.9,943.1L1442.1,944.7L1442.2,946.2L1442.4,947.7L1442.5,949.3L1442.7,950.8L1442.8,952.3L1442.9,953.9L1443.1,955.4L1443.2,956.9L1443.4,958.4L1443.5,960L1443.7,961.5L1443.8,963L1444,964.5L1444.1,966L1444.3,967.5L1444.4,969L1444.5,970.5L1444.7,972L1444.8,973.4L1445,974.9L1445.1,976.4L1445.3,977.8L1445.4,979.3L1445.6,980.7L1445.7,982.1L1445.8,983.6L1446,985L1446.1,986.4L1446.3,987.8L1446.4,989.1L1446.6,990.5L1446.7,991.9L1446.9,993.2L1447,994.5L1447.2,995.9L1447.3,997.2L1447.4,998.5L1447.6,999.8L1447.7,1001L1447.9,1002.3L1448,1003.6L1448.2,1004.8L1448.3,1006L1448.5,1007.2L1448.6,1008.4L1448.8,1009.6L1448.9,1010.8L1449,1011.9L1449.2,1013.1L1449.3,1014.2L1449.5,1015.3L1449.6,1016.4L1449.8,1017.5L1449.9,1018.6L1450.1,1019.6L1450.2,1020.7L1450.3,1021.7L1450.5,1022.7L1450.6,1023.7L1450.8,1024.7L1450.9,1025.7L1451.1,1026.6L1451.2,1027.6L1451.4,1028.5L1451.5,1029.4L1451.7,1030.3L1451.8,1031.2L1451.9,1032.1L1452.1,1032.9L1452.2,1033.7L1452.4,1034.6L1452.5,1035.4L1452.7,1036.2L1452.8,1037L1453,1037.7L1453.1,1038.5L1453.3,1039.2L1453.4,1040L1453.5,1040.7L1453.7,1041.4L1453.8,1042.1L1454,1042.8L1454.1,1043.4L1454.3,1044.1L1454.4,1044.7L1454.6,1045.3L1454.7,1046L1454.8,1046.6L1455,1047.1L1455.1,1047.7L1455.3,1048.3L1455.4,1048.8L1455.6,1049.4L1455.7,1049.9L1455.9,1050.4L1456,1050.9L1456.2,1051.4L1456.3,1051.9L1456.4,1052.4L1456.6,1052.8L1456.7,1053.3L1456.9,1053.7L1457,1054.2L1457.2,1054.6L1457.3,1055L1457.5,1055.4L1457.6,1055.8L1457.7,1056.2L1457.9,1056.6L1458,1056.9L1458.2,1057.3L1458.3,1057.6L1458.5,1058L1458.6,1058.3L1458.8,1058.6L1458.9,1058.9L1459.1,1059.2L1459.2,1059.5L1459.3,1059.8L1459.5,1060.1L1459.6,1060.4L1459.8,1060.6L1459.9,1060.9L1460.1,1061.1L1460.2,1061.4L1460.4,1061.6L1460.5,1061.9L1460.7,1062.1L1460.8,1062.3L1460.9,1062.5L1461.1,1062.7L1461.2,1062.9L1461.4,1063.1L1461.5,1063.3L1461.7,1063.5L1461.8,1063.7L1462,1063.8L1462.1,1064L1462.2,1064.2L1462.4,1064.3L1462.5,1064.5L1462.7,1064.6L1462.8,1064.7L1463,1064.7L1463.1,1064.8L1463.3,1064.8L1463.4,1064.8L1463.6,1064.8L1463.7,1064.8L1463.8,1064.9L1464,1064.9L1464.1,1064.9L1464.3,1064.9L1464.4,1064.9L1464.6,1064.9L1464.7,1064.9L1464.9,1064.8L1465,1064.8L1465.2,1064.8L1465.3,1064.8L1465.4,1064.8L1465.6,1064.7L1465.7,1064.7L1465.9,1064.7L1466,1064.7L1466.2,1064.6L1466.3,1064.6L1466.5,1064.5L1466.6,1064.5L1466.7,1064.5L1466.9,1064.4L1467,1064.4L1467.2,1064.3L1467.3,1064.3L1467.5,1064.2L1467.6,1064.1L1467.8,1064.1L1467.9,1064L1468.1,1064L1468.2,1063.9L1468.3,1063.8L1468.5,1063.8L1468.6,1063.7L1468.8,1063.6L1468.9,1063.6L1469.1,1063.5L1469.2,1063.4L1469.4,1063.4L1469.5,1063.3L1469.7,1063.2L1469.8,1063.1L1469.9,1063.1L1470.1,1063L1470.2,1062.9L1470.4,1062.8L1470.5,1062.7L1470.7,1062.7L1470.8,1062.6L1471,1062.5L1471.1,1062.4L1471.2,1062.3L1471.4,1062.2L1471.5,1062.1L1471.7,1062.1L1471.8,1062L1472,1061.9L1472.1,1061.8L1472.3,1061.7L1472.4,1061.6L1472.6,1061.5L1472.7,1061.4L1472.8,1061.3L1473,1061.2L1473.1,1061.2L1473.3,1061.1L1473.4,1061L1473.6,1060.9L1473.7,1060.8L1473.9,1060.7L1474,1060.6L1474.2,1060.5L1474.3,1060.4L1474.4,1060.3L1474.6,1060.2L1474.7,1060.1L1474.9,1060L1475,1059.9L1475.2,1059.8L1475.3,1059.7L1475.5,1059.6L1475.6,1059.5L1475.7,1059.4L1475.9,1059.3L1476,1059.2L1476.2,1059.1L1476.3,1059L1476.5,1058.9L1476.6,1058.8L1476.8,1058.7L1476.9,1058.6L1477.1,1058.5L1477.2,1058.4L1477.3,1058.3L1477.5,1058.2L1477.6,1058.1L1477.8,1058L1477.9,1057.9" fill="none" stroke="#0072b2" stroke-width="3.6" stroke-linejoin="round"/><path d="M919.8,882.8L928.8,891.8L919.8,900.8L910.8,891.8ZM922.7,1046.9L931.7,1055.9L922.7,1064.9L913.7,1055.9ZM925.6,1059.8L934.6,1068.8L925.6,1077.8L916.6,1068.8ZM928.5,1059.8L937.5,1068.8L928.5,1077.8L919.5,1068.8ZM931.4,1059.8L940.4,1068.8L931.4,1077.8L922.4,1068.8ZM934.3,1059.8L943.3,1068.8L934.3,1077.8L925.3,1068.8ZM937.2,1059.8L946.2,1068.8L937.2,1077.8L928.2,1068.8ZM940.1,1059.8L949.1,1068.8L940.1,1077.8L931.1,1068.8ZM943,1059.8L952,1068.8L943,1077.8L934,1068.8ZM946,1059.8L955,1068.8L946,1077.8L937,1068.8ZM948.9,1059.8L957.9,1068.8L948.9,1077.8L939.9,1068.8ZM951.8,1059.8L960.8,1068.8L951.8,1077.8L942.8,1068.8ZM954.7,1059.8L963.7,1068.8L954.7,1077.8L945.7,1068.8ZM957.6,1059.8L966.6,1068.8L957.6,1077.8L948.6,1068.8ZM960.5,1059.8L969.5,1068.8L960.5,1077.8L951.5,1068.8ZM963.4,1059.8L972.4,1068.8L963.4,1077.8L954.4,1068.8ZM966.3,1059.8L975.3,1068.8L966.3,1077.8L957.3,1068.8ZM969.2,1059.8L978.2,1068.8L969.2,1077.8L960.2,1068.8ZM972.1,1059.8L981.1,1068.8L972.1,1077.8L963.1,1068.8ZM975,1059.8L984,1068.8L975,1077.8L966,1068.8ZM977.9,1059.8L986.9,1068.8L977.9,1077.8L968.9,1068.8ZM980.8,1059.8L989.8,1068.8L980.8,1077.8L971.8,1068.8ZM983.7,1059.7L992.7,1068.7L983.7,1077.7L974.7,1068.7ZM986.6,1059.7L995.6,1068.7L986.6,1077.7L977.6,1068.7ZM989.5,1059.7L998.5,1068.7L989.5,1077.7L980.5,1068.7ZM992.4,1059.7L1001.4,1068.7L992.4,1077.7L983.4,1068.7ZM995.3,1059.7L1004.3,1068.7L995.3,1077.7L986.3,1068.7ZM998.2,1059.7L1007.2,1068.7L998.2,1077.7L989.2,1068.7ZM1001.1,1059.7L1010.1,1068.7L1001.1,1077.7L992.1,1068.7ZM1004,1059.7L1013,1068.7L1004,1077.7L995,1068.7ZM1006.9,1059.7L1015.9,1068.7L1006.9,1077.7L997.9,1068.7ZM1009.8,1059.7L1018.8,1068.7L1009.8,1077.7L1000.8,1068.7ZM1012.7,1059.7L1021.7,1068.7L1012.7,1077.7L1003.7,1068.7ZM1015.6,1059.7L1024.6,1068.7L1015.6,1077.7L1006.6,1068.7ZM1018.5,1059.7L1027.5,1068.7L1018.5,1077.7L1009.5,1068.7ZM1021.4,1059.7L1030.4,1068.7L1021.4,1077.7L1012.4,1068.7ZM1024.3,1059.7L1033.3,1068.7L1024.3,1077.7L1015.3,1068.7ZM1027.2,1059.7L1036.2,1068.7L1027.2,1077.7L1018.2,1068.7ZM1030.1,1059.7L1039.1,1068.7L1030.1,1077.7L1021.1,1068.7ZM1033,1059.7L1042,1068.7L1033,1077.7L1024,1068.7ZM1035.9,1059.7L1044.9,1068.7L1035.9,1077.7L1026.9,1068.7ZM1038.8,1059.7L1047.8,1068.7L1038.8,1077.7L1029.8,1068.7ZM1041.8,1059.7L1050.8,1068.7L1041.8,1077.7L1032.8,1068.7ZM1044.7,1059.6L1053.7,1068.6L1044.7,1077.6L1035.7,1068.6ZM1047.6,1059.4L1056.6,1068.4L1047.6,1077.4L1038.6,1068.4ZM1050.5,1058.9L1059.5,1067.9L1050.5,1076.9L1041.5,1067.9ZM1053.4,1058.1L1062.4,1067.1L1053.4,1076.1L1044.4,1067.1ZM1056.3,1056.6L1065.3,1065.6L1056.3,1074.6L1047.3,1065.6ZM1059.2,1053.9L1068.2,1062.9L1059.2,1071.9L1050.2,1062.9ZM1062.1,1049.4L1071.1,1058.4L1062.1,1067.4L1053.1,1058.4ZM1065,1042.3L1074,1051.3L1065,1060.3L1056,1051.3ZM1067.9,1031.8L1076.9,1040.8L1067.9,1049.8L1058.9,1040.8ZM1070.8,1016.9L1079.8,1025.9L1070.8,1034.9L1061.8,1025.9ZM1073.7,997.3L1082.7,1006.3L1073.7,1015.3L1064.7,1006.3ZM1076.6,972.8L1085.6,981.8L1076.6,990.8L1067.6,981.8ZM1079.5,944.3L1088.5,953.3L1079.5,962.3L1070.5,953.3ZM1082.4,913.5L1091.4,922.5L1082.4,931.5L1073.4,922.5ZM1085.3,883.1L1094.3,892.1L1085.3,901.1L1076.3,892.1ZM1088.2,856.2L1097.2,865.2L1088.2,874.2L1079.2,865.2ZM1091.1,836L1100.1,845L1091.1,854L1082.1,845ZM1094,825.1L1103,834.1L1094,843.1L1085,834.1ZM1096.9,824.7L1105.9,833.7L1096.9,842.7L1087.9,833.7ZM1099.8,832.4L1108.8,841.4L1099.8,850.4L1090.8,841.4ZM1102.7,846.9L1111.7,855.9L1102.7,864.9L1093.7,855.9ZM1105.6,867L1114.6,876L1105.6,885L1096.6,876ZM1108.5,890.9L1117.5,899.9L1108.5,908.9L1099.5,899.9ZM1111.4,916.6L1120.4,925.6L1111.4,934.6L1102.4,925.6ZM1114.3,942.4L1123.3,951.4L1114.3,960.4L1105.3,951.4ZM1117.2,966.6L1126.2,975.6L1117.2,984.6L1108.2,975.6ZM1120.1,988.3L1129.1,997.3L1120.1,1006.3L1111.1,997.3ZM1123,1006.7L1132,1015.7L1123,1024.7L1114,1015.7ZM1125.9,1021.6L1134.9,1030.6L1125.9,1039.6L1116.9,1030.6ZM1128.8,1033.2L1137.8,1042.2L1128.8,1051.2L1119.8,1042.2ZM1131.7,1041.9L1140.7,1050.9L1131.7,1059.9L1122.7,1050.9ZM1134.6,1048.1L1143.6,1057.1L1134.6,1066.1L1125.6,1057.1ZM1137.5,1052.4L1146.5,1061.4L1137.5,1070.4L1128.5,1061.4ZM1140.5,1055.3L1149.5,1064.3L1140.5,1073.3L1131.5,1064.3ZM1143.4,1057.1L1152.4,1066.1L1143.4,1075.1L1134.4,1066.1ZM1146.3,1058.3L1155.3,1067.3L1146.3,1076.3L1137.3,1067.3ZM1149.2,1058.9L1158.2,1067.9L1149.2,1076.9L1140.2,1067.9ZM1152.1,1059.3L1161.1,1068.3L1152.1,1077.3L1143.1,1068.3ZM1155,1059.5L1164,1068.5L1155,1077.5L1146,1068.5ZM1157.9,1059.6L1166.9,1068.6L1157.9,1077.6L1148.9,1068.6ZM1160.8,1059.7L1169.8,1068.7L1160.8,1077.7L1151.8,1068.7ZM1163.7,1059.7L1172.7,1068.7L1163.7,1077.7L1154.7,1068.7ZM1166.6,1059.7L1175.6,1068.7L1166.6,1077.7L1157.6,1068.7ZM1169.5,1059.7L1178.5,1068.7L1169.5,1077.7L1160.5,1068.7ZM1172.4,1059.7L1181.4,1068.7L1172.4,1077.7L1163.4,1068.7ZM1175.3,1059.7L1184.3,1068.7L1175.3,1077.7L1166.3,1068.7ZM1178.2,1059.7L1187.2,1068.7L1178.2,1077.7L1169.2,1068.7ZM1181.1,1059.7L1190.1,1068.7L1181.1,1077.7L1172.1,1068.7ZM1184,1059.6L1193,1068.6L1184,1077.6L1175,1068.6ZM1186.9,1059.5L1195.9,1068.5L1186.9,1077.5L1177.9,1068.5ZM1189.8,1059.2L1198.8,1068.2L1189.8,1077.2L1180.8,1068.2ZM1192.7,1058.8L1201.7,1067.8L1192.7,1076.8L1183.7,1067.8ZM1195.6,1058.1L1204.6,1067.1L1195.6,1076.1L1186.6,1067.1ZM1198.5,1057.1L1207.5,1066.1L1198.5,1075.1L1189.5,1066.1ZM1201.4,1055.5L1210.4,1064.5L1201.4,1073.5L1192.4,1064.5ZM1204.3,1053.2L1213.3,1062.2L1204.3,1071.2L1195.3,1062.2ZM1207.2,1050L1216.2,1059L1207.2,1068L1198.2,1059ZM1210.1,1045.5L1219.1,1054.5L1210.1,1063.5L1201.1,1054.5ZM1213,1039.8L1222,1048.8L1213,1057.8L1204,1048.8ZM1215.9,1032.5L1224.9,1041.5L1215.9,1050.5L1206.9,1041.5ZM1218.8,1023.7L1227.8,1032.7L1218.8,1041.7L1209.8,1032.7ZM1221.7,1013.6L1230.7,1022.6L1221.7,1031.6L1212.7,1022.6ZM1224.6,1002.4L1233.6,1011.4L1224.6,1020.4L1215.6,1011.4ZM1227.5,990.8L1236.5,999.8L1227.5,1008.8L1218.5,999.8ZM1230.4,979.3L1239.4,988.3L1230.4,997.3L1221.4,988.3ZM1233.3,968.8L1242.3,977.8L1233.3,986.8L1224.3,977.8ZM1236.3,960L1245.3,969L1236.3,978L1227.3,969ZM1239.2,953.6L1248.2,962.6L1239.2,971.6L1230.2,962.6ZM1242.1,950.2L1251.1,959.2L1242.1,968.2L1233.1,959.2ZM1245,949.8L1254,958.8L1245,967.8L1236,958.8ZM1247.9,951.6L1256.9,960.6L1247.9,969.6L1238.9,960.6ZM1250.8,955.2L1259.8,964.2L1250.8,973.2L1241.8,964.2ZM1253.7,960.3L1262.7,969.3L1253.7,978.3L1244.7,969.3ZM1256.6,966.4L1265.6,975.4L1256.6,984.4L1247.6,975.4ZM1259.5,972.8L1268.5,981.8L1259.5,990.8L1250.5,981.8ZM1262.4,979L1271.4,988L1262.4,997L1253.4,988ZM1265.3,984.5L1274.3,993.5L1265.3,1002.5L1256.3,993.5ZM1268.2,988.8L1277.2,997.8L1268.2,1006.8L1259.2,997.8ZM1271.1,991.5L1280.1,1000.5L1271.1,1009.5L1262.1,1000.5ZM1274,992.6L1283,1001.6L1274,1010.6L1265,1001.6ZM1276.9,992.1L1285.9,1001.1L1276.9,1010.1L1267.9,1001.1ZM1279.8,990.1L1288.8,999.1L1279.8,1008.1L1270.8,999.1ZM1282.7,986.9L1291.7,995.9L1282.7,1004.9L1273.7,995.9ZM1285.6,982.9L1294.6,991.9L1285.6,1000.9L1276.6,991.9ZM1288.5,978.8L1297.5,987.8L1288.5,996.8L1279.5,987.8ZM1291.4,974.9L1300.4,983.9L1291.4,992.9L1282.4,983.9ZM1294.3,971.8L1303.3,980.8L1294.3,989.8L1285.3,980.8ZM1297.2,969.8L1306.2,978.8L1297.2,987.8L1288.2,978.8ZM1300.1,969.4L1309.1,978.4L1300.1,987.4L1291.1,978.4ZM1303,970.9L1312,979.9L1303,988.9L1294,979.9ZM1305.9,974.8L1314.9,983.8L1305.9,992.8L1296.9,983.8ZM1308.8,980.9L1317.8,989.9L1308.8,998.9L1299.8,989.9ZM1311.7,988.6L1320.7,997.6L1311.7,1006.6L1302.7,997.6ZM1314.6,997.4L1323.6,1006.4L1314.6,1015.4L1305.6,1006.4ZM1317.5,1006.8L1326.5,1015.8L1317.5,1024.8L1308.5,1015.8ZM1320.4,1016L1329.4,1025L1320.4,1034L1311.4,1025ZM1323.3,1024.8L1332.3,1033.8L1323.3,1042.8L1314.3,1033.8ZM1326.2,1032.6L1335.2,1041.6L1326.2,1050.6L1317.2,1041.6ZM1329.1,1039.3L1338.1,1048.3L1329.1,1057.3L1320.1,1048.3ZM1332,1044.8L1341,1053.8L1332,1062.8L1323,1053.8ZM1335,1049.1L1344,1058.1L1335,1067.1L1326,1058.1ZM1337.9,1052.4L1346.9,1061.4L1337.9,1070.4L1328.9,1061.4ZM1340.8,1054.9L1349.8,1063.9L1340.8,1072.9L1331.8,1063.9ZM1343.7,1056.6L1352.7,1065.6L1343.7,1074.6L1334.7,1065.6ZM1346.6,1057.7L1355.6,1066.7L1346.6,1075.7L1337.6,1066.7ZM1349.5,1058.4L1358.5,1067.4L1349.5,1076.4L1340.5,1067.4ZM1352.4,1058.9L1361.4,1067.9L1352.4,1076.9L1343.4,1067.9ZM1355.3,1059.1L1364.3,1068.1L1355.3,1077.1L1346.3,1068.1ZM1358.2,1059.1L1367.2,1068.1L1358.2,1077.1L1349.2,1068.1ZM1361.1,1059L1370.1,1068L1361.1,1077L1352.1,1068ZM1364,1058.7L1373,1067.7L1364,1076.7L1355,1067.7ZM1366.9,1058.2L1375.9,1067.2L1366.9,1076.2L1357.9,1067.2ZM1369.8,1057.6L1378.8,1066.6L1369.8,1075.6L1360.8,1066.6ZM1372.7,1056.6L1381.7,1065.6L1372.7,1074.6L1363.7,1065.6ZM1375.6,1055.3L1384.6,1064.3L1375.6,1073.3L1366.6,1064.3ZM1378.5,1053.5L1387.5,1062.5L1378.5,1071.5L1369.5,1062.5ZM1381.4,1051.1L1390.4,1060.1L1381.4,1069.1L1372.4,1060.1ZM1384.3,1048.2L1393.3,1057.2L1384.3,1066.2L1375.3,1057.2ZM1387.2,1044.4L1396.2,1053.4L1387.2,1062.4L1378.2,1053.4ZM1390.1,1039.9L1399.1,1048.9L1390.1,1057.9L1381.1,1048.9ZM1393,1034.5L1402,1043.5L1393,1052.5L1384,1043.5ZM1395.9,1028.2L1404.9,1037.2L1395.9,1046.2L1386.9,1037.2ZM1398.8,1021.1L1407.8,1030.1L1398.8,1039.1L1389.8,1030.1ZM1401.7,1013.2L1410.7,1022.2L1401.7,1031.2L1392.7,1022.2ZM1404.6,1004.8L1413.6,1013.8L1404.6,1022.8L1395.6,1013.8ZM1407.5,996.1L1416.5,1005.1L1407.5,1014.1L1398.5,1005.1ZM1410.4,987.3L1419.4,996.3L1410.4,1005.3L1401.4,996.3ZM1413.3,978.9L1422.3,987.9L1413.3,996.9L1404.3,987.9ZM1416.2,971.1L1425.2,980.1L1416.2,989.1L1407.2,980.1ZM1419.1,964.5L1428.1,973.5L1419.1,982.5L1410.1,973.5ZM1422,959.2L1431,968.2L1422,977.2L1413,968.2ZM1424.9,955.5L1433.9,964.5L1424.9,973.5L1415.9,964.5ZM1427.8,953.8L1436.8,962.8L1427.8,971.8L1418.8,962.8ZM1430.8,953.8L1439.8,962.8L1430.8,971.8L1421.8,962.8ZM1433.7,955.2L1442.7,964.2L1433.7,973.2L1424.7,964.2ZM1436.6,958L1445.6,967L1436.6,976L1427.6,967ZM1439.5,961.9L1448.5,970.9L1439.5,979.9L1430.5,970.9ZM1442.4,966.9L1451.4,975.9L1442.4,984.9L1433.4,975.9ZM1445.3,972.6L1454.3,981.6L1445.3,990.6L1436.3,981.6ZM1448.2,978.8L1457.2,987.8L1448.2,996.8L1439.2,987.8ZM1451.1,985.2L1460.1,994.2L1451.1,1003.2L1442.1,994.2ZM1454,991.7L1463,1000.7L1454,1009.7L1445,1000.7ZM1456.9,997.9L1465.9,1006.9L1456.9,1015.9L1447.9,1006.9ZM1459.8,1003.6L1468.8,1012.6L1459.8,1021.6L1450.8,1012.6ZM1462.7,1008.7L1471.7,1017.7L1462.7,1026.7L1453.7,1017.7ZM1465.6,1013L1474.6,1022L1465.6,1031L1456.6,1022ZM1468.5,1016.4L1477.5,1025.4L1468.5,1034.4L1459.5,1025.4ZM1471.4,1018.9L1480.4,1027.9L1471.4,1036.9L1462.4,1027.9ZM1474.3,1020.4L1483.3,1029.4L1474.3,1038.4L1465.3,1029.4ZM1477.2,1020.9L1486.2,1029.9L1477.2,1038.9L1468.2,1029.9Z" fill="none" stroke="#e69f00" stroke-width="2"/><path d="M914,42.7L914.2,42.7L914.3,42.7L914.5,42.7L914.6,42.7L914.7,42.7L914.9,42.7L915,42.7L915.2,42.7L915.3,42.7L915.5,42.7L915.6,42.7L915.8,42.7L915.9,42.7L916.1,630.5L916.2,638.5L916.3,646.4L916.5,654.1L916.6,661.6L916.8,669L916.9,676.3L917.1,683.5L917.2,690.5L917.4,697.4L917.5,704.2L917.6,710.8L917.8,717.3L917.9,723.7L918.1,730L918.2,736.2L918.4,742.3L918.5,748.2L918.7,754.1L918.8,759.8L919,765.4L919.1,771L919.2,776.4L919.4,781.7L919.5,786.9L919.7,792.1L919.8,797.1L920,802.1L920.1,806.9L920.3,811.7L920.4,816.4L920.5,821L920.7,825.5L920.8,829.9L921,834.3L921.1,838.6L921.3,842.8L921.4,846.9L921.6,850.9L921.7,854.9L921.9,858.8L922,861.8L922.1,864.4L922.3,867L922.4,869.5L922.6,872L922.7,874.5L922.9,876.9L923,879.3L923.2,881.7L923.3,884.1L923.5,886.4L923.6,888.7L923.7,890.9L923.9,893.2L924,895.4L924.2,897.6L924.3,899.7L924.5,901.8L924.6,903.9L924.8,906L924.9,908.1L925,910.1L925.2,912.1L925.3,914L925.5,916L925.6,917.9L925.8,920.6L925.9,923.2L926.1,925.8L926.2,928.4L926.4,930.9L926.5,933.3L926.6,935.7L926.8,938.1L926.9,940.4L927.1,942.7L927.2,945L927.4,947.2L927.5,949.3L927.7,951.5L927.8,953.5L928,955.6L928.1,957.6L928.2,959.6L928.4,961.5L928.5,963.4L928.7,965.3L928.8,967.2L929,969L929.1,970.7L929.3,972.5L929.4,974.2L929.5,975.9L929.7,979.3L929.8,982.6L930,985.8L930.1,988.9L930.3,991.8L930.4,994.7L930.6,997.4L930.7,1000L930.9,1002.6L931,1005L931.1,1007.4L931.3,1009.6L931.4,1011.8L931.6,1013.9L931.7,1016L931.9,1017.9L932,1019.8L932.2,1021.6L932.3,1023.3L932.5,1025L932.6,1026.6L932.7,1028.2L932.9,1029.7L933,1031.1L933.2,1032.5L933.3,1033.9L933.5,1035.9L933.6,1037.9L933.8,1039.7L933.9,1041.4L934,1043.1L934.2,1044.6L934.3,1046L934.5,1047.4L934.6,1048.6L934.8,1049.8L934.9,1051L935.1,1052L935.2,1053L935.4,1053.9L935.5,1054.8L935.6,1055.6L935.8,1056.4L935.9,1057.2L936.1,1057.8L936.2,1058.5L936.4,1059.2L936.5,1059.8L936.7,1060.4L936.8,1061L937,1061.5L937.1,1062L937.2,1062.5L937.4,1062.9L937.5,1063.3L937.7,1063.7L937.8,1064L938,1064.3L938.1,1064.6L938.3,1064.9L938.4,1065.2L938.5,1065.4L938.7,1065.6L938.8,1065.9L939,1066L939.1,1066.2L939.3,1066.4L939.4,1066.6L939.6,1066.7L939.7,1066.8L939.9,1067L940,1067.1L940.1,1067.2L940.3,1067.3L940.4,1067.4L940.6,1067.5L940.7,1067.6L940.9,1067.7L941,1067.7L941.2,1067.8L941.3,1067.9L941.5,1067.9L941.6,1068L941.7,1068L941.9,1068.1L942,1068.1L942.2,1068.2L942.3,1068.2L942.5,1068.2L942.6,1068.3L942.8,1068.3L942.9,1068.3L943,1068.4L943.2,1068.4L943.3,1068.4L943.5,1068.4L943.6,1068.5L943.8,1068.5L943.9,1068.5L944.1,1068.5L944.2,1068.5L944.4,1068.5L944.5,1068.6L944.6,1068.6L944.8,1068.6L944.9,1068.6L945.1,1068.6L945.2,1068.6L945.4,1068.6L945.5,1068.6L945.7,1068.6L945.8,1068.7L946,1068.7L946.1,1068.7L946.2,1068.7L946.4,1068.7L946.5,1068.7L946.7,1068.7L946.8,1068.7L947,1068.7L947.1,1068.7L947.3,1068.7L947.4,1068.7L947.5,1068.7L947.7,1068.7L947.8,1068.7L948,1068.7L948.1,1068.7L948.3,1068.7L948.4,1068.7L948.6,1068.7L948.7,1068.7L948.9,1068.7L949,1068.7L949.1,1068.7L949.3,1068.7L949.4,1068.7L949.6,1068.7L949.7,1068.7L949.9,1068.7L950,1068.7L950.2,1068.7L950.3,1068.7L950.5,1068.7L950.6,1068.7L950.7,1068.7L950.9,1068.7L951,1068.7L951.2,1068.7L951.3,1068.7L951.5,1068.7L951.6,1068.7L951.8,1068.7L951.9,1068.7L952,1068.7L952.2,1068.7L952.3,1068.7L952.5,1068.7L952.6,1068.7L952.8,1068.7L952.9,1068.7L953.1,1068.7L953.2,1068.7L953.4,1068.7L953.5,1068.7L953.6,1068.7L953.8,1068.7L953.9,1068.7L954.1,1068.7L954.2,1068.7L954.4,1068.7L954.5,1068.7L954.7,1068.7L954.8,1068.7L955,1068.7L955.1,1068.7L955.2,1068.7L955.4,1068.7L955.5,1068.7L955.7,1068.7L955.8,1068.7L956,1068.7L956.1,1068.7L956.3,1068.7L956.4,1068.7L956.5,1068.7L956.7,1068.7L956.8,1068.7L957,1068.7L957.1,1068.7L957.3,1068.7L957.4,1068.7L957.6,1068.7L957.7,1068.7L957.9,1068.7L958,1068.7L958.1,1068.7L958.3,1068.7L958.4,1068.7L958.6,1068.7L958.7,1068.7L958.9,1068.7L959,1068.7L959.2,1068.7L959.3,1068.7L959.4,1068.7L959.6,1068.7L959.7,1068.7L959.9,1068.7L960,1068.7L960.2,1068.7L960.3,1068.7L960.5,1068.7L960.6,1068.7L960.8,1068.7L960.9,1068.7L961,1068.7L961.2,1068.7L961.3,1068.7L961.5,1068.7L961.6,1068.7L961.8,1068.7L961.9,1068.7L962.1,1068.7L962.2,1068.7L962.4,1068.7L962.5,1068.7L962.6,1068.7L962.8,1068.7L962.9,1068.7L963.1,1068.7L963.2,1068.7L963.4,1068.7L963.5,1068.7L963.7,1068.7L963.8,1068.7L963.9,1068.7L964.1,1068.7L964.2,1068.7L964.4,1068.7L964.5,1068.7L964.7,1068.7L964.8,1068.7L965,1068.7L965.1,1068.7L965.3,1068.7L965.4,1068.7L965.5,1068.7L965.7,1068.7L965.8,1068.7L966,1068.7L966.1,1068.7L966.3,1068.7L966.4,1068.7L966.6,1068.7L966.7,1068.7L966.9,1068.7L967,1068.7L967.1,1068.7L967.3,1068.7L967.4,1068.7L967.6,1068.7L967.7,1068.7L967.9,1068.7L968,1068.7L968.2,1068.7L968.3,1068.7L968.4,1068.7L968.6,1068.7L968.7,1068.7L968.9,1068.7L969,1068.7L969.2,1068.7L969.3,1068.7L969.5,1068.7L969.6,1068.7L969.8,1068.7L969.9,1068.7L970,1068.7L970.2,1068.7L970.3,1068.7L970.5,1068.7L970.6,1068.7L970.8,1068.7L970.9,1068.7L971.1,1068.7L971.2,1068.7L971.4,1068.7L971.5,1068.7L971.6,1068.7L971.8,1068.7L971.9,1068.7L972.1,1068.7L972.2,1068.7L972.4,1068.7L972.5,1068.7L972.7,1068.7L972.8,1068.7L972.9,1068.7L973.1,1068.7L973.2,1068.7L973.4,1068.7L973.5,1068.7L973.7,1068.7L973.8,1068.7L974,1068.7L974.1,1068.7L974.3,1068.7L974.4,1068.7L974.5,1068.7L974.7,1068.7L974.8,1068.7L975,1068.7L975.1,1068.7L975.3,1068.7L975.4,1068.7L975.6,1068.7L975.7,1068.7L975.9,1068.7L976,1068.7L976.1,1068.7L976.3,1068.7L976.4,1068.7L976.6,1068.7L976.7,1068.7L976.9,1068.7L977,1068.7L977.2,1068.7L977.3,1068.7L977.4,1068.7L977.6,1068.7L977.7,1068.7L977.9,1068.7L978,1068.7L978.2,1068.7L978.3,1068.7L978.5,1068.7L978.6,1068.7L978.8,1068.7L978.9,1068.7L979,1068.7L979.2,1068.7L979.3,1068.7L979.5,1068.7L979.6,1068.7L979.8,1068.7L979.9,1068.7L980.1,1068.7L980.2,1068.7L980.4,1068.7L980.5,1068.7L980.6,1068.7L980.8,1068.7L980.9,1068.7L981.1,1068.7L981.2,1068.7L981.4,1068.7L981.5,1068.7L981.7,1068.7L981.8,1068.7L981.9,1068.7L982.1,1068.7L982.2,1068.7L982.4,1068.7L982.5,1068.7L982.7,1068.7L982.8,1068.7L983,1068.7L983.1,1068.7L983.3,1068.7L983.4,1068.7L983.5,1068.7L983.7,1068.7L983.8,1068.7L984,1068.7L984.1,1068.7L984.3,1068.7L984.4,1068.7L984.6,1068.7L984.7,1068.7L984.9,1068.7L985,1068.7L985.1,1068.7L985.3,1068.7L985.4,1068.7L985.6,1068.7L985.7,1068.7L985.9,1068.7L986,1068.7L986.2,1068.7L986.3,1068.7L986.4,1068.7L986.6,1068.7L986.7,1068.7L986.9,1068.7L987,1068.7L987.2,1068.7L987.3,1068.7L987.5,1068.7L987.6,1068.7L987.8,1068.7L987.9,1068.7L988,1068.7L988.2,1068.7L988.3,1068.7L988.5,1068.7L988.6,1068.7L988.8,1068.7L988.9,1068.7L989.1,1068.7L989.2,1068.7L989.4,1068.7L989.5,1068.7L989.6,1068.7L989.8,1068.7L989.9,1068.7L990.1,1068.7L990.2,1068.7L990.4,1068.7L990.5,1068.7L990.7,1068.7L990.8,1068.7L990.9,1068.7L991.1,1068.7L991.2,1068.7L991.4,1068.7L991.5,1068.7L991.7,1068.7L991.8,1068.7L992,1068.7L992.1,1068.7L992.3,1068.7L992.4,1068.7L992.5,1068.7L992.7,1068.7L992.8,1068.7L993,1068.7L993.1,1068.7L993.3,1068.7L993.4,1068.7L993.6,1068.7L993.7,1068.7L993.9,1068.7L994,1068.7L994.1,1068.7L994.3,1068.7L994.4,1068.7L994.6,1068.7L994.7,1068.7L994.9,1068.7L995,1068.7L995.2,1068.7L995.3,1068.7L995.4,1068.7L995.6,1068.7L995.7,1068.7L995.9,1068.7L996,1068.7L996.2,1068.7L996.3,1068.7L996.5,1068.7L996.6,1068.7L996.8,1068.7L996.9,1068.7L997,1068.7L997.2,1068.7L997.3,1068.7L997.5,1068.7L997.6,1068.7L997.8,1068.7L997.9,1068.7L998.1,1068.7L998.2,1068.7L998.4,1068.7L998.5,1068.7L998.6,1068.7L998.8,1068.7L998.9,1068.7L999.1,1068.7L999.2,1068.7L999.4,1068.7L999.5,1068.7L999.7,1068.7L999.8,1068.7L999.9,1068.7L1000.1,1068.7L1000.2,1068.7L1000.4,1068.7L1000.5,1068.7L1000.7,1068.7L1000.8,1068.7L1001,1068.7L1001.1,1068.7L1001.3,1068.7L1001.4,1068.7L1001.5,1068.7L1001.7,1068.7L1001.8,1068.7L1002,1068.7L1002.1,1068.7L1002.3,1068.7L1002.4,1068.7L1002.6,1068.7L1002.7,1068.7L1002.8,1068.7L1003,1068.7L1003.1,1068.7L1003.3,1068.7L1003.4,1068.7L1003.6,1068.7L1003.7,1068.7L1003.9,1068.7L1004,1068.7L1004.2,1068.7L1004.3,1068.7L1004.4,1068.7L1004.6,1068.7L1004.7,1068.7L1004.9,1068.7L1005,1068.7L1005.2,1068.7L1005.3,1068.7L1005.5,1068.7L1005.6,1068.7L1005.8,1068.7L1005.9,1068.7L1006,1068.7L1006.2,1068.7L1006.3,1068.7L1006.5,1068.7L1006.6,1068.7L1006.8,1068.7L1006.9,1068.7L1007.1,1068.7L1007.2,1068.7L1007.3,1068.7L1007.5,1068.7L1007.6,1068.7L1007.8,1068.7L1007.9,1068.7L1008.1,1068.7L1008.2,1068.7L1008.4,1068.7L1008.5,1068.7L1008.7,1068.7L1008.8,1068.7L1008.9,1068.7L1009.1,1068.7L1009.2,1068.7L1009.4,1068.7L1009.5,1068.7L1009.7,1068.7L1009.8,1068.7L1010,1068.7L1010.1,1068.7L1010.3,1068.7L1010.4,1068.7L1010.5,1068.7L1010.7,1068.7L1010.8,1068.7L1011,1068.7L1011.1,1068.7L1011.3,1068.7L1011.4,1068.7L1011.6,1068.7L1011.7,1068.7L1011.8,1068.7L1012,1068.7L1012.1,1068.7L1012.3,1068.7L1012.4,1068.7L1012.6,1068.7L1012.7,1068.7L1012.9,1068.7L1013,1068.7L1013.2,1068.7L1013.3,1068.7L1013.4,1068.7L1013.6,1068.7L1013.7,1068.7L1013.9,1068.7L1014,1068.7L1014.2,1068.7L1014.3,1068.7L1014.5,1068.7L1014.6,1068.7L1014.8,1068.7L1014.9,1068.7L1015,1068.7L1015.2,1068.7L1015.3,1068.7L1015.5,1068.7L1015.6,1068.7L1015.8,1068.7L1015.9,1068.7L1016.1,1068.7L1016.2,1068.7L1016.3,1068.7L1016.5,1068.7L1016.6,1068.7L1016.8,1068.7L1016.9,1068.7L1017.1,1068.7L1017.2,1068.7L1017.4,1068.7L1017.5,1068.7L1017.7,1068.7L1017.8,1068.7L1017.9,1068.7L1018.1,1068.7L1018.2,1068.7L1018.4,1068.7L1018.5,1068.7L1018.7,1068.7L1018.8,1068.7L1019,1068.7L1019.1,1068.7L1019.3,1068.7L1019.4,1068.7L1019.5,1068.7L1019.7,1068.7L1019.8,1068.7L1020,1068.7L1020.1,1068.7L1020.3,1068.7L1020.4,1068.7L1020.6,1068.7L1020.7,1068.7L1020.8,1068.7L1021,1068.7L1021.1,1068.7L1021.3,1068.7L1021.4,1068.7L1021.6,1068.7L1021.7,1068.7L1021.9,1068.7L1022,1068.7L1022.2,1068.7L1022.3,1068.7L1022.4,1068.7L1022.6,1068.7L1022.7,1068.7L1022.9,1068.7L1023,1068.7L1023.2,1068.7L1023.3,1068.7L1023.5,1068.7L1023.6,1068.7L1023.8,1068.7L1023.9,1068.7L1024,1068.7L1024.2,1068.7L1024.3,1068.7L1024.5,1068.7L1024.6,1068.7L1024.8,1068.7L1024.9,1068.7L1025.1,1068.7L1025.2,1068.7L1025.3,1068.7L1025.5,1068.7L1025.6,1068.7L1025.8,1068.7L1025.9,1068.7L1026.1,1068.7L1026.2,1068.7L1026.4,1068.7L1026.5,1068.7L1026.7,1068.7L1026.8,1068.7L1026.9,1068.7L1027.1,1068.7L1027.2,1068.7L1027.4,1068.7L1027.5,1068.7L1027.7,1068.7L1027.8,1068.7L1028,1068.7L1028.1,1068.7L1028.3,1068.7L1028.4,1068.7L1028.5,1068.7L1028.7,1068.7L1028.8,1068.7L1029,1068.7L1029.1,1068.7L1029.3,1068.7L1029.4,1068.7L1029.6,1068.7L1029.7,1068.7L1029.8,1068.7L1030,1068.7L1030.1,1068.7L1030.3,1068.7L1030.4,1068.7L1030.6,1068.7L1030.7,1068.7L1030.9,1068.7L1031,1068.7L1031.2,1068.7L1031.3,1068.7L1031.4,1068.7L1031.6,1068.7L1031.7,1068.7L1031.9,1068.7L1032,1068.7L1032.2,1068.7L1032.3,1068.7L1032.5,1068.7L1032.6,1068.7L1032.8,1068.7L1032.9,1068.7L1033,1068.7L1033.2,1068.7L1033.3,1068.7L1033.5,1068.7L1033.6,1068.7L1033.8,1068.7L1033.9,1068.7L1034.1,1068.7L1034.2,1068.7L1034.3,1068.7L1034.5,1068.7L1034.6,1068.7L1034.8,1068.7L1034.9,1068.7L1035.1,1068.7L1035.2,1068.7L1035.4,1068.7L1035.5,1068.7L1035.7,1068.7L1035.8,1068.7L1035.9,1068.7L1036.1,1068.7L1036.2,1068.7L1036.4,1068.7L1036.5,1068.7L1036.7,1068.7L1036.8,1068.7L1037,1068.7L1037.1,1068.7L1037.3,1068.7L1037.4,1068.7L1037.5,1068.7L1037.7,1068.7L1037.8,1068.7L1038,1068.7L1038.1,1068.7L1038.3,1068.7L1038.4,1068.7L1038.6,1068.7L1038.7,1068.7L1038.8,1068.7L1039,1068.7L1039.1,1068.7L1039.3,1068.7L1039.4,1068.7L1039.6,1068.7L1039.7,1068.7L1039.9,1068.7L1040,1068.7L1040.2,1068.7L1040.3,1068.7L1040.4,1068.7L1040.6,1068.7L1040.7,1068.7L1040.9,1068.7L1041,1068.7L1041.2,1068.7L1041.3,1068.7L1041.5,1068.7L1041.6,1068.7L1041.8,1068.7L1041.9,1068.7L1042,1068.7L1042.2,1068.6L1042.3,1068.6L1042.5,1068.6L1042.6,1068.6L1042.8,1068.6L1042.9,1068.6L1043.1,1068.6L1043.2,1068.6L1043.3,1068.6L1043.5,1068.6L1043.6,1068.6L1043.8,1068.6L1043.9,1068.6L1044.1,1068.6L1044.2,1068.6L1044.4,1068.6L1044.5,1068.5L1044.7,1068.5L1044.8,1068.5L1044.9,1068.5L1045.1,1068.5L1045.2,1068.5L1045.4,1068.5L1045.5,1068.5L1045.7,1068.5L1045.8,1068.5L1046,1068.4L1046.1,1068.4L1046.2,1068.4L1046.4,1068.4L1046.5,1068.4L1046.7,1068.4L1046.8,1068.4L1047,1068.3L1047.1,1068.3L1047.3,1068.3L1047.4,1068.3L1047.6,1068.3L1047.7,1068.3L1047.8,1068.2L1048,1068.2L1048.1,1068.2L1048.3,1068.2L1048.4,1068.2L1048.6,1068.1L1048.7,1068.1L1048.9,1068.1L1049,1068.1L1049.2,1068L1049.3,1068L1049.4,1068L1049.6,1068L1049.7,1067.9L1049.9,1067.9L1050,1067.9L1050.2,1067.8L1050.3,1067.8L1050.5,1067.8L1050.6,1067.7L1050.7,1067.7L1050.9,1067.7L1051,1067.6L1051.2,1067.6L1051.3,1067.5L1051.5,1067.5L1051.6,1067.4L1051.8,1067.4L1051.9,1067.3L1052.1,1067.3L1052.2,1067.2L1052.3,1067.2L1052.5,1067.1L1052.6,1067.1L1052.8,1067L1052.9,1067L1053.1,1066.9L1053.2,1066.8L1053.4,1066.8L1053.5,1066.7L1053.7,1066.6L1053.8,1066.6L1053.9,1066.5L1054.1,1066.4L1054.2,1066.3L1054.4,1066.3L1054.5,1066.2L1054.7,1066.1L1054.8,1066L1055,1065.9L1055.1,1065.8L1055.2,1065.7L1055.4,1065.6L1055.5,1065.5L1055.7,1065.4L1055.8,1065.3L1056,1065.2L1056.1,1065.1L1056.3,1065L1056.4,1064.8L1056.6,1064.7L1056.7,1064.6L1056.8,1064.5L1057,1064.3L1057.1,1064.2L1057.3,1064.1L1057.4,1063.9L1057.6,1063.8L1057.7,1063.6L1057.9,1063.4L1058,1063.3L1058.2,1063.1L1058.3,1063L1058.4,1062.8L1058.6,1062.6L1058.7,1062.4L1058.9,1062.2L1059,1062L1059.2,1061.8L1059.3,1061.6L1059.5,1061.4L1059.6,1061.2L1059.7,1061L1059.9,1060.8L1060,1060.5L1060.2,1060.3L1060.3,1060.1L1060.5,1059.8L1060.6,1059.6L1060.8,1059.3L1060.9,1059.1L1061.1,1058.8L1061.2,1058.5L1061.3,1058.2L1061.5,1057.9L1061.6,1057.6L1061.8,1057.3L1061.9,1057L1062.1,1056.7L1062.2,1056.4L1062.4,1056.1L1062.5,1055.7L1062.7,1055.4L1062.8,1055L1062.9,1054.7L1063.1,1054.3L1063.2,1053.9L1063.4,1053.5L1063.5,1053.1L1063.7,1052.7L1063.8,1052.3L1064,1051.9L1064.1,1051.5L1064.2,1051L1064.4,1050.6L1064.5,1050.1L1064.7,1049.7L1064.8,1049.2L1065,1048.7L1065.1,1048.2L1065.3,1047.7L1065.4,1047.2L1065.6,1046.7L1065.7,1046.2L1065.8,1045.7L1066,1045.1L1066.1,1044.6L1066.3,1044L1066.4,1043.4L1066.6,1042.8L1066.7,1042.2L1066.9,1041.6L1067,1041L1067.2,1040.4L1067.3,1039.7L1067.4,1039.1L1067.6,1038.4L1067.7,1037.7L1067.9,1037L1068,1036.3L1068.2,1035.6L1068.3,1034.9L1068.5,1034.2L1068.6,1033.4L1068.7,1032.7L1068.9,1031.9L1069,1031.1L1069.2,1030.3L1069.3,1029.5L1069.5,1028.7L1069.6,1027.9L1069.8,1027L1069.9,1026.2L1070.1,1025.3L1070.2,1024.4L1070.3,1023.5L1070.5,1022.6L1070.6,1021.7L1070.8,1020.8L1070.9,1019.8L1071.1,1018.9L1071.2,1017.9L1071.4,1016.9L1071.5,1015.9L1071.7,1014.9L1071.8,1013.9L1071.9,1012.9L1072.1,1011.8L1072.2,1010.8L1072.4,1009.7L1072.5,1008.6L1072.7,1007.6L1072.8,1006.4L1073,1005.3L1073.1,1004.2L1073.2,1003.1L1073.4,1001.9L1073.5,1000.7L1073.7,999.6L1073.8,998.4L1074,997.2L1074.1,995.9L1074.3,994.7L1074.4,993.5L1074.6,992.2L1074.7,991L1074.8,989.7L1075,988.4L1075.1,987.1L1075.3,985.8L1075.4,984.5L1075.6,983.2L1075.7,981.8L1075.9,980.5L1076,979.1L1076.2,977.7L1076.3,976.3L1076.4,975L1076.6,973.6L1076.7,972.1L1076.9,970.7L1077,969.3L1077.2,967.9L1077.3,966.4L1077.5,965L1077.6,963.5L1077.7,962L1077.9,960.5L1078,959.1L1078.2,957.6L1078.3,956.1L1078.5,954.6L1078.6,953L1078.8,951.5L1078.9,950L1079.1,948.5L1079.2,946.9L1079.3,945.4L1079.5,943.8L1079.6,942.3L1079.8,940.7L1079.9,939.2L1080.1,937.6L1080.2,936L1080.4,934.5L1080.5,932.9L1080.7,931.3L1080.8,929.7L1080.9,928.2L1081.1,926.6L1081.2,925L1081.4,923.4L1081.5,921.9L1081.7,920.3L1081.8,918.7L1082,917.1L1082.1,915.5L1082.2,914L1082.4,912.4L1082.5,910.8L1082.7,909.3L1082.8,907.7L1083,906.1L1083.1,904.6L1083.3,903L1083.4,901.5L1083.6,900L1083.7,898.4L1083.8,896.9L1084,895.4L1084.1,893.9L1084.3,892.4L1084.4,890.9L1084.6,889.4L1084.7,887.9L1084.9,886.4L1085,885L1085.1,883.5L1085.3,882.1L1085.4,880.7L1085.6,879.2L1085.7,877.8L1085.9,876.4L1086,875.1L1086.2,873.7L1086.3,872.3L1086.5,871L1086.6,869.7L1086.7,868.4L1086.9,867.1L1087,865.8L1087.2,864.5L1087.3,863.3L1087.5,862.1L1087.6,860.8L1087.8,859.6L1087.9,858.5L1088.1,857.3L1088.2,856.2L1088.3,855.1L1088.5,854L1088.6,852.9L1088.8,851.8L1088.9,850.8L1089.1,849.7L1089.2,848.8L1089.4,847.8L1089.5,846.8L1089.6,845.9L1089.8,845L1089.9,844.1L1090.1,843.2L1090.2,842.4L1090.4,841.6L1090.5,840.8L1090.7,840L1090.8,839.3L1091,838.5L1091.1,837.8L1091.2,837.2L1091.4,836.5L1091.5,835.9L1091.7,835.3L1091.8,834.8L1092,834.2L1092.1,833.7L1092.3,833.2L1092.4,832.8L1092.6,832.3L1092.7,831.9L1092.8,831.5L1093,831.2L1093.1,830.9L1093.3,830.6L1093.4,830.3L1093.6,830.1L1093.7,829.9L1093.9,829.7L1094,829.5L1094.1,829.4L1094.3,829.3L1094.4,829.2L1094.6,829.2L1094.7,829.2L1094.9,829.2L1095,829.2L1095.2,829.2L1095.3,829.3L1095.5,829.4L1095.6,829.5L1095.7,829.6L1095.9,829.7L1096,829.9L1096.2,830.1L1096.3,830.3L1096.5,830.5L1096.6,830.7L1096.8,830.9L1096.9,831.2L1097.1,831.5L1097.2,831.8L1097.3,832.1L1097.5,832.4L1097.6,832.8L1097.8,833.1L1097.9,833.5L1098.1,833.9L1098.2,834.3L1098.4,834.8L1098.5,835.2L1098.6,835.7L1098.8,836.2L1098.9,836.7L1099.1,837.2L1099.2,837.7L1099.4,838.3L1099.5,838.8L1099.7,839.4L1099.8,840L1100,840.6L1100.1,841.2L1100.2,841.9L1100.4,842.5L1100.5,843.2L1100.7,843.9L1100.8,844.6L1101,845.3L1101.1,846.1L1101.3,846.8L1101.4,847.6L1101.6,848.4L1101.7,849.1L1101.8,850L1102,850.8L1102.1,851.6L1102.3,852.4L1102.4,853.3L1102.6,854.2L1102.7,855.1L1102.9,855.9L1103,856.9L1103.1,857.8L1103.3,858.7L1103.4,859.6L1103.6,860.6L1103.7,861.6L1103.9,862.5L1104,863.5L1104.2,864.5L1104.3,865.5L1104.5,866.6L1104.6,867.6L1104.7,868.6L1104.9,869.7L1105,870.7L1105.2,871.8L1105.3,872.9L1105.5,874L1105.6,875.1L1105.8,876.2L1105.9,877.3L1106.1,878.4L1106.2,879.5L1106.3,880.7L1106.5,881.8L1106.6,882.9L1106.8,884.1L1106.9,885.3L1107.1,886.4L1107.2,887.6L1107.4,888.8L1107.5,890L1107.6,891.2L1107.8,892.4L1107.9,893.6L1108.1,894.8L1108.2,896L1108.4,897.2L1108.5,898.4L1108.7,899.6L1108.8,900.9L1109,902.1L1109.1,903.3L1109.2,904.6L1109.4,905.8L1109.5,907.1L1109.7,908.3L1109.8,909.6L1110,910.8L1110.1,912.1L1110.3,913.3L1110.4,914.6L1110.6,915.9L1110.7,917.1L1110.8,918.4L1111,919.6L1111.1,920.9L1111.3,922.2L1111.4,923.4L1111.6,924.7L1111.7,926L1111.9,927.2L1112,928.5L1112.1,929.7L1112.3,931L1112.4,932.3L1112.6,933.5L1112.7,934.8L1112.9,936L1113,937.3L1113.2,938.5L1113.3,939.8L1113.5,941L1113.6,942.3L1113.7,943.5L1113.9,944.8L1114,946L1114.2,947.2L1114.3,948.5L1114.5,949.7L1114.6,950.9L1114.8,952.1L1114.9,953.3L1115.1,954.6L1115.2,955.8L1115.3,957L1115.5,958.2L1115.6,959.4L1115.8,960.5L1115.9,961.7L1116.1,962.9L1116.2,964.1L1116.4,965.3L1116.5,966.4L1116.6,967.6L1116.8,968.7L1116.9,969.9L1117.1,971L1117.2,972.1L1117.4,973.3L1117.5,974.4L1117.7,975.5L1117.8,976.6L1118,977.7L1118.1,978.8L1118.2,979.9L1118.4,981L1118.5,982.1L1118.7,983.2L1118.8,984.2L1119,985.3L1119.1,986.3L1119.3,987.4L1119.4,988.4L1119.6,989.4L1119.7,990.5L1119.8,991.5L1120,992.5L1120.1,993.5L1120.3,994.5L1120.4,995.5L1120.6,996.4L1120.7,997.4L1120.9,998.4L1121,999.3L1121.1,1000.3L1121.3,1001.2L1121.4,1002.1L1121.6,1003.1L1121.7,1004L1121.9,1004.9L1122,1005.8L1122.2,1006.7L1122.3,1007.6L1122.5,1008.4L1122.6,1009.3L1122.7,1010.2L1122.9,1011L1123,1011.8L1123.2,1012.7L1123.3,1013.5L1123.5,1014.3L1123.6,1015.1L1123.8,1015.9L1123.9,1016.7L1124.1,1017.5L1124.2,1018.3L1124.3,1019.1L1124.5,1019.8L1124.6,1020.6L1124.8,1021.3L1124.9,1022.1L1125.1,1022.8L1125.2,1023.5L1125.4,1024.2L1125.5,1024.9L1125.6,1025.6L1125.8,1026.3L1125.9,1027L1126.1,1027.7L1126.2,1028.4L1126.4,1029L1126.5,1029.7L1126.7,1030.3L1126.8,1030.9L1127,1031.6L1127.1,1032.2L1127.2,1032.8L1127.4,1033.4L1127.5,1034L1127.7,1034.6L1127.8,1035.2L1128,1035.8L1128.1,1036.3L1128.3,1036.9L1128.4,1037.4L1128.5,1038L1128.7,1038.5L1128.8,1039.1L1129,1039.6L1129.1,1040.1L1129.3,1040.6L1129.4,1041.1L1129.6,1041.6L1129.7,1042.1L1129.9,1042.6L1130,1043.1L1130.1,1043.5L1130.3,1044L1130.4,1044.4L1130.6,1044.9L1130.7,1045.3L1130.9,1045.8L1131,1046.2L1131.2,1046.6L1131.3,1047L1131.5,1047.4L1131.6,1047.8L1131.7,1048.2L1131.9,1048.6L1132,1049L1132.2,1049.4L1132.3,1049.8L1132.5,1050.1L1132.6,1050.5L1132.8,1050.9L1132.9,1051.2L1133,1051.6L1133.2,1051.9L1133.3,1052.2L1133.5,1052.6L1133.6,1052.9L1133.8,1053.2L1133.9,1053.5L1134.1,1053.8L1134.2,1054.1L1134.4,1054.4L1134.5,1054.7L1134.6,1055L1134.8,1055.3L1134.9,1055.6L1135.1,1055.9L1135.2,1056.1L1135.4,1056.4L1135.5,1056.6L1135.7,1056.9L1135.8,1057.2L1136,1057.4L1136.1,1057.6L1136.2,1057.9L1136.4,1058.1L1136.5,1058.3L1136.7,1058.6L1136.8,1058.8L1137,1059L1137.1,1059.2L1137.3,1059.4L1137.4,1059.6L1137.5,1059.8L1137.7,1060L1137.8,1060.2L1138,1060.4L1138.1,1060.6L1138.3,1060.8L1138.4,1061L1138.6,1061.1L1138.7,1061.3L1138.9,1061.5L1139,1061.6L1139.1,1061.8L1139.3,1062L1139.4,1062.1L1139.6,1062.3L1139.7,1062.4L1139.9,1062.6L1140,1062.7L1140.2,1062.8L1140.3,1063L1140.5,1063.1L1140.6,1063.3L1140.7,1063.4L1140.9,1063.5L1141,1063.6L1141.2,1063.8L1141.3,1063.9L1141.5,1064L1141.6,1064.1L1141.8,1064.2L1141.9,1064.3L1142,1064.4L1142.2,1064.5L1142.3,1064.6L1142.5,1064.7L1142.6,1064.8L1142.8,1064.9L1142.9,1065L1143.1,1065.1L1143.2,1065.2L1143.4,1065.3L1143.5,1065.4L1143.6,1065.5L1143.8,1065.6L1143.9,1065.6L1144.1,1065.7L1144.2,1065.8L1144.4,1065.9L1144.5,1065.9L1144.7,1066L1144.8,1066.1L1145,1066.2L1145.1,1066.2L1145.2,1066.3L1145.4,1066.4L1145.5,1066.4L1145.7,1066.5L1145.8,1066.5L1146,1066.6L1146.1,1066.7L1146.3,1066.7L1146.4,1066.8L1146.5,1066.8L1146.7,1066.9L1146.8,1066.9L1147,1067L1147.1,1067L1147.3,1067.1L1147.4,1067.1L1147.6,1067.2L1147.7,1067.2L1147.9,1067.2L1148,1067.3L1148.1,1067.3L1148.3,1067.4L1148.4,1067.4L1148.6,1067.4L1148.7,1067.5L1148.9,1067.5L1149,1067.5L1149.2,1067.6L1149.3,1067.6L1149.5,1067.6L1149.6,1067.7L1149.7,1067.7L1149.9,1067.7L1150,1067.8L1150.2,1067.8L1150.3,1067.8L1150.5,1067.8L1150.6,1067.9L1150.8,1067.9L1150.9,1067.9L1151,1067.9L1151.2,1068L1151.3,1068L1151.5,1068L1151.6,1068L1151.8,1068.1L1151.9,1068.1L1152.1,1068.1L1152.2,1068.1L1152.4,1068.1L1152.5,1068.1L1152.6,1068.2L1152.8,1068.2L1152.9,1068.2L1153.1,1068.2L1153.2,1068.2L1153.4,1068.2L1153.5,1068.3L1153.7,1068.3L1153.8,1068.3L1154,1068.3L1154.1,1068.3L1154.2,1068.3L1154.4,1068.3L1154.5,1068.4L1154.7,1068.4L1154.8,1068.4L1155,1068.4L1155.1,1068.4L1155.3,1068.4L1155.4,1068.4L1155.5,1068.4L1155.7,1068.4L1155.8,1068.5L1156,1068.5L1156.1,1068.5L1156.3,1068.5L1156.4,1068.5L1156.6,1068.5L1156.7,1068.5L1156.9,1068.5L1157,1068.5L1157.1,1068.5L1157.3,1068.5L1157.4,1068.5L1157.6,1068.5L1157.7,1068.6L1157.9,1068.6L1158,1068.6L1158.2,1068.6L1158.3,1068.6L1158.5,1068.6L1158.6,1068.6L1158.7,1068.6L1158.9,1068.6L1159,1068.6L1159.2,1068.6L1159.3,1068.6L1159.5,1068.6L1159.6,1068.6L1159.8,1068.6L1159.9,1068.6L1160,1068.6L1160.2,1068.6L1160.3,1068.6L1160.5,1068.6L1160.6,1068.7L1160.8,1068.7L1160.9,1068.7L1161.1,1068.7L1161.2,1068.7L1161.4,1068.7L1161.5,1068.7L1161.6,1068.7L1161.8,1068.7L1161.9,1068.7L1162.1,1068.7L1162.2,1068.7L1162.4,1068.7L1162.5,1068.7L1162.7,1068.7L1162.8,1068.7L1163,1068.7L1163.1,1068.7L1163.2,1068.7L1163.4,1068.7L1163.5,1068.7L1163.7,1068.7L1163.8,1068.7L1164,1068.7L1164.1,1068.7L1164.3,1068.7L1164.4,1068.7L1164.5,1068.7L1164.7,1068.7L1164.8,1068.7L1165,1068.7L1165.1,1068.7L1165.3,1068.7L1165.4,1068.7L1165.6,1068.7L1165.7,1068.7L1165.9,1068.7L1166,1068.7L1166.1,1068.7L1166.3,1068.7L1166.4,1068.7L1166.6,1068.7L1166.7,1068.7L1166.9,1068.7L1167,1068.7L1167.2,1068.7L1167.3,1068.7L1167.4,1068.7L1167.6,1068.7L1167.7,1068.7L1167.9,1068.7L1168,1068.7L1168.2,1068.7L1168.3,1068.7L1168.5,1068.7L1168.6,1068.7L1168.8,1068.7L1168.9,1068.7L1169,1068.7L1169.2,1068.7L1169.3,1068.7L1169.5,1068.7L1169.6,1068.7L1169.8,1068.7L1169.9,1068.7L1170.1,1068.7L1170.2,1068.7L1170.4,1068.7L1170.5,1068.7L1170.6,1068.7L1170.8,1068.7L1170.9,1068.7L1171.1,1068.7L1171.2,1068.7L1171.4,1068.7L1171.5,1068.7L1171.7,1068.7L1171.8,1068.7L1171.9,1068.7L1172.1,1068.7L1172.2,1068.7L1172.4,1068.7L1172.5,1068.7L1172.7,1068.7L1172.8,1068.7L1173,1068.7L1173.1,1068.7L1173.3,1068.7L1173.4,1068.7L1173.5,1068.7L1173.7,1068.7L1173.8,1068.7L1174,1068.7L1174.1,1068.7L1174.3,1068.7L1174.4,1068.7L1174.6,1068.7L1174.7,1068.7L1174.9,1068.7L1175,1068.7L1175.1,1068.7L1175.3,1068.7L1175.4,1068.7L1175.6,1068.7L1175.7,1068.7L1175.9,1068.7L1176,1068.7L1176.2,1068.7L1176.3,1068.7L1176.4,1068.7L1176.6,1068.7L1176.7,1068.7L1176.9,1068.7L1177,1068.7L1177.2,1068.7L1177.3,1068.7L1177.5,1068.7L1177.6,1068.7L1177.8,1068.7L1177.9,1068.7L1178,1068.7L1178.2,1068.7L1178.3,1068.7L1178.5,1068.7L1178.6,1068.7L1178.8,1068.7L1178.9,1068.7L1179.1,1068.7L1179.2,1068.7L1179.4,1068.7L1179.5,1068.7L1179.6,1068.7L1179.8,1068.7L1179.9,1068.7L1180.1,1068.7L1180.2,1068.7L1180.4,1068.7L1180.5,1068.7L1180.7,1068.7L1180.8,1068.7L1180.9,1068.7L1181.1,1068.7L1181.2,1068.7L1181.4,1068.7L1181.5,1068.7L1181.7,1068.7L1181.8,1068.7L1182,1068.7L1182.1,1068.6L1182.3,1068.6L1182.4,1068.6L1182.5,1068.6L1182.7,1068.6L1182.8,1068.6L1183,1068.6L1183.1,1068.6L1183.3,1068.6L1183.4,1068.6L1183.6,1068.6L1183.7,1068.6L1183.9,1068.6L1184,1068.6L1184.1,1068.6L1184.3,1068.6L1184.4,1068.6L1184.6,1068.6L1184.7,1068.6L1184.9,1068.6L1185,1068.6L1185.2,1068.5L1185.3,1068.5L1185.4,1068.5L1185.6,1068.5L1185.7,1068.5L1185.9,1068.5L1186,1068.5L1186.2,1068.5L1186.3,1068.5L1186.5,1068.5L1186.6,1068.5L1186.8,1068.5L1186.9,1068.5L1187,1068.5L1187.2,1068.4L1187.3,1068.4L1187.5,1068.4L1187.6,1068.4L1187.8,1068.4L1187.9,1068.4L1188.1,1068.4L1188.2,1068.4L1188.4,1068.4L1188.5,1068.3L1188.6,1068.3L1188.8,1068.3L1188.9,1068.3L1189.1,1068.3L1189.2,1068.3L1189.4,1068.3L1189.5,1068.3L1189.7,1068.2L1189.8,1068.2L1189.9,1068.2L1190.1,1068.2L1190.2,1068.2L1190.4,1068.2L1190.5,1068.1L1190.7,1068.1L1190.8,1068.1L1191,1068.1L1191.1,1068.1L1191.3,1068.1L1191.4,1068L1191.5,1068L1191.7,1068L1191.8,1068L1192,1067.9L1192.1,1067.9L1192.3,1067.9L1192.4,1067.9L1192.6,1067.9L1192.7,1067.8L1192.9,1067.8L1193,1067.8L1193.1,1067.8L1193.3,1067.7L1193.4,1067.7L1193.6,1067.7L1193.7,1067.6L1193.9,1067.6L1194,1067.6L1194.2,1067.5L1194.3,1067.5L1194.4,1067.5L1194.6,1067.4L1194.7,1067.4L1194.9,1067.4L1195,1067.3L1195.2,1067.3L1195.3,1067.3L1195.5,1067.2L1195.6,1067.2L1195.8,1067.1L1195.9,1067.1L1196,1067.1L1196.2,1067L1196.3,1067L1196.5,1066.9L1196.6,1066.9L1196.8,1066.8L1196.9,1066.8L1197.1,1066.7L1197.2,1066.7L1197.4,1066.6L1197.5,1066.6L1197.6,1066.5L1197.8,1066.5L1197.9,1066.4L1198.1,1066.4L1198.2,1066.3L1198.4,1066.2L1198.5,1066.2L1198.7,1066.1L1198.8,1066.1L1198.9,1066L1199.1,1065.9L1199.2,1065.9L1199.4,1065.8L1199.5,1065.7L1199.7,1065.6L1199.8,1065.6L1200,1065.5L1200.1,1065.4L1200.3,1065.3L1200.4,1065.3L1200.5,1065.2L1200.7,1065.1L1200.8,1065L1201,1064.9L1201.1,1064.8L1201.3,1064.7L1201.4,1064.7L1201.6,1064.6L1201.7,1064.5L1201.9,1064.4L1202,1064.3L1202.1,1064.2L1202.3,1064.1L1202.4,1064L1202.6,1063.9L1202.7,1063.7L1202.9,1063.6L1203,1063.5L1203.2,1063.4L1203.3,1063.3L1203.4,1063.2L1203.6,1063.1L1203.7,1062.9L1203.9,1062.8L1204,1062.7L1204.2,1062.5L1204.3,1062.4L1204.5,1062.3L1204.6,1062.1L1204.8,1062L1204.9,1061.9L1205,1061.7L1205.2,1061.6L1205.3,1061.4L1205.5,1061.3L1205.6,1061.1L1205.8,1061L1205.9,1060.8L1206.1,1060.6L1206.2,1060.5L1206.4,1060.3L1206.5,1060.1L1206.6,1060L1206.8,1059.8L1206.9,1059.6L1207.1,1059.4L1207.2,1059.3L1207.4,1059.1L1207.5,1058.9L1207.7,1058.7L1207.8,1058.5L1207.9,1058.3L1208.1,1058.1L1208.2,1057.9L1208.4,1057.7L1208.5,1057.5L1208.7,1057.3L1208.8,1057.1L1209,1056.8L1209.1,1056.6L1209.3,1056.4L1209.4,1056.2L1209.5,1055.9L1209.7,1055.7L1209.8,1055.5L1210,1055.2L1210.1,1055L1210.3,1054.7L1210.4,1054.5L1210.6,1054.2L1210.7,1054L1210.8,1053.7L1211,1053.4L1211.1,1053.2L1211.3,1052.9L1211.4,1052.6L1211.6,1052.3L1211.7,1052.1L1211.9,1051.8L1212,1051.5L1212.2,1051.2L1212.3,1050.9L1212.4,1050.6L1212.6,1050.3L1212.7,1050L1212.9,1049.7L1213,1049.4L1213.2,1049L1213.3,1048.7L1213.5,1048.4L1213.6,1048.1L1213.8,1047.7L1213.9,1047.4L1214,1047.1L1214.2,1046.7L1214.3,1046.4L1214.5,1046L1214.6,1045.7L1214.8,1045.3L1214.9,1044.9L1215.1,1044.6L1215.2,1044.2L1215.3,1043.8L1215.5,1043.5L1215.6,1043.1L1215.8,1042.7L1215.9,1042.3L1216.1,1041.9L1216.2,1041.5L1216.4,1041.1L1216.5,1040.7L1216.7,1040.3L1216.8,1039.9L1216.9,1039.5L1217.1,1039.1L1217.2,1038.7L1217.4,1038.2L1217.5,1037.8L1217.7,1037.4L1217.8,1036.9L1218,1036.5L1218.1,1036.1L1218.3,1035.6L1218.4,1035.2L1218.5,1034.7L1218.7,1034.3L1218.8,1033.8L1219,1033.3L1219.1,1032.9L1219.3,1032.4L1219.4,1031.9L1219.6,1031.5L1219.7,1031L1219.8,1030.5L1220,1030L1220.1,1029.5L1220.3,1029L1220.4,1028.5L1220.6,1028L1220.7,1027.5L1220.9,1027L1221,1026.5L1221.2,1026L1221.3,1025.5L1221.4,1025L1221.6,1024.5L1221.7,1024L1221.9,1023.5L1222,1022.9L1222.2,1022.4L1222.3,1021.9L1222.5,1021.3L1222.6,1020.8L1222.8,1020.3L1222.9,1019.7L1223,1019.2L1223.2,1018.7L1223.3,1018.1L1223.5,1017.6L1223.6,1017L1223.8,1016.5L1223.9,1015.9L1224.1,1015.4L1224.2,1014.8L1224.3,1014.3L1224.5,1013.7L1224.6,1013.2L1224.8,1012.6L1224.9,1012L1225.1,1011.5L1225.2,1010.9L1225.4,1010.4L1225.5,1009.8L1225.7,1009.2L1225.8,1008.7L1225.9,1008.1L1226.1,1007.5L1226.2,1007L1226.4,1006.4L1226.5,1005.8L1226.7,1005.3L1226.8,1004.7L1227,1004.1L1227.1,1003.6L1227.3,1003L1227.4,1002.4L1227.5,1001.8L1227.7,1001.3L1227.8,1000.7L1228,1000.1L1228.1,999.6L1228.3,999L1228.4,998.5L1228.6,997.9L1228.7,997.3L1228.8,996.8L1229,996.2L1229.1,995.6L1229.3,995.1L1229.4,994.5L1229.6,994L1229.7,993.4L1229.9,992.9L1230,992.3L1230.2,991.8L1230.3,991.2L1230.4,990.7L1230.6,990.2L1230.7,989.6L1230.9,989.1L1231,988.6L1231.2,988L1231.3,987.5L1231.5,987L1231.6,986.5L1231.8,985.9L1231.9,985.4L1232,984.9L1232.2,984.4L1232.3,983.9L1232.5,983.4L1232.6,982.9L1232.8,982.4L1232.9,981.9L1233.1,981.4L1233.2,981L1233.3,980.5L1233.5,980L1233.6,979.5L1233.8,979.1L1233.9,978.6L1234.1,978.2L1234.2,977.7L1234.4,977.3L1234.5,976.8L1234.7,976.4L1234.8,976L1234.9,975.5L1235.1,975.1L1235.2,974.7L1235.4,974.3L1235.5,973.9L1235.7,973.5L1235.8,973.1L1236,972.7L1236.1,972.3L1236.3,972L1236.4,971.6L1236.5,971.2L1236.7,970.9L1236.8,970.5L1237,970.2L1237.1,969.8L1237.3,969.5L1237.4,969.2L1237.6,968.9L1237.7,968.5L1237.8,968.2L1238,967.9L1238.1,967.7L1238.3,967.4L1238.4,967.1L1238.6,966.8L1238.7,966.6L1238.9,966.3L1239,966L1239.2,965.8L1239.3,965.6L1239.4,965.3L1239.6,965.1L1239.7,964.9L1239.9,964.7L1240,964.5L1240.2,964.3L1240.3,964.1L1240.5,963.9L1240.6,963.8L1240.8,963.6L1240.9,963.5L1241,963.3L1241.2,963.2L1241.3,963L1241.5,962.9L1241.6,962.8L1241.8,962.7L1241.9,962.6L1242.1,962.5L1242.2,962.4L1242.3,962.4L1242.5,962.3L1242.6,962.2L1242.8,962.2L1242.9,962.1L1243.1,962.1L1243.2,962.1L1243.4,962L1243.5,962L1243.7,962L1243.8,962L1243.9,962L1244.1,962L1244.2,962L1244.4,962L1244.5,962L1244.7,962.1L1244.8,962.1L1245,962.1L1245.1,962.2L1245.3,962.2L1245.4,962.3L1245.5,962.3L1245.7,962.4L1245.8,962.4L1246,962.5L1246.1,962.6L1246.3,962.7L1246.4,962.7L1246.6,962.8L1246.7,962.9L1246.8,963L1247,963.1L1247.1,963.2L1247.3,963.4L1247.4,963.5L1247.6,963.6L1247.7,963.7L1247.9,963.9L1248,964L1248.2,964.1L1248.3,964.3L1248.4,964.4L1248.6,964.6L1248.7,964.7L1248.9,964.9L1249,965.1L1249.2,965.2L1249.3,965.4L1249.5,965.6L1249.6,965.8L1249.7,966L1249.9,966.2L1250,966.3L1250.2,966.5L1250.3,966.7L1250.5,967L1250.6,967.2L1250.8,967.4L1250.9,967.6L1251.1,967.8L1251.2,968L1251.3,968.3L1251.5,968.5L1251.6,968.7L1251.8,969L1251.9,969.2L1252.1,969.5L1252.2,969.7L1252.4,969.9L1252.5,970.2L1252.7,970.5L1252.8,970.7L1252.9,971L1253.1,971.2L1253.2,971.5L1253.4,971.8L1253.5,972L1253.7,972.3L1253.8,972.6L1254,972.9L1254.1,973.1L1254.2,973.4L1254.4,973.7L1254.5,974L1254.7,974.3L1254.8,974.6L1255,974.9L1255.1,975.2L1255.3,975.5L1255.4,975.8L1255.6,976.1L1255.7,976.4L1255.8,976.7L1256,977L1256.1,977.3L1256.3,977.6L1256.4,977.9L1256.6,978.2L1256.7,978.5L1256.9,978.8L1257,979.1L1257.2,979.4L1257.3,979.7L1257.4,980L1257.6,980.3L1257.7,980.7L1257.9,981L1258,981.3L1258.2,981.6L1258.3,981.9L1258.5,982.2L1258.6,982.5L1258.7,982.8L1258.9,983.2L1259,983.5L1259.2,983.8L1259.3,984.1L1259.5,984.4L1259.6,984.7L1259.8,985L1259.9,985.3L1260.1,985.6L1260.2,985.9L1260.3,986.3L1260.5,986.6L1260.6,986.9L1260.8,987.2L1260.9,987.5L1261.1,987.8L1261.2,988.1L1261.4,988.4L1261.5,988.7L1261.7,989L1261.8,989.3L1261.9,989.6L1262.1,989.9L1262.2,990.1L1262.4,990.4L1262.5,990.7L1262.7,991L1262.8,991.3L1263,991.6L1263.1,991.8L1263.2,992.1L1263.4,992.4L1263.5,992.7L1263.7,992.9L1263.8,993.2L1264,993.5L1264.1,993.7L1264.3,994L1264.4,994.3L1264.6,994.5L1264.7,994.8L1264.8,995L1265,995.3L1265.1,995.5L1265.3,995.7L1265.4,996L1265.6,996.2L1265.7,996.4L1265.9,996.7L1266,996.9L1266.2,997.1L1266.3,997.3L1266.4,997.6L1266.6,997.8L1266.7,998L1266.9,998.2L1267,998.4L1267.2,998.6L1267.3,998.8L1267.5,999L1267.6,999.2L1267.7,999.4L1267.9,999.5L1268,999.7L1268.2,999.9L1268.3,1000.1L1268.5,1000.2L1268.6,1000.4L1268.8,1000.6L1268.9,1000.7L1269.1,1000.9L1269.2,1001L1269.3,1001.2L1269.5,1001.3L1269.6,1001.4L1269.8,1001.6L1269.9,1001.7L1270.1,1001.8L1270.2,1001.9L1270.4,1002.1L1270.5,1002.2L1270.7,1002.3L1270.8,1002.4L1270.9,1002.5L1271.1,1002.6L1271.2,1002.7L1271.4,1002.8L1271.5,1002.8L1271.7,1002.9L1271.8,1003L1272,1003.1L1272.1,1003.1L1272.2,1003.2L1272.4,1003.3L1272.5,1003.3L1272.7,1003.4L1272.8,1003.4L1273,1003.5L1273.1,1003.5L1273.3,1003.5L1273.4,1003.6L1273.6,1003.6L1273.7,1003.6L1273.8,1003.6L1274,1003.7L1274.1,1003.7L1274.3,1003.7L1274.4,1003.7L1274.6,1003.7L1274.7,1003.7L1274.9,1003.7L1275,1003.6L1275.2,1003.6L1275.3,1003.6L1275.4,1003.6L1275.6,1003.6L1275.7,1003.5L1275.9,1003.5L1276,1003.4L1276.2,1003.4L1276.3,1003.3L1276.5,1003.3L1276.6,1003.2L1276.7,1003.2L1276.9,1003.1L1277,1003.1L1277.2,1003L1277.3,1002.9L1277.5,1002.8L1277.6,1002.8L1277.8,1002.7L1277.9,1002.6L1278.1,1002.5L1278.2,1002.4L1278.3,1002.3L1278.5,1002.2L1278.6,1002.1L1278.8,1002L1278.9,1001.9L1279.1,1001.8L1279.2,1001.6L1279.4,1001.5L1279.5,1001.4L1279.7,1001.3L1279.8,1001.1L1279.9,1001L1280.1,1000.9L1280.2,1000.7L1280.4,1000.6L1280.5,1000.5L1280.7,1000.3L1280.8,1000.2L1281,1000L1281.1,999.9L1281.2,999.7L1281.4,999.6L1281.5,999.4L1281.7,999.2L1281.8,999.1L1282,998.9L1282.1,998.7L1282.3,998.6L1282.4,998.4L1282.6,998.2L1282.7,998L1282.8,997.9L1283,997.7L1283.1,997.5L1283.3,997.3L1283.4,997.1L1283.6,997L1283.7,996.8L1283.9,996.6L1284,996.4L1284.2,996.2L1284.3,996L1284.4,995.8L1284.6,995.6L1284.7,995.4L1284.9,995.2L1285,995L1285.2,994.8L1285.3,994.6L1285.5,994.4L1285.6,994.2L1285.7,994L1285.9,993.8L1286,993.6L1286.2,993.4L1286.3,993.2L1286.5,993L1286.6,992.8L1286.8,992.6L1286.9,992.4L1287.1,992.2L1287.2,992L1287.3,991.8L1287.5,991.6L1287.6,991.4L1287.8,991.2L1287.9,991L1288.1,990.8L1288.2,990.6L1288.4,990.4L1288.5,990.2L1288.7,990L1288.8,989.8L1288.9,989.6L1289.1,989.4L1289.2,989.2L1289.4,989L1289.5,988.8L1289.7,988.6L1289.8,988.4L1290,988.2L1290.1,988L1290.2,987.9L1290.4,987.7L1290.5,987.5L1290.7,987.3L1290.8,987.1L1291,986.9L1291.1,986.8L1291.3,986.6L1291.4,986.4L1291.6,986.2L1291.7,986.1L1291.8,985.9L1292,985.7L1292.1,985.6L1292.3,985.4L1292.4,985.2L1292.6,985.1L1292.7,984.9L1292.9,984.8L1293,984.6L1293.1,984.5L1293.3,984.3L1293.4,984.2L1293.6,984.1L1293.7,983.9L1293.9,983.8L1294,983.6L1294.2,983.5L1294.3,983.4L1294.5,983.3L1294.6,983.1L1294.7,983L1294.9,982.9L1295,982.8L1295.2,982.7L1295.3,982.6L1295.5,982.5L1295.6,982.4L1295.8,982.3L1295.9,982.2L1296.1,982.1L1296.2,982L1296.3,981.9L1296.5,981.9L1296.6,981.8L1296.8,981.7L1296.9,981.7L1297.1,981.6L1297.2,981.5L1297.4,981.5L1297.5,981.4L1297.6,981.4L1297.8,981.3L1297.9,981.3L1298.1,981.2L1298.2,981.2L1298.4,981.2L1298.5,981.2L1298.7,981.1L1298.8,981.1L1299,981.1L1299.1,981.1L1299.2,981.1L1299.4,981.1L1299.5,981.1L1299.7,981.1L1299.8,981.1L1300,981.1L1300.1,981.1L1300.3,981.1L1300.4,981.2L1300.6,981.2L1300.7,981.2L1300.8,981.3L1301,981.3L1301.1,981.4L1301.3,981.4L1301.4,981.5L1301.6,981.6L1301.7,981.6L1301.9,981.7L1302,981.8L1302.1,981.9L1302.3,982L1302.4,982.1L1302.6,982.2L1302.7,982.3L1302.9,982.5L1303,982.6L1303.2,982.7L1303.3,982.9L1303.5,983L1303.6,983.2L1303.7,983.3L1303.9,983.5L1304,983.7L1304.2,983.8L1304.3,984L1304.5,984.2L1304.6,984.4L1304.8,984.6L1304.9,984.8L1305.1,985L1305.2,985.2L1305.3,985.4L1305.5,985.7L1305.6,985.9L1305.8,986.1L1305.9,986.4L1306.1,986.6L1306.2,986.9L1306.4,987.1L1306.5,987.4L1306.6,987.7L1306.8,987.9L1306.9,988.2L1307.1,988.5L1307.2,988.8L1307.4,989.1L1307.5,989.4L1307.7,989.7L1307.8,990L1308,990.3L1308.1,990.6L1308.2,990.9L1308.4,991.2L1308.5,991.6L1308.7,991.9L1308.8,992.2L1309,992.6L1309.1,992.9L1309.3,993.3L1309.4,993.6L1309.6,994L1309.7,994.3L1309.8,994.7L1310,995L1310.1,995.4L1310.3,995.8L1310.4,996.2L1310.6,996.6L1310.7,996.9L1310.9,997.3L1311,997.7L1311.1,998.1L1311.3,998.5L1311.4,998.9L1311.6,999.3L1311.7,999.7L1311.9,1000.1L1312,1000.5L1312.2,1000.9L1312.3,1001.4L1312.5,1001.8L1312.6,1002.2L1312.7,1002.6L1312.9,1003L1313,1003.5L1313.2,1003.9L1313.3,1004.3L1313.5,1004.8L1313.6,1005.2L1313.8,1005.6L1313.9,1006.1L1314.1,1006.5L1314.2,1007L1314.3,1007.4L1314.5,1007.8L1314.6,1008.3L1314.8,1008.7L1314.9,1009.2L1315.1,1009.6L1315.2,1010.1L1315.4,1010.5L1315.5,1011L1315.6,1011.4L1315.8,1011.9L1315.9,1012.3L1316.1,1012.8L1316.2,1013.3L1316.4,1013.7L1316.5,1014.2L1316.7,1014.6L1316.8,1015.1L1317,1015.5L1317.1,1016L1317.2,1016.4L1317.4,1016.9L1317.5,1017.4L1317.7,1017.8L1317.8,1018.3L1318,1018.7L1318.1,1019.2L1318.3,1019.6L1318.4,1020.1L1318.6,1020.5L1318.7,1021L1318.8,1021.5L1319,1021.9L1319.1,1022.4L1319.3,1022.8L1319.4,1023.3L1319.6,1023.7L1319.7,1024.1L1319.9,1024.6L1320,1025L1320.1,1025.5L1320.3,1025.9L1320.4,1026.4L1320.6,1026.8L1320.7,1027.2L1320.9,1027.7L1321,1028.1L1321.2,1028.5L1321.3,1029L1321.5,1029.4L1321.6,1029.8L1321.7,1030.3L1321.9,1030.7L1322,1031.1L1322.2,1031.5L1322.3,1031.9L1322.5,1032.4L1322.6,1032.8L1322.8,1033.2L1322.9,1033.6L1323.1,1034L1323.2,1034.4L1323.3,1034.8L1323.5,1035.2L1323.6,1035.6L1323.8,1036L1323.9,1036.4L1324.1,1036.8L1324.2,1037.2L1324.4,1037.6L1324.5,1038L1324.6,1038.4L1324.8,1038.7L1324.9,1039.1L1325.1,1039.5L1325.2,1039.9L1325.4,1040.2L1325.5,1040.6L1325.7,1041L1325.8,1041.3L1326,1041.7L1326.1,1042L1326.2,1042.4L1326.4,1042.8L1326.5,1043.1L1326.7,1043.4L1326.8,1043.8L1327,1044.1L1327.1,1044.5L1327.3,1044.8L1327.4,1045.1L1327.6,1045.5L1327.7,1045.8L1327.8,1046.1L1328,1046.4L1328.1,1046.7L1328.3,1047.1L1328.4,1047.4L1328.6,1047.7L1328.7,1048L1328.9,1048.3L1329,1048.6L1329.1,1048.9L1329.3,1049.2L1329.4,1049.5L1329.6,1049.8L1329.7,1050.1L1329.9,1050.3L1330,1050.6L1330.2,1050.9L1330.3,1051.2L1330.5,1051.4L1330.6,1051.7L1330.7,1052L1330.9,1052.2L1331,1052.5L1331.2,1052.7L1331.3,1053L1331.5,1053.3L1331.6,1053.5L1331.8,1053.7L1331.9,1054L1332,1054.2L1332.2,1054.5L1332.3,1054.7L1332.5,1054.9L1332.6,1055.2L1332.8,1055.4L1332.9,1055.6L1333.1,1055.8L1333.2,1056L1333.4,1056.3L1333.5,1056.5L1333.6,1056.7L1333.8,1056.9L1333.9,1057.1L1334.1,1057.3L1334.2,1057.5L1334.4,1057.7L1334.5,1057.9L1334.7,1058.1L1334.8,1058.3L1335,1058.4L1335.1,1058.6L1335.2,1058.8L1335.4,1059L1335.5,1059.2L1335.7,1059.3L1335.8,1059.5L1336,1059.7L1336.1,1059.8L1336.3,1060L1336.4,1060.2L1336.5,1060.3L1336.7,1060.5L1336.8,1060.6L1337,1060.8L1337.1,1060.9L1337.3,1061.1L1337.4,1061.2L1337.6,1061.4L1337.7,1061.5L1337.9,1061.7L1338,1061.8L1338.1,1061.9L1338.3,1062.1L1338.4,1062.2L1338.6,1062.3L1338.7,1062.4L1338.9,1062.6L1339,1062.7L1339.2,1062.8L1339.3,1062.9L1339.5,1063L1339.6,1063.2L1339.7,1063.3L1339.9,1063.4L1340,1063.5L1340.2,1063.6L1340.3,1063.7L1340.5,1063.8L1340.6,1063.9L1340.8,1064L1340.9,1064.1L1341,1064.2L1341.2,1064.3L1341.3,1064.4L1341.5,1064.5L1341.6,1064.6L1341.8,1064.6L1341.9,1064.7L1342.1,1064.8L1342.2,1064.9L1342.4,1065L1342.5,1065.1L1342.6,1065.1L1342.8,1065.2L1342.9,1065.3L1343.1,1065.4L1343.2,1065.4L1343.4,1065.5L1343.5,1065.6L1343.7,1065.7L1343.8,1065.7L1344,1065.8L1344.1,1065.8L1344.2,1065.9L1344.4,1066L1344.5,1066L1344.7,1066.1L1344.8,1066.2L1345,1066.2L1345.1,1066.3L1345.3,1066.3L1345.4,1066.4L1345.5,1066.4L1345.7,1066.5L1345.8,1066.5L1346,1066.6L1346.1,1066.6L1346.3,1066.7L1346.4,1066.7L1346.6,1066.8L1346.7,1066.8L1346.9,1066.9L1347,1066.9L1347.1,1066.9L1347.3,1067L1347.4,1067L1347.6,1067.1L1347.7,1067.1L1347.9,1067.1L1348,1067.2L1348.2,1067.2L1348.3,1067.2L1348.5,1067.3L1348.6,1067.3L1348.7,1067.3L1348.9,1067.4L1349,1067.4L1349.2,1067.4L1349.3,1067.5L1349.5,1067.5L1349.6,1067.5L1349.8,1067.5L1349.9,1067.6L1350,1067.6L1350.2,1067.6L1350.3,1067.6L1350.5,1067.7L1350.6,1067.7L1350.8,1067.7L1350.9,1067.7L1351.1,1067.7L1351.2,1067.8L1351.4,1067.8L1351.5,1067.8L1351.6,1067.8L1351.8,1067.8L1351.9,1067.9L1352.1,1067.9L1352.2,1067.9L1352.4,1067.9L1352.5,1067.9L1352.7,1067.9L1352.8,1067.9L1353,1068L1353.1,1068L1353.2,1068L1353.4,1068L1353.5,1068L1353.7,1068L1353.8,1068L1354,1068L1354.1,1068L1354.3,1068.1L1354.4,1068.1L1354.5,1068.1L1354.7,1068.1L1354.8,1068.1L1355,1068.1L1355.1,1068.1L1355.3,1068.1L1355.4,1068.1L1355.6,1068.1L1355.7,1068.1L1355.9,1068.1L1356,1068.1L1356.1,1068.1L1356.3,1068.1L1356.4,1068.1L1356.6,1068.1L1356.7,1068.1L1356.9,1068.1L1357,1068.1L1357.2,1068.1L1357.3,1068.1L1357.5,1068.1L1357.6,1068.1L1357.7,1068.1L1357.9,1068.1L1358,1068.1L1358.2,1068.1L1358.3,1068.1L1358.5,1068.1L1358.6,1068.1L1358.8,1068.1L1358.9,1068.1L1359,1068.1L1359.2,1068.1L1359.3,1068.1L1359.5,1068.1L1359.6,1068.1L1359.8,1068.1L1359.9,1068.1L1360.1,1068.1L1360.2,1068.1L1360.4,1068.1L1360.5,1068.1L1360.6,1068L1360.8,1068L1360.9,1068L1361.1,1068L1361.2,1068L1361.4,1068L1361.5,1068L1361.7,1068L1361.8,1068L1362,1067.9L1362.1,1067.9L1362.2,1067.9L1362.4,1067.9L1362.5,1067.9L1362.7,1067.9L1362.8,1067.9L1363,1067.9L1363.1,1067.8L1363.3,1067.8L1363.4,1067.8L1363.5,1067.8L1363.7,1067.8L1363.8,1067.8L1364,1067.7L1364.1,1067.7L1364.3,1067.7L1364.4,1067.7L1364.6,1067.7L1364.7,1067.6L1364.9,1067.6L1365,1067.6L1365.1,1067.6L1365.3,1067.6L1365.4,1067.5L1365.6,1067.5L1365.7,1067.5L1365.9,1067.5L1366,1067.4L1366.2,1067.4L1366.3,1067.4L1366.5,1067.4L1366.6,1067.3L1366.7,1067.3L1366.9,1067.3L1367,1067.3L1367.2,1067.2L1367.3,1067.2L1367.5,1067.2L1367.6,1067.2L1367.8,1067.1L1367.9,1067.1L1368,1067.1L1368.2,1067L1368.3,1067L1368.5,1067L1368.6,1066.9L1368.8,1066.9L1368.9,1066.9L1369.1,1066.8L1369.2,1066.8L1369.4,1066.7L1369.5,1066.7L1369.6,1066.7L1369.8,1066.6L1369.9,1066.6L1370.1,1066.5L1370.2,1066.5L1370.4,1066.5L1370.5,1066.4L1370.7,1066.4L1370.8,1066.3L1371,1066.3L1371.1,1066.2L1371.2,1066.2L1371.4,1066.1L1371.5,1066.1L1371.7,1066.1L1371.8,1066L1372,1066L1372.1,1065.9L1372.3,1065.8L1372.4,1065.8L1372.5,1065.7L1372.7,1065.7L1372.8,1065.6L1373,1065.6L1373.1,1065.5L1373.3,1065.5L1373.4,1065.4L1373.6,1065.3L1373.7,1065.3L1373.9,1065.2L1374,1065.2L1374.1,1065.1L1374.3,1065L1374.4,1065L1374.6,1064.9L1374.7,1064.8L1374.9,1064.8L1375,1064.7L1375.2,1064.6L1375.3,1064.5L1375.4,1064.5L1375.6,1064.4L1375.7,1064.3L1375.9,1064.2L1376,1064.2L1376.2,1064.1L1376.3,1064L1376.5,1063.9L1376.6,1063.8L1376.8,1063.8L1376.9,1063.7L1377,1063.6L1377.2,1063.5L1377.3,1063.4L1377.5,1063.3L1377.6,1063.2L1377.8,1063.1L1377.9,1063L1378.1,1063L1378.2,1062.9L1378.4,1062.8L1378.5,1062.7L1378.6,1062.6L1378.8,1062.5L1378.9,1062.4L1379.1,1062.3L1379.2,1062.2L1379.4,1062L1379.5,1061.9L1379.7,1061.8L1379.8,1061.7L1379.9,1061.6L1380.1,1061.5L1380.2,1061.4L1380.4,1061.3L1380.5,1061.1L1380.7,1061L1380.8,1060.9L1381,1060.8L1381.1,1060.7L1381.3,1060.5L1381.4,1060.4L1381.5,1060.3L1381.7,1060.1L1381.8,1060L1382,1059.9L1382.1,1059.7L1382.3,1059.6L1382.4,1059.5L1382.6,1059.3L1382.7,1059.2L1382.9,1059L1383,1058.9L1383.1,1058.7L1383.3,1058.6L1383.4,1058.5L1383.6,1058.3L1383.7,1058.1L1383.9,1058L1384,1057.8L1384.2,1057.7L1384.3,1057.5L1384.4,1057.3L1384.6,1057.2L1384.7,1057L1384.9,1056.8L1385,1056.7L1385.2,1056.5L1385.3,1056.3L1385.5,1056.2L1385.6,1056L1385.8,1055.8L1385.9,1055.6L1386,1055.4L1386.2,1055.3L1386.3,1055.1L1386.5,1054.9L1386.6,1054.7L1386.8,1054.5L1386.9,1054.3L1387.1,1054.1L1387.2,1053.9L1387.4,1053.7L1387.5,1053.5L1387.6,1053.3L1387.8,1053.1L1387.9,1052.9L1388.1,1052.7L1388.2,1052.5L1388.4,1052.2L1388.5,1052L1388.7,1051.8L1388.8,1051.6L1388.9,1051.4L1389.1,1051.1L1389.2,1050.9L1389.4,1050.7L1389.5,1050.4L1389.7,1050.2L1389.8,1050L1390,1049.7L1390.1,1049.5L1390.3,1049.2L1390.4,1049L1390.5,1048.8L1390.7,1048.5L1390.8,1048.3L1391,1048L1391.1,1047.8L1391.3,1047.5L1391.4,1047.2L1391.6,1047L1391.7,1046.7L1391.9,1046.4L1392,1046.2L1392.1,1045.9L1392.3,1045.6L1392.4,1045.4L1392.6,1045.1L1392.7,1044.8L1392.9,1044.5L1393,1044.2L1393.2,1044L1393.3,1043.7L1393.4,1043.4L1393.6,1043.1L1393.7,1042.8L1393.9,1042.5L1394,1042.2L1394.2,1041.9L1394.3,1041.6L1394.5,1041.3L1394.6,1041L1394.8,1040.7L1394.9,1040.4L1395,1040.1L1395.2,1039.7L1395.3,1039.4L1395.5,1039.1L1395.6,1038.8L1395.8,1038.5L1395.9,1038.1L1396.1,1037.8L1396.2,1037.5L1396.4,1037.1L1396.5,1036.8L1396.6,1036.5L1396.8,1036.1L1396.9,1035.8L1397.1,1035.5L1397.2,1035.1L1397.4,1034.8L1397.5,1034.4L1397.7,1034.1L1397.8,1033.7L1397.9,1033.4L1398.1,1033L1398.2,1032.7L1398.4,1032.3L1398.5,1031.9L1398.7,1031.6L1398.8,1031.2L1399,1030.9L1399.1,1030.5L1399.3,1030.1L1399.4,1029.7L1399.5,1029.4L1399.7,1029L1399.8,1028.6L1400,1028.2L1400.1,1027.9L1400.3,1027.5L1400.4,1027.1L1400.6,1026.7L1400.7,1026.3L1400.9,1025.9L1401,1025.6L1401.1,1025.2L1401.3,1024.8L1401.4,1024.4L1401.6,1024L1401.7,1023.6L1401.9,1023.2L1402,1022.8L1402.2,1022.4L1402.3,1022L1402.4,1021.6L1402.6,1021.2L1402.7,1020.8L1402.9,1020.4L1403,1020L1403.2,1019.6L1403.3,1019.2L1403.5,1018.7L1403.6,1018.3L1403.8,1017.9L1403.9,1017.5L1404,1017.1L1404.2,1016.7L1404.3,1016.3L1404.5,1015.8L1404.6,1015.4L1404.8,1015L1404.9,1014.6L1405.1,1014.2L1405.2,1013.8L1405.4,1013.3L1405.5,1012.9L1405.6,1012.5L1405.8,1012.1L1405.9,1011.6L1406.1,1011.2L1406.2,1010.8L1406.4,1010.4L1406.5,1009.9L1406.7,1009.5L1406.8,1009.1L1406.9,1008.7L1407.1,1008.2L1407.2,1007.8L1407.4,1007.4L1407.5,1007L1407.7,1006.5L1407.8,1006.1L1408,1005.7L1408.1,1005.3L1408.3,1004.8L1408.4,1004.4L1408.5,1004L1408.7,1003.6L1408.8,1003.1L1409,1002.7L1409.1,1002.3L1409.3,1001.9L1409.4,1001.4L1409.6,1001L1409.7,1000.6L1409.9,1000.2L1410,999.7L1410.1,999.3L1410.3,998.9L1410.4,998.5L1410.6,998.1L1410.7,997.6L1410.9,997.2L1411,996.8L1411.2,996.4L1411.3,996L1411.4,995.6L1411.6,995.1L1411.7,994.7L1411.9,994.3L1412,993.9L1412.2,993.5L1412.3,993.1L1412.5,992.7L1412.6,992.3L1412.8,991.9L1412.9,991.5L1413,991.1L1413.2,990.7L1413.3,990.3L1413.5,989.9L1413.6,989.5L1413.8,989.1L1413.9,988.7L1414.1,988.4L1414.2,988L1414.4,987.6L1414.5,987.2L1414.6,986.8L1414.8,986.4L1414.9,986.1L1415.1,985.7L1415.2,985.3L1415.4,985L1415.5,984.6L1415.7,984.2L1415.8,983.9L1415.9,983.5L1416.1,983.2L1416.2,982.8L1416.4,982.5L1416.5,982.1L1416.7,981.8L1416.8,981.4L1417,981.1L1417.1,980.7L1417.3,980.4L1417.4,980.1L1417.5,979.7L1417.7,979.4L1417.8,979.1L1418,978.8L1418.1,978.5L1418.3,978.1L1418.4,977.8L1418.6,977.5L1418.7,977.2L1418.8,976.9L1419,976.6L1419.1,976.3L1419.3,976L1419.4,975.7L1419.6,975.5L1419.7,975.2L1419.9,974.9L1420,974.6L1420.2,974.4L1420.3,974.1L1420.4,973.8L1420.6,973.6L1420.7,973.3L1420.9,973.1L1421,972.8L1421.2,972.6L1421.3,972.3L1421.5,972.1L1421.6,971.9L1421.8,971.6L1421.9,971.4L1422,971.2L1422.2,971L1422.3,970.8L1422.5,970.6L1422.6,970.4L1422.8,970.2L1422.9,970L1423.1,969.8L1423.2,969.6L1423.3,969.4L1423.5,969.2L1423.6,969L1423.8,968.9L1423.9,968.7L1424.1,968.5L1424.2,968.4L1424.4,968.2L1424.5,968.1L1424.7,967.9L1424.8,967.8L1424.9,967.7L1425.1,967.5L1425.2,967.4L1425.4,967.3L1425.5,967.2L1425.7,967.1L1425.8,967L1426,966.9L1426.1,966.8L1426.3,966.7L1426.4,966.6L1426.5,966.5L1426.7,966.4L1426.8,966.3L1427,966.3L1427.1,966.2L1427.3,966.1L1427.4,966.1L1427.6,966L1427.7,966L1427.8,965.9L1428,965.9L1428.1,965.9L1428.3,965.8L1428.4,965.8L1428.6,965.8L1428.7,965.8L1428.9,965.8L1429,965.8L1429.2,965.8L1429.3,965.8L1429.4,965.8L1429.6,965.8L1429.7,965.8L1429.9,965.8L1430,965.8L1430.2,965.8L1430.3,965.9L1430.5,965.9L1430.6,965.9L1430.8,966L1430.9,966L1431,966L1431.2,966.1L1431.3,966.1L1431.5,966.2L1431.6,966.2L1431.8,966.3L1431.9,966.4L1432.1,966.4L1432.2,966.5L1432.3,966.6L1432.5,966.7L1432.6,966.7L1432.8,966.8L1432.9,966.9L1433.1,967L1433.2,967.1L1433.4,967.2L1433.5,967.3L1433.7,967.4L1433.8,967.5L1433.9,967.6L1434.1,967.7L1434.2,967.8L1434.4,967.9L1434.5,968.1L1434.7,968.2L1434.8,968.3L1435,968.4L1435.1,968.6L1435.3,968.7L1435.4,968.8L1435.5,969L1435.7,969.1L1435.8,969.3L1436,969.4L1436.1,969.6L1436.3,969.7L1436.4,969.9L1436.6,970.1L1436.7,970.2L1436.8,970.4L1437,970.6L1437.1,970.7L1437.3,970.9L1437.4,971.1L1437.6,971.3L1437.7,971.5L1437.9,971.6L1438,971.8L1438.2,972L1438.3,972.2L1438.4,972.4L1438.6,972.6L1438.7,972.8L1438.9,973L1439,973.2L1439.2,973.5L1439.3,973.7L1439.5,973.9L1439.6,974.1L1439.8,974.3L1439.9,974.5L1440,974.8L1440.2,975L1440.3,975.2L1440.5,975.5L1440.6,975.7L1440.8,975.9L1440.9,976.2L1441.1,976.4L1441.2,976.6L1441.3,976.9L1441.5,977.1L1441.6,977.4L1441.8,977.6L1441.9,977.9L1442.1,978.1L1442.2,978.4L1442.4,978.7L1442.5,978.9L1442.7,979.2L1442.8,979.4L1442.9,979.7L1443.1,980L1443.2,980.3L1443.4,980.5L1443.5,980.8L1443.7,981.1L1443.8,981.3L1444,981.6L1444.1,981.9L1444.3,982.2L1444.4,982.5L1444.5,982.7L1444.7,983L1444.8,983.3L1445,983.6L1445.1,983.9L1445.3,984.2L1445.4,984.5L1445.6,984.8L1445.7,985.1L1445.8,985.4L1446,985.7L1446.1,985.9L1446.3,986.2L1446.4,986.5L1446.6,986.8L1446.7,987.1L1446.9,987.4L1447,987.7L1447.2,988.1L1447.3,988.4L1447.4,988.7L1447.6,989L1447.7,989.3L1447.9,989.6L1448,989.9L1448.2,990.2L1448.3,990.5L1448.5,990.8L1448.6,991.1L1448.8,991.4L1448.9,991.8L1449,992.1L1449.2,992.4L1449.3,992.7L1449.5,993L1449.6,993.3L1449.8,993.6L1449.9,993.9L1450.1,994.3L1450.2,994.6L1450.3,994.9L1450.5,995.2L1450.6,995.5L1450.8,995.8L1450.9,996.1L1451.1,996.5L1451.2,996.8L1451.4,997.1L1451.5,997.4L1451.7,997.7L1451.8,998L1451.9,998.4L1452.1,998.7L1452.2,999L1452.4,999.3L1452.5,999.6L1452.7,999.9L1452.8,1000.2L1453,1000.5L1453.1,1000.9L1453.3,1001.2L1453.4,1001.5L1453.5,1001.8L1453.7,1002.1L1453.8,1002.4L1454,1002.7L1454.1,1003L1454.3,1003.3L1454.4,1003.6L1454.6,1004L1454.7,1004.3L1454.8,1004.6L1455,1004.9L1455.1,1005.2L1455.3,1005.5L1455.4,1005.8L1455.6,1006.1L1455.7,1006.4L1455.9,1006.7L1456,1007L1456.2,1007.3L1456.3,1007.6L1456.4,1007.9L1456.6,1008.2L1456.7,1008.4L1456.9,1008.7L1457,1009L1457.2,1009.3L1457.3,1009.6L1457.5,1009.9L1457.6,1010.2L1457.7,1010.5L1457.9,1010.7L1458,1011L1458.2,1011.3L1458.3,1011.6L1458.5,1011.9L1458.6,1012.1L1458.8,1012.4L1458.9,1012.7L1459.1,1013L1459.2,1013.2L1459.3,1013.5L1459.5,1013.8L1459.6,1014L1459.8,1014.3L1459.9,1014.6L1460.1,1014.8L1460.2,1015.1L1460.4,1015.3L1460.5,1015.6L1460.7,1015.9L1460.8,1016.1L1460.9,1016.4L1461.1,1016.6L1461.2,1016.9L1461.4,1017.1L1461.5,1017.4L1461.7,1017.6L1461.8,1017.8L1462,1018.1L1462.1,1018.3L1462.2,1018.6L1462.4,1018.8L1462.5,1019L1462.7,1019.2L1462.8,1019.5L1463,1019.7L1463.1,1019.9L1463.3,1020.1L1463.4,1020.4L1463.6,1020.6L1463.7,1020.8L1463.8,1021L1464,1021.2L1464.1,1021.4L1464.3,1021.6L1464.4,1021.8L1464.6,1022.1L1464.7,1022.3L1464.9,1022.5L1465,1022.7L1465.2,1022.8L1465.3,1023L1465.4,1023.2L1465.6,1023.4L1465.7,1023.6L1465.9,1023.8L1466,1024L1466.2,1024.2L1466.3,1024.3L1466.5,1024.5L1466.6,1024.7L1466.7,1024.8L1466.9,1025L1467,1025.2L1467.2,1025.3L1467.3,1025.5L1467.5,1025.7L1467.6,1025.8L1467.8,1026L1467.9,1026.1L1468.1,1026.3L1468.2,1026.4L1468.3,1026.6L1468.5,1026.7L1468.6,1026.9L1468.8,1027L1468.9,1027.1L1469.1,1027.3L1469.2,1027.4L1469.4,1027.5L1469.5,1027.7L1469.7,1027.8L1469.8,1027.9L1469.9,1028L1470.1,1028.2L1470.2,1028.3L1470.4,1028.4L1470.5,1028.5L1470.7,1028.6L1470.8,1028.7L1471,1028.8L1471.1,1028.9L1471.2,1029L1471.4,1029.1L1471.5,1029.2L1471.7,1029.3L1471.8,1029.4L1472,1029.5L1472.1,1029.6L1472.3,1029.6L1472.4,1029.7L1472.6,1029.8L1472.7,1029.9L1472.8,1030L1473,1030L1473.1,1030.1L1473.3,1030.2L1473.4,1030.2L1473.6,1030.3L1473.7,1030.3L1473.9,1030.4L1474,1030.5L1474.2,1030.5L1474.3,1030.6L1474.4,1030.6L1474.6,1030.6L1474.7,1030.7L1474.9,1030.7L1475,1030.8L1475.2,1030.8L1475.3,1030.8L1475.5,1030.9L1475.6,1030.9L1475.7,1030.9L1475.9,1031L1476,1031L1476.2,1031L1476.3,1031L1476.5,1031L1476.6,1031L1476.8,1031.1L1476.9,1031.1L1477.1,1031.1L1477.2,1031.1L1477.3,1031.1L1477.5,1031.1L1477.6,1031.1L1477.8,1031.1L1477.9,1031.1" fill="none" stroke="#e69f00" stroke-width="3.6" stroke-linejoin="round"/><path d="M902.1,634.2a9.0,9.0 0 1,0 18.0,0a9.0,9.0 0 1,0 -18.0,0ZM909.4,766.6a9.0,9.0 0 1,0 18.0,0a9.0,9.0 0 1,0 -18.0,0ZM916.6,853.3a9.0,9.0 0 1,0 18.0,0a9.0,9.0 0 1,0 -18.0,0ZM923.9,977.4a9.0,9.0 0 1,0 18.0,0a9.0,9.0 0 1,0 -18.0,0ZM931.1,1031.8a9.0,9.0 0 1,0 18.0,0a9.0,9.0 0 1,0 -18.0,0ZM938.4,1050.3a9.0,9.0 0 1,0 18.0,0a9.0,9.0 0 1,0 -18.0,0ZM945.7,1060.5a9.0,9.0 0 1,0 18.0,0a9.0,9.0 0 1,0 -18.0,0ZM952.9,1064.6a9.0,9.0 0 1,0 18.0,0a9.0,9.0 0 1,0 -18.0,0ZM960.2,1066.2a9.0,9.0 0 1,0 18.0,0a9.0,9.0 0 1,0 -18.0,0ZM967.4,1066.2a9.0,9.0 0 1,0 18.0,0a9.0,9.0 0 1,0 -18.0,0ZM974.7,1066.2a9.0,9.0 0 1,0 18.0,0a9.0,9.0 0 1,0 -18.0,0ZM981.9,1066.2a9.0,9.0 0 1,0 18.0,0a9.0,9.0 0 1,0 -18.0,0ZM989.2,1066.2a9.0,9.0 0 1,0 18.0,0a9.0,9.0 0 1,0 -18.0,0ZM996.5,1066.2a9.0,9.0 0 1,0 18.0,0a9.0,9.0 0 1,0 -18.0,0ZM1003.7,1066.2a9.0,9.0 0 1,0 18.0,0a9.0,9.0 0 1,0 -18.0,0ZM1011,1066.2a9.0,9.0 0 1,0 18.0,0a9.0,9.0 0 1,0 -18.0,0ZM1018.2,1063.6a9.0,9.0 0 1,0 18.0,0a9.0,9.0 0 1,0 -18.0,0ZM1025.5,1060a9.0,9.0 0 1,0 18.0,0a9.0,9.0 0 1,0 -18.0,0ZM1032.8,1055.4a9.0,9.0 0 1,0 18.0,0a9.0,9.0 0 1,0 -18.0,0ZM1040,1048.7a9.0,9.0 0 1,0 18.0,0a9.0,9.0 0 1,0 -18.0,0ZM1047.3,1035.4a9.0,9.0 0 1,0 18.0,0a9.0,9.0 0 1,0 -18.0,0ZM1054.5,1014.9a9.0,9.0 0 1,0 18.0,0a9.0,9.0 0 1,0 -18.0,0ZM1061.8,989.2a9.0,9.0 0 1,0 18.0,0a9.0,9.0 0 1,0 -18.0,0ZM1069,962.6a9.0,9.0 0 1,0 18.0,0a9.0,9.0 0 1,0 -18.0,0ZM1076.3,941a9.0,9.0 0 1,0 18.0,0a9.0,9.0 0 1,0 -18.0,0ZM1083.6,932.8a9.0,9.0 0 1,0 18.0,0a9.0,9.0 0 1,0 -18.0,0ZM1090.8,936.4a9.0,9.0 0 1,0 18.0,0a9.0,9.0 0 1,0 -18.0,0ZM1098.1,951.3a9.0,9.0 0 1,0 18.0,0a9.0,9.0 0 1,0 -18.0,0ZM1105.3,973.3a9.0,9.0 0 1,0 18.0,0a9.0,9.0 0 1,0 -18.0,0ZM1112.6,996.4a9.0,9.0 0 1,0 18.0,0a9.0,9.0 0 1,0 -18.0,0ZM1119.8,1013.9a9.0,9.0 0 1,0 18.0,0a9.0,9.0 0 1,0 -18.0,0ZM1127.1,1028.7a9.0,9.0 0 1,0 18.0,0a9.0,9.0 0 1,0 -18.0,0ZM1134.4,1038a9.0,9.0 0 1,0 18.0,0a9.0,9.0 0 1,0 -18.0,0ZM1141.6,1043.1a9.0,9.0 0 1,0 18.0,0a9.0,9.0 0 1,0 -18.0,0ZM1148.9,1047.2a9.0,9.0 0 1,0 18.0,0a9.0,9.0 0 1,0 -18.0,0ZM1156.1,1049.8a9.0,9.0 0 1,0 18.0,0a9.0,9.0 0 1,0 -18.0,0ZM1163.4,1051.3a9.0,9.0 0 1,0 18.0,0a9.0,9.0 0 1,0 -18.0,0ZM1170.6,1051.1a9.0,9.0 0 1,0 18.0,0a9.0,9.0 0 1,0 -18.0,0ZM1177.9,1048a9.0,9.0 0 1,0 18.0,0a9.0,9.0 0 1,0 -18.0,0ZM1185.2,1044.2a9.0,9.0 0 1,0 18.0,0a9.0,9.0 0 1,0 -18.0,0ZM1192.4,1039.5a9.0,9.0 0 1,0 18.0,0a9.0,9.0 0 1,0 -18.0,0ZM1199.7,1033.9a9.0,9.0 0 1,0 18.0,0a9.0,9.0 0 1,0 -18.0,0ZM1206.9,1027.7a9.0,9.0 0 1,0 18.0,0a9.0,9.0 0 1,0 -18.0,0ZM1214.2,1020.9a9.0,9.0 0 1,0 18.0,0a9.0,9.0 0 1,0 -18.0,0ZM1221.4,1014a9.0,9.0 0 1,0 18.0,0a9.0,9.0 0 1,0 -18.0,0ZM1228.7,1007.4a9.0,9.0 0 1,0 18.0,0a9.0,9.0 0 1,0 -18.0,0ZM1236,1001.4a9.0,9.0 0 1,0 18.0,0a9.0,9.0 0 1,0 -18.0,0ZM1243.2,996.6a9.0,9.0 0 1,0 18.0,0a9.0,9.0 0 1,0 -18.0,0ZM1250.5,993.3a9.0,9.0 0 1,0 18.0,0a9.0,9.0 0 1,0 -18.0,0ZM1257.7,991.8a9.0,9.0 0 1,0 18.0,0a9.0,9.0 0 1,0 -18.0,0ZM1265,992.1a9.0,9.0 0 1,0 18.0,0a9.0,9.0 0 1,0 -18.0,0ZM1272.2,994.3a9.0,9.0 0 1,0 18.0,0a9.0,9.0 0 1,0 -18.0,0ZM1279.5,998.1a9.0,9.0 0 1,0 18.0,0a9.0,9.0 0 1,0 -18.0,0ZM1286.8,1003.2a9.0,9.0 0 1,0 18.0,0a9.0,9.0 0 1,0 -18.0,0ZM1294,1009.1a9.0,9.0 0 1,0 18.0,0a9.0,9.0 0 1,0 -18.0,0ZM1301.3,1015.3a9.0,9.0 0 1,0 18.0,0a9.0,9.0 0 1,0 -18.0,0ZM1308.5,1021.4a9.0,9.0 0 1,0 18.0,0a9.0,9.0 0 1,0 -18.0,0ZM1315.8,1026.9a9.0,9.0 0 1,0 18.0,0a9.0,9.0 0 1,0 -18.0,0ZM1323,1031.4a9.0,9.0 0 1,0 18.0,0a9.0,9.0 0 1,0 -18.0,0ZM1330.3,1034.6a9.0,9.0 0 1,0 18.0,0a9.0,9.0 0 1,0 -18.0,0ZM1337.6,1036.6a9.0,9.0 0 1,0 18.0,0a9.0,9.0 0 1,0 -18.0,0ZM1344.8,1037.1a9.0,9.0 0 1,0 18.0,0a9.0,9.0 0 1,0 -18.0,0ZM1352.1,1036.3a9.0,9.0 0 1,0 18.0,0a9.0,9.0 0 1,0 -18.0,0ZM1359.3,1034.2a9.0,9.0 0 1,0 18.0,0a9.0,9.0 0 1,0 -18.0,0ZM1366.6,1031.1a9.0,9.0 0 1,0 18.0,0a9.0,9.0 0 1,0 -18.0,0ZM1373.9,1027a9.0,9.0 0 1,0 18.0,0a9.0,9.0 0 1,0 -18.0,0ZM1381.1,1022.4a9.0,9.0 0 1,0 18.0,0a9.0,9.0 0 1,0 -18.0,0ZM1388.4,1017.4a9.0,9.0 0 1,0 18.0,0a9.0,9.0 0 1,0 -18.0,0ZM1395.6,1012.4a9.0,9.0 0 1,0 18.0,0a9.0,9.0 0 1,0 -18.0,0ZM1402.9,1007.8a9.0,9.0 0 1,0 18.0,0a9.0,9.0 0 1,0 -18.0,0ZM1410.1,1003.7a9.0,9.0 0 1,0 18.0,0a9.0,9.0 0 1,0 -18.0,0ZM1417.4,1000.5a9.0,9.0 0 1,0 18.0,0a9.0,9.0 0 1,0 -18.0,0ZM1424.7,998.3a9.0,9.0 0 1,0 18.0,0a9.0,9.0 0 1,0 -18.0,0ZM1431.9,997.4a9.0,9.0 0 1,0 18.0,0a9.0,9.0 0 1,0 -18.0,0ZM1439.2,997.8a9.0,9.0 0 1,0 18.0,0a9.0,9.0 0 1,0 -18.0,0ZM1446.4,999.5a9.0,9.0 0 1,0 18.0,0a9.0,9.0 0 1,0 -18.0,0ZM1453.7,1002.4a9.0,9.0 0 1,0 18.0,0a9.0,9.0 0 1,0 -18.0,0ZM1460.9,1006.2a9.0,9.0 0 1,0 18.0,0a9.0,9.0 0 1,0 -18.0,0ZM1468.2,1010.8a9.0,9.0 0 1,0 18.0,0a9.0,9.0 0 1,0 -18.0,0Z" fill="none" stroke="#e51e10" stroke-width="2"/><path d="M908.9,42.7L909.2,42.7L909.5,42.7L909.8,42.7L910.1,628.2L910.4,635.6L910.7,642.9L911,650.1L911.3,657.1L911.6,664.1L911.8,670.9L912.1,677.6L912.4,684.1L912.7,690.6L913,696.9L913.3,703.2L913.6,709.3L913.9,715.3L914.2,721.2L914.5,727.1L914.7,732.8L915,738.4L915.3,743.9L915.6,749.4L915.9,754.7L916.2,759.9L916.5,765.1L916.8,770.2L917.1,775.1L917.4,780L917.6,784.8L917.9,789.6L918.2,794.2L918.5,798.8L918.8,803.3L919.1,807.7L919.4,812L919.7,816.3L920,820.4L920.3,824.6L920.5,828.6L920.8,832.6L921.1,836.5L921.4,840.3L921.7,844.1L922,847.8L922.3,851.4L922.6,855L922.9,858.5L923.2,862L923.5,866.1L923.7,870.1L924,874.1L924.3,877.9L924.6,881.7L924.9,885.4L925.2,889.1L925.5,892.6L925.8,896.1L926.1,899.5L926.4,902.8L926.6,906.1L926.9,909.3L927.2,912.4L927.5,915.5L927.8,918.5L928.1,921.4L928.4,924.3L928.7,927.1L929,929.9L929.3,932.6L929.5,935.2L929.8,937.8L930.1,940.4L930.4,942.8L930.7,945.3L931,947.6L931.3,950L931.6,952.3L931.9,954.5L932.2,956.7L932.5,958.8L932.7,960.9L933,963L933.3,965L933.6,967L933.9,968.9L934.2,970.8L934.5,972.6L934.8,974.4L935.1,976.2L935.4,977.9L935.6,980.7L935.9,983.3L936.2,985.8L936.5,988.3L936.8,990.7L937.1,993L937.4,995.2L937.7,997.4L938,999.4L938.3,1001.4L938.5,1003.4L938.8,1005.3L939.1,1007.1L939.4,1008.8L939.7,1010.5L940,1012.2L940.3,1013.7L940.6,1015.3L940.9,1016.7L941.2,1018.2L941.5,1019.6L941.7,1020.9L942,1022.2L942.3,1023.4L942.6,1024.6L942.9,1025.8L943.2,1026.9L943.5,1028L943.8,1029.1L944.1,1030.1L944.4,1031.1L944.6,1032L944.9,1032.9L945.2,1033.8L945.5,1034.7L945.8,1035.5L946.1,1036.3L946.4,1037L946.7,1037.6L947,1038.3L947.3,1038.9L947.5,1039.6L947.8,1040.2L948.1,1040.7L948.4,1041.3L948.7,1041.9L949,1042.4L949.3,1042.9L949.6,1043.4L949.9,1043.9L950.2,1044.3L950.5,1044.8L950.7,1045.2L951,1045.7L951.3,1046.1L951.6,1046.5L951.9,1046.9L952.2,1047.3L952.5,1047.6L952.8,1048L953.1,1048.3L953.4,1048.7L953.6,1049L953.9,1049.3L954.2,1049.6L954.5,1049.9L954.8,1050.2L955.1,1050.5L955.4,1050.8L955.7,1051L956,1051.3L956.3,1051.5L956.5,1051.8L956.8,1052L957.1,1052.2L957.4,1052.4L957.7,1052.7L958,1052.9L958.3,1053.1L958.6,1053.3L958.9,1053.4L959.2,1053.6L959.4,1053.8L959.7,1054L960,1054.1L960.3,1054.3L960.6,1054.5L960.9,1054.6L961.2,1054.8L961.5,1054.9L961.8,1055L962.1,1055.2L962.4,1055.3L962.6,1055.4L962.9,1055.6L963.2,1055.7L963.5,1055.8L963.8,1055.9L964.1,1056L964.4,1056.1L964.7,1056.2L965,1056.3L965.3,1056.4L965.5,1056.5L965.8,1056.6L966.1,1056.7L966.4,1056.8L966.7,1056.8L967,1056.9L967.3,1057L967.6,1057.1L967.9,1057.2L968.2,1057.2L968.4,1057.3L968.7,1057.4L969,1057.4L969.3,1057.5L969.6,1057.5L969.9,1057.6L970.2,1057.7L970.5,1057.7L970.8,1057.8L971.1,1057.8L971.4,1057.9L971.6,1057.9L971.9,1058L972.2,1058L972.5,1058.1L972.8,1058.1L973.1,1058.2L973.4,1058.2L973.7,1058.2L974,1058.3L974.3,1058.3L974.5,1058.3L974.8,1058.4L975.1,1058.4L975.4,1058.4L975.7,1058.5L976,1058.5L976.3,1058.5L976.6,1058.6L976.9,1058.6L977.2,1058.6L977.4,1058.7L977.7,1058.7L978,1058.7L978.3,1058.7L978.6,1058.8L978.9,1058.8L979.2,1058.8L979.5,1058.8L979.8,1058.8L980.1,1058.9L980.4,1058.9L980.6,1058.9L980.9,1058.9L981.2,1058.9L981.5,1059L981.8,1059L982.1,1059L982.4,1059L982.7,1059L983,1059L983.3,1059L983.5,1059.1L983.8,1059.1L984.1,1059.1L984.4,1059.1L984.7,1059.1L985,1059.1L985.3,1059.1L985.6,1059.1L985.9,1059.2L986.2,1059.2L986.4,1059.2L986.7,1059.2L987,1059.2L987.3,1059.2L987.6,1059.2L987.9,1059.2L988.2,1059.2L988.5,1059.2L988.8,1059.3L989.1,1059.3L989.4,1059.3L989.6,1059.3L989.9,1059.3L990.2,1059.3L990.5,1059.3L990.8,1059.3L991.1,1059.3L991.4,1059.3L991.7,1059.3L992,1059.3L992.3,1059.3L992.5,1059.3L992.8,1059.3L993.1,1059.3L993.4,1059.4L993.7,1059.4L994,1059.4L994.3,1059.4L994.6,1059.4L994.9,1059.4L995.2,1059.4L995.4,1059.4L995.7,1059.4L996,1059.4L996.3,1059.4L996.6,1059.4L996.9,1059.4L997.2,1059.4L997.5,1059.4L997.8,1059.4L998.1,1059.4L998.4,1059.4L998.6,1059.4L998.9,1059.4L999.2,1059.4L999.5,1059.4L999.8,1059.4L1000.1,1059.4L1000.4,1059.4L1000.7,1059.4L1001,1059.4L1001.3,1059.4L1001.5,1059.4L1001.8,1059.4L1002.1,1059.5L1002.4,1059.5L1002.7,1059.5L1003,1059.5L1003.3,1059.5L1003.6,1059.5L1003.9,1059.5L1004.2,1059.5L1004.4,1059.5L1004.7,1059.5L1005,1059.5L1005.3,1059.5L1005.6,1059.5L1005.9,1059.5L1006.2,1059.5L1006.5,1059.5L1006.8,1059.5L1007.1,1059.5L1007.3,1059.5L1007.6,1059.5L1007.9,1059.5L1008.2,1059.5L1008.5,1059.5L1008.8,1059.5L1009.1,1059.5L1009.4,1059.5L1009.7,1059.5L1010,1059.5L1010.3,1059.5L1010.5,1059.5L1010.8,1059.5L1011.1,1059.5L1011.4,1059.5L1011.7,1059.5L1012,1059.5L1012.3,1059.5L1012.6,1059.5L1012.9,1059.5L1013.2,1059.5L1013.4,1059.5L1013.7,1059.5L1014,1059.5L1014.3,1059.5L1014.6,1059.5L1014.9,1059.5L1015.2,1059.5L1015.5,1059.5L1015.8,1059.5L1016.1,1059.5L1016.3,1059.5L1016.6,1059.5L1016.9,1059.5L1017.2,1059.5L1017.5,1059.5L1017.8,1059.5L1018.1,1059.5L1018.4,1059.5L1018.7,1059.5L1019,1059.5L1019.3,1059.5L1019.5,1059.5L1019.8,1059.5L1020.1,1059.5L1020.4,1059.5L1020.7,1059.5L1021,1059.5L1021.3,1059.5L1021.6,1059.5L1021.9,1059.4L1022.2,1059.4L1022.4,1059.4L1022.7,1059.4L1023,1059.4L1023.3,1059.4L1023.6,1059.4L1023.9,1059.4L1024.2,1059.4L1024.5,1059.4L1024.8,1059.4L1025.1,1059.4L1025.3,1059.4L1025.6,1059.4L1025.9,1059.3L1026.2,1059.3L1026.5,1059.3L1026.8,1059.3L1027.1,1059.3L1027.4,1059.3L1027.7,1059.2L1028,1059.2L1028.3,1059.2L1028.5,1059.2L1028.8,1059.2L1029.1,1059.1L1029.4,1059.1L1029.7,1059.1L1030,1059.1L1030.3,1059L1030.6,1059L1030.9,1059L1031.2,1058.9L1031.4,1058.9L1031.7,1058.8L1032,1058.8L1032.3,1058.8L1032.6,1058.7L1032.9,1058.7L1033.2,1058.6L1033.5,1058.6L1033.8,1058.5L1034.1,1058.4L1034.3,1058.4L1034.6,1058.3L1034.9,1058.2L1035.2,1058.1L1035.5,1058.1L1035.8,1058L1036.1,1057.9L1036.4,1057.8L1036.7,1057.7L1037,1057.6L1037.3,1057.5L1037.5,1057.4L1037.8,1057.3L1038.1,1057.1L1038.4,1057L1038.7,1056.9L1039,1056.7L1039.3,1056.6L1039.6,1056.4L1039.9,1056.3L1040.2,1056.1L1040.4,1056L1040.7,1055.8L1041,1055.6L1041.3,1055.4L1041.6,1055.2L1041.9,1055L1042.2,1054.8L1042.5,1054.6L1042.8,1054.3L1043.1,1054.1L1043.3,1053.8L1043.6,1053.6L1043.9,1053.3L1044.2,1053L1044.5,1052.7L1044.8,1052.5L1045.1,1052.1L1045.4,1051.8L1045.7,1051.5L1046,1051.2L1046.2,1050.8L1046.5,1050.5L1046.8,1050.1L1047.1,1049.7L1047.4,1049.3L1047.7,1048.9L1048,1048.5L1048.3,1048.1L1048.6,1047.7L1048.9,1047.2L1049.2,1046.8L1049.4,1046.3L1049.7,1045.8L1050,1045.3L1050.3,1044.8L1050.6,1044.3L1050.9,1043.8L1051.2,1043.2L1051.5,1042.7L1051.8,1042.1L1052.1,1041.5L1052.3,1040.9L1052.6,1040.3L1052.9,1039.7L1053.2,1039.1L1053.5,1038.5L1053.8,1037.8L1054.1,1037.1L1054.4,1036.5L1054.7,1035.8L1055,1035.1L1055.2,1034.4L1055.5,1033.7L1055.8,1032.9L1056.1,1032.2L1056.4,1031.4L1056.7,1030.7L1057,1029.9L1057.3,1029.1L1057.6,1028.3L1057.9,1027.5L1058.2,1026.7L1058.4,1025.9L1058.7,1025.1L1059,1024.2L1059.3,1023.4L1059.6,1022.5L1059.9,1021.7L1060.2,1020.8L1060.5,1019.9L1060.8,1019.1L1061.1,1018.2L1061.3,1017.3L1061.6,1016.4L1061.9,1015.5L1062.2,1014.6L1062.5,1013.7L1062.8,1012.7L1063.1,1011.8L1063.4,1010.9L1063.7,1010L1064,1009L1064.2,1008.1L1064.5,1007.2L1064.8,1006.2L1065.1,1005.3L1065.4,1004.4L1065.7,1003.4L1066,1002.5L1066.3,1001.6L1066.6,1000.6L1066.9,999.7L1067.2,998.8L1067.4,997.9L1067.7,996.9L1068,996L1068.3,995.1L1068.6,994.2L1068.9,993.3L1069.2,992.4L1069.5,991.5L1069.8,990.6L1070.1,989.8L1070.3,988.9L1070.6,988L1070.9,987.2L1071.2,986.3L1071.5,985.5L1071.8,984.7L1072.1,983.9L1072.4,983L1072.7,982.2L1073,981.5L1073.2,980.7L1073.5,979.9L1073.8,979.2L1074.1,978.4L1074.4,977.7L1074.7,977L1075,976.2L1075.3,975.6L1075.6,974.9L1075.9,974.2L1076.2,973.5L1076.4,972.9L1076.7,972.3L1077,971.6L1077.3,971L1077.6,970.5L1077.9,969.9L1078.2,969.3L1078.5,968.8L1078.8,968.2L1079.1,967.7L1079.3,967.2L1079.6,966.7L1079.9,966.2L1080.2,965.8L1080.5,965.3L1080.8,964.9L1081.1,964.5L1081.4,964.1L1081.7,963.7L1082,963.3L1082.2,962.9L1082.5,962.6L1082.8,962.3L1083.1,961.9L1083.4,961.6L1083.7,961.3L1084,961L1084.3,960.8L1084.6,960.5L1084.9,960.3L1085.1,960L1085.4,959.8L1085.7,959.6L1086,959.4L1086.3,959.2L1086.6,959.1L1086.9,958.9L1087.2,958.8L1087.5,958.6L1087.8,958.5L1088.1,958.4L1088.3,958.3L1088.6,958.1L1088.9,958.1L1089.2,958L1089.5,957.9L1089.8,957.8L1090.1,957.8L1090.4,957.7L1090.7,957.7L1091,957.6L1091.2,957.6L1091.5,957.6L1091.8,957.5L1092.1,957.5L1092.4,957.5L1092.7,957.5L1093,957.5L1093.3,957.4L1093.6,957.4L1093.9,957.4L1094.1,957.4L1094.4,957.4L1094.7,957.4L1095,957.4L1095.3,957.4L1095.6,957.4L1095.9,957.4L1096.2,957.4L1096.5,957.5L1096.8,957.5L1097.1,957.5L1097.3,957.6L1097.6,957.6L1097.9,957.7L1098.2,957.8L1098.5,957.8L1098.8,957.9L1099.1,958L1099.4,958.1L1099.7,958.2L1100,958.4L1100.2,958.5L1100.5,958.6L1100.8,958.8L1101.1,959L1101.4,959.2L1101.7,959.3L1102,959.5L1102.3,959.8L1102.6,960L1102.9,960.2L1103.1,960.5L1103.4,960.8L1103.7,961L1104,961.3L1104.3,961.6L1104.6,962L1104.9,962.3L1105.2,962.6L1105.5,963L1105.8,963.4L1106.1,963.8L1106.3,964.2L1106.6,964.6L1106.9,965L1107.2,965.4L1107.5,965.9L1107.8,966.4L1108.1,966.8L1108.4,967.3L1108.7,967.9L1109,968.4L1109.2,968.9L1109.5,969.5L1109.8,970L1110.1,970.6L1110.4,971.2L1110.7,971.8L1111,972.4L1111.3,973.1L1111.6,973.7L1111.9,974.4L1112.1,975L1112.4,975.7L1112.7,976.4L1113,977.1L1113.3,977.8L1113.6,978.5L1113.9,979.2L1114.2,980L1114.5,980.7L1114.8,981.5L1115.1,982.3L1115.3,983.1L1115.6,983.8L1115.9,984.6L1116.2,985.4L1116.5,986.2L1116.8,987.1L1117.1,987.9L1117.4,988.7L1117.7,989.6L1118,990.4L1118.2,991.2L1118.5,992.1L1118.8,992.9L1119.1,993.8L1119.4,994.7L1119.7,995.5L1120,996.4L1120.3,997.3L1120.6,998.1L1120.9,999L1121.1,999.9L1121.4,1000.7L1121.7,1001.6L1122,1002.5L1122.3,1003.4L1122.6,1004.2L1122.9,1005.1L1123.2,1006L1123.5,1006.8L1123.8,1007.7L1124.1,1008.5L1124.3,1009.4L1124.6,1010.2L1124.9,1011.1L1125.2,1011.9L1125.5,1012.7L1125.8,1013.6L1126.1,1014.4L1126.4,1015.2L1126.7,1016L1127,1016.8L1127.2,1017.6L1127.5,1018.4L1127.8,1019.1L1128.1,1019.9L1128.4,1020.7L1128.7,1021.4L1129,1022.2L1129.3,1022.9L1129.6,1023.6L1129.9,1024.3L1130.1,1025L1130.4,1025.7L1130.7,1026.4L1131,1027L1131.3,1027.7L1131.6,1028.3L1131.9,1029L1132.2,1029.6L1132.5,1030.2L1132.8,1030.8L1133,1031.4L1133.3,1032L1133.6,1032.5L1133.9,1033.1L1134.2,1033.6L1134.5,1034.2L1134.8,1034.7L1135.1,1035.2L1135.4,1035.7L1135.7,1036.2L1136,1036.6L1136.2,1037.1L1136.5,1037.5L1136.8,1038L1137.1,1038.4L1137.4,1038.8L1137.7,1039.2L1138,1039.6L1138.3,1039.9L1138.6,1040.3L1138.9,1040.6L1139.1,1041L1139.4,1041.3L1139.7,1041.6L1140,1041.9L1140.3,1042.2L1140.6,1042.5L1140.9,1042.8L1141.2,1043L1141.5,1043.3L1141.8,1043.5L1142,1043.8L1142.3,1044L1142.6,1044.2L1142.9,1044.4L1143.2,1044.6L1143.5,1044.8L1143.8,1045L1144.1,1045.2L1144.4,1045.3L1144.7,1045.5L1145,1045.6L1145.2,1045.8L1145.5,1045.9L1145.8,1046L1146.1,1046.1L1146.4,1046.2L1146.7,1046.3L1147,1046.4L1147.3,1046.5L1147.6,1046.6L1147.9,1046.7L1148.1,1046.7L1148.4,1046.8L1148.7,1046.9L1149,1046.9L1149.3,1047L1149.6,1047L1149.9,1047L1150.2,1047.1L1150.5,1047.1L1150.8,1047.1L1151,1047.1L1151.3,1047.2L1151.6,1047.2L1151.9,1047.2L1152.2,1047.2L1152.5,1047.2L1152.8,1047.2L1153.1,1047.2L1153.4,1047.2L1153.7,1047.1L1154,1047.1L1154.2,1047.1L1154.5,1047.1L1154.8,1047.1L1155.1,1047L1155.4,1047L1155.7,1047L1156,1046.9L1156.3,1046.9L1156.6,1046.9L1156.9,1046.8L1157.1,1046.8L1157.4,1046.7L1157.7,1046.7L1158,1046.6L1158.3,1046.6L1158.6,1046.5L1158.9,1046.5L1159.2,1046.4L1159.5,1046.4L1159.8,1046.3L1160,1046.2L1160.3,1046.2L1160.6,1046.1L1160.9,1046L1161.2,1046L1161.5,1045.9L1161.8,1045.8L1162.1,1045.8L1162.4,1045.7L1162.7,1045.6L1163,1045.6L1163.2,1045.5L1163.5,1045.4L1163.8,1045.3L1164.1,1045.3L1164.4,1045.2L1164.7,1045.1L1165,1045L1165.3,1045L1165.6,1044.9L1165.9,1044.8L1166.1,1044.7L1166.4,1044.6L1166.7,1044.6L1167,1044.5L1167.3,1044.4L1167.6,1044.3L1167.9,1044.2L1168.2,1044.1L1168.5,1044L1168.8,1044L1169,1043.9L1169.3,1043.8L1169.6,1043.7L1169.9,1043.6L1170.2,1043.5L1170.5,1043.4L1170.8,1043.3L1171.1,1043.2L1171.4,1043.1L1171.7,1043L1171.9,1042.9L1172.2,1042.8L1172.5,1042.7L1172.8,1042.6L1173.1,1042.5L1173.4,1042.4L1173.7,1042.3L1174,1042.2L1174.3,1042.1L1174.6,1042L1174.9,1041.9L1175.1,1041.8L1175.4,1041.7L1175.7,1041.6L1176,1041.5L1176.3,1041.4L1176.6,1041.3L1176.9,1041.2L1177.2,1041.1L1177.5,1041L1177.8,1040.9L1178,1040.8L1178.3,1040.6L1178.6,1040.5L1178.9,1040.4L1179.2,1040.3L1179.5,1040.2L1179.8,1040.1L1180.1,1040L1180.4,1039.8L1180.7,1039.7L1180.9,1039.6L1181.2,1039.5L1181.5,1039.4L1181.8,1039.2L1182.1,1039.1L1182.4,1039L1182.7,1038.9L1183,1038.7L1183.3,1038.6L1183.6,1038.5L1183.9,1038.4L1184.1,1038.2L1184.4,1038.1L1184.7,1038L1185,1037.9L1185.3,1037.7L1185.6,1037.6L1185.9,1037.5L1186.2,1037.3L1186.5,1037.2L1186.8,1037.1L1187,1036.9L1187.3,1036.8L1187.6,1036.7L1187.9,1036.5L1188.2,1036.4L1188.5,1036.2L1188.8,1036.1L1189.1,1036L1189.4,1035.8L1189.7,1035.7L1189.9,1035.5L1190.2,1035.4L1190.5,1035.3L1190.8,1035.1L1191.1,1035L1191.4,1034.8L1191.7,1034.7L1192,1034.5L1192.3,1034.4L1192.6,1034.2L1192.9,1034.1L1193.1,1033.9L1193.4,1033.8L1193.7,1033.6L1194,1033.5L1194.3,1033.3L1194.6,1033.2L1194.9,1033L1195.2,1032.8L1195.5,1032.7L1195.8,1032.5L1196,1032.4L1196.3,1032.2L1196.6,1032.1L1196.9,1031.9L1197.2,1031.7L1197.5,1031.6L1197.8,1031.4L1198.1,1031.2L1198.4,1031.1L1198.7,1030.9L1198.9,1030.8L1199.2,1030.6L1199.5,1030.4L1199.8,1030.3L1200.1,1030.1L1200.4,1029.9L1200.7,1029.8L1201,1029.6L1201.3,1029.4L1201.6,1029.2L1201.9,1029.1L1202.1,1028.9L1202.4,1028.7L1202.7,1028.6L1203,1028.4L1203.3,1028.2L1203.6,1028L1203.9,1027.9L1204.2,1027.7L1204.5,1027.5L1204.8,1027.3L1205,1027.2L1205.3,1027L1205.6,1026.8L1205.9,1026.6L1206.2,1026.4L1206.5,1026.3L1206.8,1026.1L1207.1,1025.9L1207.4,1025.7L1207.7,1025.5L1207.9,1025.4L1208.2,1025.2L1208.5,1025L1208.8,1024.8L1209.1,1024.6L1209.4,1024.4L1209.7,1024.3L1210,1024.1L1210.3,1023.9L1210.6,1023.7L1210.8,1023.5L1211.1,1023.3L1211.4,1023.2L1211.7,1023L1212,1022.8L1212.3,1022.6L1212.6,1022.4L1212.9,1022.2L1213.2,1022L1213.5,1021.8L1213.8,1021.7L1214,1021.5L1214.3,1021.3L1214.6,1021.1L1214.9,1020.9L1215.2,1020.7L1215.5,1020.5L1215.8,1020.3L1216.1,1020.1L1216.4,1020L1216.7,1019.8L1216.9,1019.6L1217.2,1019.4L1217.5,1019.2L1217.8,1019L1218.1,1018.8L1218.4,1018.6L1218.7,1018.4L1219,1018.2L1219.3,1018.1L1219.6,1017.9L1219.8,1017.7L1220.1,1017.5L1220.4,1017.3L1220.7,1017.1L1221,1016.9L1221.3,1016.7L1221.6,1016.5L1221.9,1016.3L1222.2,1016.2L1222.5,1016L1222.8,1015.8L1223,1015.6L1223.3,1015.4L1223.6,1015.2L1223.9,1015L1224.2,1014.8L1224.5,1014.7L1224.8,1014.5L1225.1,1014.3L1225.4,1014.1L1225.7,1013.9L1225.9,1013.7L1226.2,1013.5L1226.5,1013.4L1226.8,1013.2L1227.1,1013L1227.4,1012.8L1227.7,1012.6L1228,1012.4L1228.3,1012.2L1228.6,1012.1L1228.8,1011.9L1229.1,1011.7L1229.4,1011.5L1229.7,1011.3L1230,1011.2L1230.3,1011L1230.6,1010.8L1230.9,1010.6L1231.2,1010.4L1231.5,1010.3L1231.8,1010.1L1232,1009.9L1232.3,1009.7L1232.6,1009.6L1232.9,1009.4L1233.2,1009.2L1233.5,1009.1L1233.8,1008.9L1234.1,1008.7L1234.4,1008.5L1234.7,1008.4L1234.9,1008.2L1235.2,1008L1235.5,1007.9L1235.8,1007.7L1236.1,1007.5L1236.4,1007.4L1236.7,1007.2L1237,1007.1L1237.3,1006.9L1237.6,1006.7L1237.8,1006.6L1238.1,1006.4L1238.4,1006.3L1238.7,1006.1L1239,1005.9L1239.3,1005.8L1239.6,1005.6L1239.9,1005.5L1240.2,1005.3L1240.5,1005.2L1240.8,1005L1241,1004.9L1241.3,1004.7L1241.6,1004.6L1241.9,1004.4L1242.2,1004.3L1242.5,1004.2L1242.8,1004L1243.1,1003.9L1243.4,1003.7L1243.7,1003.6L1243.9,1003.5L1244.2,1003.3L1244.5,1003.2L1244.8,1003.1L1245.1,1002.9L1245.4,1002.8L1245.7,1002.7L1246,1002.5L1246.3,1002.4L1246.6,1002.3L1246.8,1002.2L1247.1,1002L1247.4,1001.9L1247.7,1001.8L1248,1001.7L1248.3,1001.6L1248.6,1001.4L1248.9,1001.3L1249.2,1001.2L1249.5,1001.1L1249.7,1001L1250,1000.9L1250.3,1000.8L1250.6,1000.7L1250.9,1000.6L1251.2,1000.5L1251.5,1000.4L1251.8,1000.3L1252.1,1000.2L1252.4,1000.1L1252.7,1000L1252.9,999.9L1253.2,999.8L1253.5,999.7L1253.8,999.6L1254.1,999.5L1254.4,999.4L1254.7,999.4L1255,999.3L1255.3,999.2L1255.6,999.1L1255.8,999L1256.1,999L1256.4,998.9L1256.7,998.8L1257,998.8L1257.3,998.7L1257.6,998.6L1257.9,998.5L1258.2,998.5L1258.5,998.4L1258.7,998.4L1259,998.3L1259.3,998.2L1259.6,998.2L1259.9,998.1L1260.2,998.1L1260.5,998L1260.8,998L1261.1,997.9L1261.4,997.9L1261.7,997.9L1261.9,997.8L1262.2,997.8L1262.5,997.7L1262.8,997.7L1263.1,997.7L1263.4,997.6L1263.7,997.6L1264,997.6L1264.3,997.6L1264.6,997.5L1264.8,997.5L1265.1,997.5L1265.4,997.5L1265.7,997.4L1266,997.4L1266.3,997.4L1266.6,997.4L1266.9,997.4L1267.2,997.4L1267.5,997.4L1267.7,997.4L1268,997.4L1268.3,997.4L1268.6,997.4L1268.9,997.4L1269.2,997.4L1269.5,997.4L1269.8,997.4L1270.1,997.4L1270.4,997.4L1270.7,997.4L1270.9,997.4L1271.2,997.5L1271.5,997.5L1271.8,997.5L1272.1,997.5L1272.4,997.5L1272.7,997.6L1273,997.6L1273.3,997.6L1273.6,997.6L1273.8,997.7L1274.1,997.7L1274.4,997.7L1274.7,997.8L1275,997.8L1275.3,997.9L1275.6,997.9L1275.9,998L1276.2,998L1276.5,998.1L1276.7,998.1L1277,998.2L1277.3,998.2L1277.6,998.3L1277.9,998.3L1278.2,998.4L1278.5,998.4L1278.8,998.5L1279.1,998.6L1279.4,998.6L1279.7,998.7L1279.9,998.8L1280.2,998.8L1280.5,998.9L1280.8,999L1281.1,999L1281.4,999.1L1281.7,999.2L1282,999.3L1282.3,999.4L1282.6,999.4L1282.8,999.5L1283.1,999.6L1283.4,999.7L1283.7,999.8L1284,999.9L1284.3,1000L1284.6,1000.1L1284.9,1000.2L1285.2,1000.3L1285.5,1000.4L1285.7,1000.5L1286,1000.6L1286.3,1000.7L1286.6,1000.8L1286.9,1000.9L1287.2,1001L1287.5,1001.1L1287.8,1001.2L1288.1,1001.3L1288.4,1001.4L1288.7,1001.5L1288.9,1001.6L1289.2,1001.7L1289.5,1001.9L1289.8,1002L1290.1,1002.1L1290.4,1002.2L1290.7,1002.3L1291,1002.5L1291.3,1002.6L1291.6,1002.7L1291.8,1002.8L1292.1,1003L1292.4,1003.1L1292.7,1003.2L1293,1003.4L1293.3,1003.5L1293.6,1003.6L1293.9,1003.7L1294.2,1003.9L1294.5,1004L1294.7,1004.2L1295,1004.3L1295.3,1004.4L1295.6,1004.6L1295.9,1004.7L1296.2,1004.9L1296.5,1005L1296.8,1005.1L1297.1,1005.3L1297.4,1005.4L1297.6,1005.6L1297.9,1005.7L1298.2,1005.9L1298.5,1006L1298.8,1006.2L1299.1,1006.3L1299.4,1006.5L1299.7,1006.6L1300,1006.8L1300.3,1006.9L1300.6,1007.1L1300.8,1007.2L1301.1,1007.4L1301.4,1007.6L1301.7,1007.7L1302,1007.9L1302.3,1008L1302.6,1008.2L1302.9,1008.3L1303.2,1008.5L1303.5,1008.7L1303.7,1008.8L1304,1009L1304.3,1009.1L1304.6,1009.3L1304.9,1009.5L1305.2,1009.6L1305.5,1009.8L1305.8,1010L1306.1,1010.1L1306.4,1010.3L1306.6,1010.4L1306.9,1010.6L1307.2,1010.8L1307.5,1010.9L1307.8,1011.1L1308.1,1011.3L1308.4,1011.4L1308.7,1011.6L1309,1011.8L1309.3,1011.9L1309.6,1012.1L1309.8,1012.3L1310.1,1012.4L1310.4,1012.6L1310.7,1012.8L1311,1012.9L1311.3,1013.1L1311.6,1013.3L1311.9,1013.4L1312.2,1013.6L1312.5,1013.8L1312.7,1013.9L1313,1014.1L1313.3,1014.3L1313.6,1014.5L1313.9,1014.6L1314.2,1014.8L1314.5,1015L1314.8,1015.1L1315.1,1015.3L1315.4,1015.5L1315.6,1015.6L1315.9,1015.8L1316.2,1015.9L1316.5,1016.1L1316.8,1016.3L1317.1,1016.4L1317.4,1016.6L1317.7,1016.8L1318,1016.9L1318.3,1017.1L1318.6,1017.3L1318.8,1017.4L1319.1,1017.6L1319.4,1017.8L1319.7,1017.9L1320,1018.1L1320.3,1018.2L1320.6,1018.4L1320.9,1018.6L1321.2,1018.7L1321.5,1018.9L1321.7,1019L1322,1019.2L1322.3,1019.3L1322.6,1019.5L1322.9,1019.7L1323.2,1019.8L1323.5,1020L1323.8,1020.1L1324.1,1020.3L1324.4,1020.4L1324.6,1020.6L1324.9,1020.7L1325.2,1020.9L1325.5,1021L1325.8,1021.2L1326.1,1021.3L1326.4,1021.5L1326.7,1021.6L1327,1021.8L1327.3,1021.9L1327.6,1022.1L1327.8,1022.2L1328.1,1022.3L1328.4,1022.5L1328.7,1022.6L1329,1022.8L1329.3,1022.9L1329.6,1023L1329.9,1023.2L1330.2,1023.3L1330.5,1023.4L1330.7,1023.6L1331,1023.7L1331.3,1023.8L1331.6,1024L1331.9,1024.1L1332.2,1024.2L1332.5,1024.4L1332.8,1024.5L1333.1,1024.6L1333.4,1024.7L1333.6,1024.9L1333.9,1025L1334.2,1025.1L1334.5,1025.2L1334.8,1025.3L1335.1,1025.5L1335.4,1025.6L1335.7,1025.7L1336,1025.8L1336.3,1025.9L1336.5,1026L1336.8,1026.1L1337.1,1026.3L1337.4,1026.4L1337.7,1026.5L1338,1026.6L1338.3,1026.7L1338.6,1026.8L1338.9,1026.9L1339.2,1027L1339.5,1027.1L1339.7,1027.2L1340,1027.3L1340.3,1027.4L1340.6,1027.5L1340.9,1027.6L1341.2,1027.7L1341.5,1027.7L1341.8,1027.8L1342.1,1027.9L1342.4,1028L1342.6,1028.1L1342.9,1028.2L1343.2,1028.3L1343.5,1028.3L1343.8,1028.4L1344.1,1028.5L1344.4,1028.6L1344.7,1028.6L1345,1028.7L1345.3,1028.8L1345.5,1028.9L1345.8,1028.9L1346.1,1029L1346.4,1029.1L1346.7,1029.1L1347,1029.2L1347.3,1029.2L1347.6,1029.3L1347.9,1029.4L1348.2,1029.4L1348.5,1029.5L1348.7,1029.5L1349,1029.6L1349.3,1029.6L1349.6,1029.7L1349.9,1029.7L1350.2,1029.8L1350.5,1029.8L1350.8,1029.9L1351.1,1029.9L1351.4,1029.9L1351.6,1030L1351.9,1030L1352.2,1030.1L1352.5,1030.1L1352.8,1030.1L1353.1,1030.2L1353.4,1030.2L1353.7,1030.2L1354,1030.2L1354.3,1030.3L1354.5,1030.3L1354.8,1030.3L1355.1,1030.3L1355.4,1030.3L1355.7,1030.4L1356,1030.4L1356.3,1030.4L1356.6,1030.4L1356.9,1030.4L1357.2,1030.4L1357.5,1030.4L1357.7,1030.4L1358,1030.4L1358.3,1030.4L1358.6,1030.4L1358.9,1030.4L1359.2,1030.4L1359.5,1030.4L1359.8,1030.4L1360.1,1030.4L1360.4,1030.4L1360.6,1030.4L1360.9,1030.4L1361.2,1030.4L1361.5,1030.4L1361.8,1030.4L1362.1,1030.3L1362.4,1030.3L1362.7,1030.3L1363,1030.3L1363.3,1030.3L1363.5,1030.2L1363.8,1030.2L1364.1,1030.2L1364.4,1030.2L1364.7,1030.1L1365,1030.1L1365.3,1030.1L1365.6,1030L1365.9,1030L1366.2,1029.9L1366.5,1029.9L1366.7,1029.9L1367,1029.8L1367.3,1029.8L1367.6,1029.7L1367.9,1029.7L1368.2,1029.6L1368.5,1029.6L1368.8,1029.5L1369.1,1029.5L1369.4,1029.4L1369.6,1029.4L1369.9,1029.3L1370.2,1029.3L1370.5,1029.2L1370.8,1029.1L1371.1,1029.1L1371.4,1029L1371.7,1029L1372,1028.9L1372.3,1028.8L1372.5,1028.7L1372.8,1028.7L1373.1,1028.6L1373.4,1028.5L1373.7,1028.5L1374,1028.4L1374.3,1028.3L1374.6,1028.2L1374.9,1028.1L1375.2,1028.1L1375.4,1028L1375.7,1027.9L1376,1027.8L1376.3,1027.7L1376.6,1027.6L1376.9,1027.6L1377.2,1027.5L1377.5,1027.4L1377.8,1027.3L1378.1,1027.2L1378.4,1027.1L1378.6,1027L1378.9,1026.9L1379.2,1026.8L1379.5,1026.7L1379.8,1026.6L1380.1,1026.5L1380.4,1026.4L1380.7,1026.3L1381,1026.2L1381.3,1026.1L1381.5,1026L1381.8,1025.9L1382.1,1025.8L1382.4,1025.7L1382.7,1025.6L1383,1025.5L1383.3,1025.3L1383.6,1025.2L1383.9,1025.1L1384.2,1025L1384.4,1024.9L1384.7,1024.8L1385,1024.7L1385.3,1024.5L1385.6,1024.4L1385.9,1024.3L1386.2,1024.2L1386.5,1024.1L1386.8,1023.9L1387.1,1023.8L1387.4,1023.7L1387.6,1023.6L1387.9,1023.4L1388.2,1023.3L1388.5,1023.2L1388.8,1023.1L1389.1,1022.9L1389.4,1022.8L1389.7,1022.7L1390,1022.6L1390.3,1022.4L1390.5,1022.3L1390.8,1022.2L1391.1,1022L1391.4,1021.9L1391.7,1021.8L1392,1021.6L1392.3,1021.5L1392.6,1021.4L1392.9,1021.2L1393.2,1021.1L1393.4,1021L1393.7,1020.8L1394,1020.7L1394.3,1020.5L1394.6,1020.4L1394.9,1020.3L1395.2,1020.1L1395.5,1020L1395.8,1019.9L1396.1,1019.7L1396.4,1019.6L1396.6,1019.4L1396.9,1019.3L1397.2,1019.2L1397.5,1019L1397.8,1018.9L1398.1,1018.7L1398.4,1018.6L1398.7,1018.5L1399,1018.3L1399.3,1018.2L1399.5,1018L1399.8,1017.9L1400.1,1017.7L1400.4,1017.6L1400.7,1017.5L1401,1017.3L1401.3,1017.2L1401.6,1017L1401.9,1016.9L1402.2,1016.8L1402.4,1016.6L1402.7,1016.5L1403,1016.3L1403.3,1016.2L1403.6,1016L1403.9,1015.9L1404.2,1015.8L1404.5,1015.6L1404.8,1015.5L1405.1,1015.3L1405.4,1015.2L1405.6,1015.1L1405.9,1014.9L1406.2,1014.8L1406.5,1014.7L1406.8,1014.5L1407.1,1014.4L1407.4,1014.2L1407.7,1014.1L1408,1014L1408.3,1013.8L1408.5,1013.7L1408.8,1013.6L1409.1,1013.4L1409.4,1013.3L1409.7,1013.1L1410,1013L1410.3,1012.9L1410.6,1012.7L1410.9,1012.6L1411.2,1012.5L1411.4,1012.4L1411.7,1012.2L1412,1012.1L1412.3,1012L1412.6,1011.8L1412.9,1011.7L1413.2,1011.6L1413.5,1011.5L1413.8,1011.3L1414.1,1011.2L1414.4,1011.1L1414.6,1011L1414.9,1010.8L1415.2,1010.7L1415.5,1010.6L1415.8,1010.5L1416.1,1010.3L1416.4,1010.2L1416.7,1010.1L1417,1010L1417.3,1009.9L1417.5,1009.8L1417.8,1009.6L1418.1,1009.5L1418.4,1009.4L1418.7,1009.3L1419,1009.2L1419.3,1009.1L1419.6,1009L1419.9,1008.9L1420.2,1008.8L1420.4,1008.7L1420.7,1008.6L1421,1008.5L1421.3,1008.4L1421.6,1008.2L1421.9,1008.1L1422.2,1008.1L1422.5,1008L1422.8,1007.9L1423.1,1007.8L1423.3,1007.7L1423.6,1007.6L1423.9,1007.5L1424.2,1007.4L1424.5,1007.3L1424.8,1007.2L1425.1,1007.1L1425.4,1007L1425.7,1007L1426,1006.9L1426.3,1006.8L1426.5,1006.7L1426.8,1006.6L1427.1,1006.6L1427.4,1006.5L1427.7,1006.4L1428,1006.3L1428.3,1006.3L1428.6,1006.2L1428.9,1006.1L1429.2,1006L1429.4,1006L1429.7,1005.9L1430,1005.8L1430.3,1005.8L1430.6,1005.7L1430.9,1005.7L1431.2,1005.6L1431.5,1005.5L1431.8,1005.5L1432.1,1005.4L1432.3,1005.4L1432.6,1005.3L1432.9,1005.3L1433.2,1005.2L1433.5,1005.2L1433.8,1005.1L1434.1,1005.1L1434.4,1005.1L1434.7,1005L1435,1005L1435.3,1004.9L1435.5,1004.9L1435.8,1004.9L1436.1,1004.8L1436.4,1004.8L1436.7,1004.8L1437,1004.7L1437.3,1004.7L1437.6,1004.7L1437.9,1004.7L1438.2,1004.6L1438.4,1004.6L1438.7,1004.6L1439,1004.6L1439.3,1004.6L1439.6,1004.6L1439.9,1004.6L1440.2,1004.5L1440.5,1004.5L1440.8,1004.5L1441.1,1004.5L1441.3,1004.5L1441.6,1004.5L1441.9,1004.5L1442.2,1004.5L1442.5,1004.5L1442.8,1004.5L1443.1,1004.5L1443.4,1004.5L1443.7,1004.5L1444,1004.5L1444.3,1004.6L1444.5,1004.6L1444.8,1004.6L1445.1,1004.6L1445.4,1004.6L1445.7,1004.6L1446,1004.7L1446.3,1004.7L1446.6,1004.7L1446.9,1004.7L1447.2,1004.8L1447.4,1004.8L1447.7,1004.8L1448,1004.9L1448.3,1004.9L1448.6,1004.9L1448.9,1005L1449.2,1005L1449.5,1005.1L1449.8,1005.1L1450.1,1005.1L1450.3,1005.2L1450.6,1005.2L1450.9,1005.3L1451.2,1005.3L1451.5,1005.4L1451.8,1005.4L1452.1,1005.5L1452.4,1005.5L1452.7,1005.6L1453,1005.7L1453.3,1005.7L1453.5,1005.8L1453.8,1005.9L1454.1,1005.9L1454.4,1006L1454.7,1006.1L1455,1006.1L1455.3,1006.2L1455.6,1006.3L1455.9,1006.3L1456.2,1006.4L1456.4,1006.5L1456.7,1006.6L1457,1006.7L1457.3,1006.7L1457.6,1006.8L1457.9,1006.9L1458.2,1007L1458.5,1007.1L1458.8,1007.2L1459.1,1007.3L1459.3,1007.4L1459.6,1007.4L1459.9,1007.5L1460.2,1007.6L1460.5,1007.7L1460.8,1007.8L1461.1,1007.9L1461.4,1008L1461.7,1008.1L1462,1008.2L1462.2,1008.3L1462.5,1008.4L1462.8,1008.6L1463.1,1008.7L1463.4,1008.8L1463.7,1008.9L1464,1009L1464.3,1009.1L1464.6,1009.2L1464.9,1009.3L1465.2,1009.5L1465.4,1009.6L1465.7,1009.7L1466,1009.8L1466.3,1009.9L1466.6,1010.1L1466.9,1010.2L1467.2,1010.3L1467.5,1010.4L1467.8,1010.6L1468.1,1010.7L1468.3,1010.8L1468.6,1010.9L1468.9,1011.1L1469.2,1011.2L1469.5,1011.3L1469.8,1011.5L1470.1,1011.6L1470.4,1011.7L1470.7,1011.9L1471,1012L1471.2,1012.2L1471.5,1012.3L1471.8,1012.4L1472.1,1012.6L1472.4,1012.7L1472.7,1012.9L1473,1013L1473.3,1013.2L1473.6,1013.3L1473.9,1013.4L1474.2,1013.6L1474.4,1013.7L1474.7,1013.9L1475,1014L1475.3,1014.2L1475.6,1014.3L1475.9,1014.5L1476.2,1014.6L1476.5,1014.8L1476.8,1014.9L1477.1,1015.1L1477.3,1015.3L1477.6,1015.4L1477.9,1015.6" fill="none" stroke="#e51e10" stroke-width="3.6" stroke-linejoin="round"/></g><path d="M896.9,1068.75H1475.5" stroke="#000" stroke-width="3.7" stroke-dasharray="8.8 13.76" fill="none"/><path d="M918,803.5V819.5M918,804.5H924" stroke="#000" stroke-width="2.6" fill="none"/><rect x="896.6" y="622.4" width="580.6" height="472" fill="none" stroke="#000" stroke-width="3" stroke-linejoin="round"/><path d="M1041.8,1094.4v-9M1041.8,622.4v9M1186.9,1094.4v-9M1186.9,622.4v9M1332,1094.4v-9M1332,622.4v9M896.6,1068.8h9M1477.2,1068.8h-9M896.6,966.1h9M1477.2,966.1h-9M896.6,863.5h9M1477.2,863.5h-9M896.6,760.9h9M1477.2,760.9h-9M896.6,658.3h9M1477.2,658.3h-9" stroke="#000" stroke-width="1.6" fill="none"/><text x="863.12" y="1078.35" font-size="31" textLength="16.90" lengthAdjust="spacingAndGlyphs" stroke="#000" stroke-width="0.55">0</text><text x="863.41" y="975.74" font-size="31" textLength="16.90" lengthAdjust="spacingAndGlyphs" stroke="#000" stroke-width="0.55">2</text><text x="862.83" y="873.13" font-size="31" textLength="16.90" lengthAdjust="spacingAndGlyphs" stroke="#000" stroke-width="0.55">4</text><text x="863.22" y="770.53" font-size="31" textLength="16.90" lengthAdjust="spacingAndGlyphs" stroke="#000" stroke-width="0.55">6</text><text x="863.22" y="667.92" font-size="31" textLength="16.90" lengthAdjust="spacingAndGlyphs" stroke="#000" stroke-width="0.55">8</text><text x="891.00" y="1134.60" font-size="31" font-weight="normal" fill="#000" stroke="#000" stroke-width="0.55">0</text><text x="1023.35" y="1134.60" font-size="31" font-weight="normal" fill="#000" stroke="#000" stroke-width="0.55">0.1</text><text x="1168.50" y="1134.60" font-size="31" font-weight="normal" fill="#000" stroke="#000" stroke-width="0.55">0.2</text><text x="1313.55" y="1134.60" font-size="31" font-weight="normal" fill="#000" stroke="#000" stroke-width="0.55">0.3</text><text x="1458.50" y="1134.60" font-size="31" font-weight="normal" fill="#000" stroke="#000" stroke-width="0.55">0.4</text><text transform="translate(806.80,904.07) rotate(-90)" x="0" y="0" font-size="38" textLength="65.53" lengthAdjust="spacingAndGlyphs" >g(r)</text><text x="1178.23" y="1178.20" font-size="38" font-weight="normal" fill="#000" textLength="17.05" lengthAdjust="spacingAndGlyphs" >r</text><text x="1407.74" y="662.50" font-size="30" font-weight="normal" fill="#000" textLength="41.68" lengthAdjust="spacingAndGlyphs" >(d)</text><text x="1206.70" y="659.60" font-size="23" font-weight="normal" fill="#000" textLength="47.67" lengthAdjust="spacingAndGlyphs" >ABP</text><text x="1294.06" y="661.30" font-size="32.3" font-weight="normal" fill="#000" textLength="21.80" lengthAdjust="spacingAndGlyphs" stroke="#000" stroke-width="0.55">U</text><text x="1314.40" y="670.50" font-size="24.5" font-weight="normal" fill="#000" textLength="13.62" lengthAdjust="spacingAndGlyphs" stroke="#000" stroke-width="0.55">0</text><text x="1327.51" y="661.30" font-size="32.3" font-weight="normal" fill="#000" textLength="16.34" lengthAdjust="spacingAndGlyphs" stroke="#000" stroke-width="0.55">=</text><text x="1342.50" y="661.30" font-size="32.3" font-weight="normal" fill="#000" textLength="17.96" lengthAdjust="spacingAndGlyphs" stroke="#000" stroke-width="0.55">2</text><path d="M1374.8,646.1L1383.3,654.6L1374.8,663.1L1366.3,654.6Z" fill="none" stroke="#0072b2" stroke-width="2"/><path d="M1373.8,654.6a1.0,1.0 0 1,0 2.0,0a1.0,1.0 0 1,0 -2.0,0Z" fill="#0072b2"/><text x="1206.70" y="698.60" font-size="23" font-weight="normal" fill="#000" textLength="67.43" lengthAdjust="spacingAndGlyphs" >AOUP</text><text x="1294.06" y="697.50" font-size="32.3" font-weight="normal" fill="#000" textLength="21.80" lengthAdjust="spacingAndGlyphs" stroke="#000" stroke-width="0.55">U</text><text x="1314.40" y="706.70" font-size="24.5" font-weight="normal" fill="#000" textLength="13.62" lengthAdjust="spacingAndGlyphs" stroke="#000" stroke-width="0.55">0</text><text x="1327.51" y="697.50" font-size="32.3" font-weight="normal" fill="#000" textLength="16.34" lengthAdjust="spacingAndGlyphs" stroke="#000" stroke-width="0.55">=</text><text x="1342.50" y="697.50" font-size="32.3" font-weight="normal" fill="#000" textLength="17.96" lengthAdjust="spacingAndGlyphs" stroke="#000" stroke-width="0.55">2</text><path d="M1362.5,690.8H1388" stroke="#0072b2" stroke-width="4"/><text x="1206.70" y="732.00" font-size="23" font-weight="normal" fill="#000" textLength="47.67" lengthAdjust="spacingAndGlyphs" >ABP</text><text x="1294.06" y="733.70" font-size="32.3" font-weight="normal" fill="#000" textLength="21.80" lengthAdjust="spacingAndGlyphs" stroke="#000" stroke-width="0.55">U</text><text x="1314.40" y="742.90" font-size="24.5" font-weight="normal" fill="#000" textLength="13.62" lengthAdjust="spacingAndGlyphs" stroke="#000" stroke-width="0.55">0</text><text x="1327.51" y="733.70" font-size="32.3" font-weight="normal" fill="#000" textLength="16.34" lengthAdjust="spacingAndGlyphs" stroke="#000" stroke-width="0.55">=</text><text x="1342.95" y="733.70" font-size="32.3" font-weight="normal" fill="#000" textLength="17.15" lengthAdjust="spacingAndGlyphs" stroke="#000" stroke-width="0.55">3</text><path d="M1374.8,718.5L1383.3,727L1374.8,735.5L1366.3,727Z" fill="none" stroke="#e69f00" stroke-width="2"/><path d="M1373.8,727a1.0,1.0 0 1,0 2.0,0a1.0,1.0 0 1,0 -2.0,0Z" fill="#e69f00"/><text x="1206.70" y="771.00" font-size="23" font-weight="normal" fill="#000" textLength="67.43" lengthAdjust="spacingAndGlyphs" >AOUP</text><text x="1294.06" y="769.90" font-size="32.3" font-weight="normal" fill="#000" textLength="21.80" lengthAdjust="spacingAndGlyphs" stroke="#000" stroke-width="0.55">U</text><text x="1314.40" y="779.10" font-size="24.5" font-weight="normal" fill="#000" textLength="13.62" lengthAdjust="spacingAndGlyphs" stroke="#000" stroke-width="0.55">0</text><text x="1327.51" y="769.90" font-size="32.3" font-weight="normal" fill="#000" textLength="16.34" lengthAdjust="spacingAndGlyphs" stroke="#000" stroke-width="0.55">=</text><text x="1342.95" y="769.90" font-size="32.3" font-weight="normal" fill="#000" textLength="17.15" lengthAdjust="spacingAndGlyphs" stroke="#000" stroke-width="0.55">3</text><path d="M1362.5,763.2H1388" stroke="#e69f00" stroke-width="4"/><text x="1206.70" y="804.40" font-size="23" font-weight="normal" fill="#000" textLength="47.67" lengthAdjust="spacingAndGlyphs" >ABP</text><text x="1294.06" y="806.10" font-size="32.3" font-weight="normal" fill="#000" textLength="21.80" lengthAdjust="spacingAndGlyphs" stroke="#000" stroke-width="0.55">U</text><text x="1314.40" y="815.30" font-size="24.5" font-weight="normal" fill="#000" textLength="13.62" lengthAdjust="spacingAndGlyphs" stroke="#000" stroke-width="0.55">0</text><text x="1327.51" y="806.10" font-size="32.3" font-weight="normal" fill="#000" textLength="16.34" lengthAdjust="spacingAndGlyphs" stroke="#000" stroke-width="0.55">=</text><text x="1343.47" y="806.10" font-size="32.3" font-weight="normal" fill="#000" textLength="16.20" lengthAdjust="spacingAndGlyphs" stroke="#000" stroke-width="0.55">4</text><path d="M1365.9,799.4a8.9,8.9 0 1,0 17.8,0a8.9,8.9 0 1,0 -17.8,0Z" fill="none" stroke="#e51e10" stroke-width="2"/><path d="M1373.8,799.4a1.0,1.0 0 1,0 2.0,0a1.0,1.0 0 1,0 -2.0,0Z" fill="#e51e10"/><text x="1206.70" y="843.40" font-size="23" font-weight="normal" fill="#000" textLength="67.43" lengthAdjust="spacingAndGlyphs" >AOUP</text><text x="1294.06" y="842.30" font-size="32.3" font-weight="normal" fill="#000" textLength="21.80" lengthAdjust="spacingAndGlyphs" stroke="#000" stroke-width="0.55">U</text><text x="1314.40" y="851.50" font-size="24.5" font-weight="normal" fill="#000" textLength="13.62" lengthAdjust="spacingAndGlyphs" stroke="#000" stroke-width="0.55">0</text><text x="1327.51" y="842.30" font-size="32.3" font-weight="normal" fill="#000" textLength="16.34" lengthAdjust="spacingAndGlyphs" stroke="#000" stroke-width="0.55">=</text><text x="1343.47" y="842.30" font-size="32.3" font-weight="normal" fill="#000" textLength="16.20" lengthAdjust="spacingAndGlyphs" stroke="#000" stroke-width="0.55">4</text><path d="M1362.5,835.6H1388" stroke="#e51e10" stroke-width="4"/></svg></body></html>
